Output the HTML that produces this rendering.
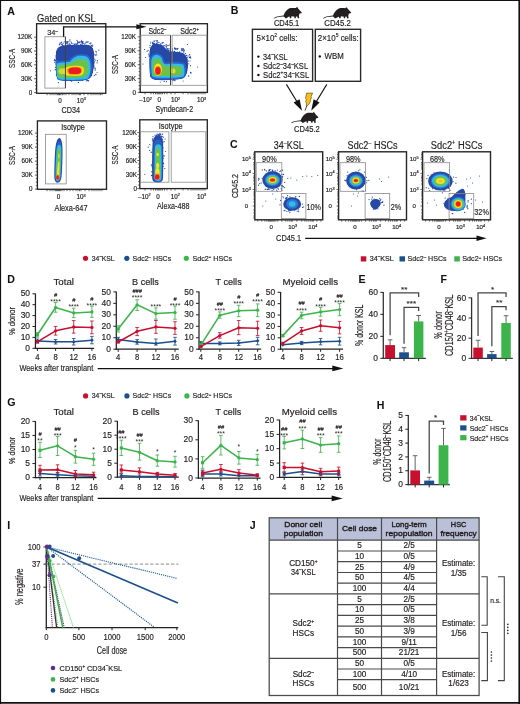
<!DOCTYPE html>
<html><head><meta charset="utf-8"><style>
html,body{margin:0;padding:0;background:#fff;}
svg{display:block;will-change:transform;}
text{font-family:"Liberation Sans",sans-serif;stroke:#231f20;stroke-width:0.18px;} text[font-weight="bold"]{stroke-width:0.05px;}
</style></head><body>
<svg width="520" height="704" viewBox="0 0 520 704">
<rect x="0" y="0" width="520" height="704" fill="#fff"/>
<line x1="0.5" y1="0" x2="0.5" y2="704" stroke="#111" stroke-width="1.2"/>
<line x1="0" y1="0.5" x2="520" y2="0.5" stroke="#111" stroke-width="1.2"/>
<line x1="519.2" y1="0" x2="519.2" y2="704" stroke="#111" stroke-width="1.6"/>
<line x1="0" y1="702.9" x2="520" y2="702.9" stroke="#111" stroke-width="1.6"/>
<text x="7.2" y="14.6" font-size="10.6" font-weight="bold" fill="#111">A</text>
<text x="230.7" y="14.2" font-size="10.6" font-weight="bold" fill="#111">B</text>
<text x="230" y="147.6" font-size="10.6" font-weight="bold" fill="#111">C</text>
<text x="7.3" y="282.6" font-size="10.6" font-weight="bold" fill="#111">D</text>
<text x="358.6" y="282.8" font-size="10.6" font-weight="bold" fill="#111">E</text>
<text x="440.4" y="282.8" font-size="10.6" font-weight="bold" fill="#111">F</text>
<text x="7.2" y="406.4" font-size="10.6" font-weight="bold" fill="#111">G</text>
<text x="376.8" y="408.8" font-size="10.6" font-weight="bold" fill="#111">H</text>
<text x="7.3" y="528.8" font-size="10.6" font-weight="bold" fill="#111">I</text>
<text x="249.8" y="528.8" font-size="10.6" font-weight="bold" fill="#111">J</text>
<text x="37" y="21.6" font-size="10.7" textLength="58.6" lengthAdjust="spacingAndGlyphs" fill="#231f20">Gated on KSL</text>
<defs><filter id="bl" x="-20%" y="-20%" width="140%" height="140%"><feGaussianBlur stdDeviation="0.55"/></filter><filter id="bl2" x="-20%" y="-20%" width="140%" height="140%"><feGaussianBlur stdDeviation="0.9"/></filter></defs>
<rect x="36.6" y="23.7" width="69.2" height="69.6" fill="none" stroke="#262626" stroke-width="1.35"/>
<text x="32.3" y="39.4" font-size="6.3" text-anchor="end" fill="#231f20">120K</text>
<line x1="34.1" y1="37.2" x2="36.6" y2="37.2" stroke="#333" stroke-width="0.8"/>
<text x="32.3" y="53.2" font-size="6.3" text-anchor="end" fill="#231f20">90K</text>
<line x1="34.1" y1="51" x2="36.6" y2="51" stroke="#333" stroke-width="0.8"/>
<text x="32.3" y="67" font-size="6.3" text-anchor="end" fill="#231f20">60K</text>
<line x1="34.1" y1="64.8" x2="36.6" y2="64.8" stroke="#333" stroke-width="0.8"/>
<text x="32.3" y="80.9" font-size="6.3" text-anchor="end" fill="#231f20">30K</text>
<line x1="34.1" y1="78.7" x2="36.6" y2="78.7" stroke="#333" stroke-width="0.8"/>
<text x="32.3" y="94.8" font-size="6.3" text-anchor="end" fill="#231f20">0</text>
<line x1="34.1" y1="92.6" x2="36.6" y2="92.6" stroke="#333" stroke-width="0.8"/>
<line x1="35" y1="40.66" x2="36.6" y2="40.66" stroke="#333" stroke-width="0.75"/>
<line x1="35" y1="44.12" x2="36.6" y2="44.12" stroke="#333" stroke-width="0.75"/>
<line x1="35" y1="47.59" x2="36.6" y2="47.59" stroke="#333" stroke-width="0.75"/>
<line x1="35" y1="54.46" x2="36.6" y2="54.46" stroke="#333" stroke-width="0.75"/>
<line x1="35" y1="57.92" x2="36.6" y2="57.92" stroke="#333" stroke-width="0.75"/>
<line x1="35" y1="61.39" x2="36.6" y2="61.39" stroke="#333" stroke-width="0.75"/>
<line x1="35" y1="68.26" x2="36.6" y2="68.26" stroke="#333" stroke-width="0.75"/>
<line x1="35" y1="71.72" x2="36.6" y2="71.72" stroke="#333" stroke-width="0.75"/>
<line x1="35" y1="75.19" x2="36.6" y2="75.19" stroke="#333" stroke-width="0.75"/>
<line x1="35" y1="82.16" x2="36.6" y2="82.16" stroke="#333" stroke-width="0.75"/>
<line x1="35" y1="85.62" x2="36.6" y2="85.62" stroke="#333" stroke-width="0.75"/>
<line x1="35" y1="89.09" x2="36.6" y2="89.09" stroke="#333" stroke-width="0.75"/>
<text x="14.8" y="58.4" font-size="9.86" text-anchor="middle" textLength="19" lengthAdjust="spacingAndGlyphs" transform="rotate(-90 14.8 58.4)" fill="#231f20">SSC-A</text>
<circle cx="88.41" cy="75.05" r="0.62" fill="#2446b0"/>
<circle cx="76.58" cy="44.03" r="0.62" fill="#2446b0"/>
<circle cx="56.09" cy="61.51" r="0.62" fill="#2446b0"/>
<circle cx="63.4" cy="45.83" r="0.62" fill="#2446b0"/>
<circle cx="89.61" cy="70.1" r="0.62" fill="#2446b0"/>
<circle cx="84.68" cy="45.93" r="0.62" fill="#2446b0"/>
<circle cx="76.35" cy="44.77" r="0.62" fill="#2446b0"/>
<circle cx="56.36" cy="67.2" r="0.62" fill="#2446b0"/>
<circle cx="77.73" cy="79.92" r="0.62" fill="#2446b0"/>
<circle cx="89.32" cy="51.5" r="0.62" fill="#2446b0"/>
<circle cx="93.97" cy="63.85" r="0.62" fill="#2446b0"/>
<circle cx="92.35" cy="54.5" r="0.62" fill="#2446b0"/>
<circle cx="78.92" cy="78.15" r="0.62" fill="#2446b0"/>
<circle cx="92.89" cy="64.07" r="0.62" fill="#2446b0"/>
<circle cx="57.37" cy="67.75" r="0.62" fill="#2446b0"/>
<circle cx="76.93" cy="77.87" r="0.62" fill="#2446b0"/>
<circle cx="78.69" cy="78.3" r="0.62" fill="#2446b0"/>
<circle cx="70.66" cy="76.83" r="0.62" fill="#2446b0"/>
<circle cx="85.07" cy="45.72" r="0.62" fill="#2446b0"/>
<circle cx="63.68" cy="47.88" r="0.62" fill="#2446b0"/>
<circle cx="95.21" cy="60.12" r="0.62" fill="#2446b0"/>
<circle cx="88.45" cy="72.89" r="0.62" fill="#2446b0"/>
<circle cx="71.48" cy="42.9" r="0.62" fill="#2446b0"/>
<circle cx="92.35" cy="54.18" r="0.62" fill="#2446b0"/>
<circle cx="84.46" cy="44.99" r="0.62" fill="#2446b0"/>
<circle cx="68.63" cy="78.02" r="0.62" fill="#2446b0"/>
<circle cx="89.93" cy="48.35" r="0.62" fill="#2446b0"/>
<circle cx="55.64" cy="60.4" r="0.62" fill="#2446b0"/>
<circle cx="92.83" cy="64.66" r="0.62" fill="#2446b0"/>
<circle cx="80.52" cy="44.26" r="0.62" fill="#2446b0"/>
<circle cx="83.95" cy="76.85" r="0.62" fill="#2446b0"/>
<circle cx="69.29" cy="43.51" r="0.62" fill="#2446b0"/>
<circle cx="61.67" cy="73.45" r="0.62" fill="#2446b0"/>
<circle cx="55.06" cy="60.02" r="0.62" fill="#2446b0"/>
<circle cx="56.42" cy="58.71" r="0.62" fill="#2446b0"/>
<circle cx="57.46" cy="62.06" r="0.62" fill="#2446b0"/>
<circle cx="94" cy="65.96" r="0.62" fill="#2446b0"/>
<circle cx="94.27" cy="59.1" r="0.62" fill="#2446b0"/>
<circle cx="60.85" cy="71.4" r="0.62" fill="#2446b0"/>
<circle cx="54.38" cy="60.73" r="0.62" fill="#2446b0"/>
<circle cx="77.47" cy="43.27" r="0.62" fill="#2446b0"/>
<circle cx="86.64" cy="47.95" r="0.62" fill="#2446b0"/>
<circle cx="54.55" cy="59.35" r="0.62" fill="#2446b0"/>
<circle cx="58.27" cy="52.72" r="0.62" fill="#2446b0"/>
<circle cx="72.68" cy="78.77" r="0.62" fill="#2446b0"/>
<circle cx="91.87" cy="56.66" r="0.62" fill="#2446b0"/>
<circle cx="79.22" cy="42.7" r="0.62" fill="#2446b0"/>
<circle cx="89.99" cy="48.88" r="0.62" fill="#2446b0"/>
<circle cx="81.95" cy="44.4" r="0.62" fill="#2446b0"/>
<circle cx="57.54" cy="54.4" r="0.62" fill="#2446b0"/>
<circle cx="94.02" cy="67.51" r="0.62" fill="#2446b0"/>
<circle cx="58.6" cy="53.82" r="0.62" fill="#2446b0"/>
<circle cx="55.97" cy="60.47" r="0.62" fill="#2446b0"/>
<circle cx="63.44" cy="74.55" r="0.62" fill="#2446b0"/>
<circle cx="56.09" cy="56.66" r="0.62" fill="#2446b0"/>
<g filter="url(#bl)">
<clipPath id="cA1"><path d="M55.8,54 C55.8,48 59,45.6 64,45.2 C70,44.8 80,44.4 88,44.8 C92.5,45.5 94.2,49 94.3,55 C94.6,63 94,71 92,76 C90,79.8 84,80.9 76,81 C68,81.2 60,81 57.5,79.2 C55.8,76 55.6,66 55.8,54 Z"/></clipPath><g clip-path="url(#cA1)">
<path d="M55.8,54 C55.8,48 59,45.6 64,45.2 C70,44.8 80,44.4 88,44.8 C92.5,45.5 94.2,49 94.3,55 C94.6,63 94,71 92,76 C90,79.8 84,80.9 76,81 C68,81.2 60,81 57.5,79.2 C55.8,76 55.6,66 55.8,54 Z" fill="#2548a8" stroke="none" stroke-width="1"/>
<path d="M56.8,63.5 C59,62.8 64,62.5 70,61.8 C72,59.5 74,57 77,56.2 C80,55.6 84,55.8 86.8,56.8 C89.5,58.8 90.3,62 90.5,66 C90.7,70 90.2,75 88,78.5 C83,80 72,80.1 63,79.8 C59,79.5 57.4,78.5 57,76.5 C56.5,72 56.5,65 56.8,61.5 Z" fill="#2d63c6" stroke="#2d63c6" stroke-width="3.6" stroke-linejoin="round"/>
<path d="M56.8,63.5 C59,62.8 64,62.5 70,61.8 C72,59.5 74,57 77,56.2 C80,55.6 84,55.8 86.8,56.8 C89.5,58.8 90.3,62 90.5,66 C90.7,70 90.2,75 88,78.5 C83,80 72,80.1 63,79.8 C59,79.5 57.4,78.5 57,76.5 C56.5,72 56.5,65 56.8,61.5 Z" fill="#2fbcee" stroke="none" stroke-width="1"/>
<path d="M57.4,65.5 C60,64.8 65,64.5 70,63.5 C72.5,62 75,60 78,59.2 C82,58.7 86,59.5 87.6,61.8 C88.8,65 88.8,70 88,74 C86,77.4 79,78 70,78.1 C64,78.1 60,77.9 58.3,76.8 C57.3,73.5 57.2,67 57.4,63.5 Z" fill="#6cc24a" stroke="none" stroke-width="1"/>
<ellipse cx="62" cy="71.2" rx="3.6" ry="3" fill="#c8dc3c"/>
<path d="M63.5,69.5 C65,67 69,66.3 74,65.8 C78,65.5 82,65.6 83.4,67.8 C84.4,70 84,73.5 82,75 C78,76 72,75.9 67,75.6 C64.5,75.2 63.4,73.5 63.4,71.5 Z" fill="#f3e51f" stroke="none" stroke-width="1"/>
<path d="M67.2,69.3 C68,67.4 71,66.9 75,66.7 C79,66.6 81.8,67 82.2,69.5 C82.4,72 81.6,74.3 78,74.7 C74,75 70,74.9 68.3,74 C67.1,72.9 67,70.8 67.2,69.3 Z" fill="#f7941d" stroke="none" stroke-width="1"/>
<path d="M68.6,69.6 C69.4,68 72,67.5 75,67.6 C78.5,67.6 80.8,68 81.1,70 C81.3,72 80.6,73.7 77.6,74 C74,74.2 71,74.1 69.5,73.5 C68.5,72.6 68.4,70.6 68.6,69.6 Z" fill="#ec1c24" stroke="none" stroke-width="1"/>
</g>
</g>
<circle cx="78.76" cy="42.47" r="0.74" fill="#2446b0"/>
<circle cx="90.42" cy="43.84" r="0.66" fill="#2446b0"/>
<circle cx="66.29" cy="42.61" r="0.57" fill="#2446b0"/>
<circle cx="82.54" cy="42.56" r="0.74" fill="#2446b0"/>
<circle cx="61.39" cy="42.47" r="0.52" fill="#2446b0"/>
<circle cx="85.18" cy="43.33" r="0.61" fill="#2446b0"/>
<circle cx="70.08" cy="44.69" r="0.6" fill="#2446b0"/>
<circle cx="66.08" cy="43.65" r="0.57" fill="#2446b0"/>
<circle cx="62.77" cy="45.62" r="0.66" fill="#2446b0"/>
<circle cx="81.6" cy="45.91" r="0.59" fill="#2446b0"/>
<circle cx="71.9" cy="43.61" r="0.6" fill="#2446b0"/>
<circle cx="81.74" cy="41.53" r="0.61" fill="#2446b0"/>
<circle cx="77.19" cy="43.23" r="0.5" fill="#2446b0"/>
<circle cx="82.96" cy="41.55" r="0.64" fill="#2446b0"/>
<circle cx="64.21" cy="41.67" r="0.54" fill="#2446b0"/>
<circle cx="61.24" cy="42.25" r="0.67" fill="#2446b0"/>
<circle cx="83.76" cy="43.31" r="0.66" fill="#2446b0"/>
<circle cx="75.15" cy="43.99" r="0.71" fill="#2446b0"/>
<circle cx="69.58" cy="45.85" r="0.67" fill="#2446b0"/>
<circle cx="82.24" cy="41.53" r="0.52" fill="#2446b0"/>
<circle cx="60.09" cy="43.23" r="0.73" fill="#2446b0"/>
<circle cx="88.77" cy="45.69" r="0.53" fill="#2446b0"/>
<circle cx="82.99" cy="45.37" r="0.7" fill="#2446b0"/>
<circle cx="85.94" cy="42.2" r="0.54" fill="#2446b0"/>
<circle cx="85.95" cy="45.19" r="0.72" fill="#2446b0"/>
<circle cx="74.18" cy="45.95" r="0.53" fill="#2446b0"/>
<circle cx="91.54" cy="45.92" r="0.58" fill="#2446b0"/>
<circle cx="61.3" cy="44.24" r="0.67" fill="#2446b0"/>
<circle cx="70.91" cy="41.79" r="0.57" fill="#2446b0"/>
<circle cx="87.03" cy="41.95" r="0.73" fill="#2446b0"/>
<circle cx="67.5" cy="42.52" r="0.52" fill="#2446b0"/>
<circle cx="92.36" cy="46.01" r="0.58" fill="#2446b0"/>
<circle cx="62.25" cy="44.77" r="0.72" fill="#2446b0"/>
<circle cx="59.41" cy="44.67" r="0.71" fill="#2446b0"/>
<circle cx="74.6" cy="44.35" r="0.7" fill="#2446b0"/>
<circle cx="67.11" cy="42.87" r="0.66" fill="#2446b0"/>
<circle cx="77.78" cy="44.18" r="0.58" fill="#2446b0"/>
<circle cx="90.86" cy="42.94" r="0.66" fill="#2446b0"/>
<circle cx="89.4" cy="43.5" r="0.51" fill="#2446b0"/>
<circle cx="66.49" cy="41.83" r="0.53" fill="#2446b0"/>
<circle cx="63.1" cy="43.21" r="0.59" fill="#2446b0"/>
<circle cx="74.21" cy="44.83" r="0.66" fill="#2446b0"/>
<circle cx="82.37" cy="43.32" r="0.66" fill="#2446b0"/>
<circle cx="77.69" cy="42.14" r="0.63" fill="#2446b0"/>
<circle cx="69.82" cy="44.88" r="0.68" fill="#2446b0"/>
<circle cx="67.18" cy="43.68" r="0.61" fill="#2446b0"/>
<circle cx="69.09" cy="41.7" r="0.51" fill="#2446b0"/>
<circle cx="92.76" cy="45.2" r="0.6" fill="#2446b0"/>
<circle cx="81.67" cy="42.84" r="0.67" fill="#2446b0"/>
<circle cx="91.33" cy="45.37" r="0.61" fill="#2446b0"/>
<circle cx="92.44" cy="46.11" r="0.51" fill="#2446b0"/>
<circle cx="73" cy="43.76" r="0.56" fill="#2446b0"/>
<circle cx="79.96" cy="42.22" r="0.68" fill="#2446b0"/>
<circle cx="88.16" cy="41.81" r="0.67" fill="#2446b0"/>
<circle cx="68.04" cy="44.69" r="0.67" fill="#2446b0"/>
<circle cx="67.85" cy="41.66" r="0.54" fill="#2446b0"/>
<circle cx="82.53" cy="41.63" r="0.59" fill="#2446b0"/>
<circle cx="80.05" cy="41.48" r="0.51" fill="#2446b0"/>
<circle cx="77.78" cy="41.67" r="0.62" fill="#2446b0"/>
<circle cx="86.87" cy="42.07" r="0.59" fill="#2446b0"/>
<circle cx="69.9" cy="39.95" r="0.7" fill="#2446b0"/>
<circle cx="81.93" cy="41.63" r="0.61" fill="#2446b0"/>
<circle cx="77.03" cy="40.28" r="0.63" fill="#2446b0"/>
<circle cx="67.78" cy="41.67" r="0.65" fill="#2446b0"/>
<circle cx="81.43" cy="40.36" r="0.52" fill="#2446b0"/>
<circle cx="97.42" cy="60.78" r="0.67" fill="#2446b0"/>
<circle cx="96.44" cy="54.02" r="0.52" fill="#2446b0"/>
<circle cx="95.91" cy="51.41" r="0.59" fill="#2446b0"/>
<circle cx="97.06" cy="72.42" r="0.53" fill="#2446b0"/>
<circle cx="93.83" cy="54.23" r="0.7" fill="#2446b0"/>
<circle cx="93.6" cy="54.31" r="0.52" fill="#2446b0"/>
<circle cx="94.01" cy="62.66" r="0.54" fill="#2446b0"/>
<circle cx="95.14" cy="68.53" r="0.68" fill="#2446b0"/>
<circle cx="95.16" cy="70.01" r="0.64" fill="#2446b0"/>
<circle cx="96.81" cy="54.97" r="0.59" fill="#2446b0"/>
<circle cx="95.82" cy="74.49" r="0.65" fill="#2446b0"/>
<circle cx="95.4" cy="55.03" r="0.57" fill="#2446b0"/>
<circle cx="94.36" cy="75.62" r="0.72" fill="#2446b0"/>
<circle cx="97.08" cy="62.8" r="0.67" fill="#2446b0"/>
<circle cx="94.69" cy="61.48" r="0.53" fill="#2446b0"/>
<circle cx="95.18" cy="55.08" r="0.52" fill="#2446b0"/>
<circle cx="56.42" cy="75.05" r="0.68" fill="#2446b0"/>
<circle cx="54.96" cy="62.6" r="0.67" fill="#2446b0"/>
<circle cx="56.11" cy="55.38" r="0.54" fill="#2446b0"/>
<circle cx="56.29" cy="57.72" r="0.66" fill="#2446b0"/>
<circle cx="55.16" cy="69.85" r="0.71" fill="#2446b0"/>
<circle cx="55.66" cy="64" r="0.58" fill="#2446b0"/>
<circle cx="55.74" cy="69.45" r="0.6" fill="#2446b0"/>
<circle cx="55.43" cy="67.34" r="0.56" fill="#2446b0"/>
<circle cx="86.34" cy="80.87" r="0.69" fill="#2446b0"/>
<circle cx="88.55" cy="80.78" r="0.69" fill="#2446b0"/>
<circle cx="70.04" cy="80.41" r="0.58" fill="#2446b0"/>
<circle cx="82.54" cy="80.37" r="0.66" fill="#2446b0"/>
<circle cx="70.54" cy="80.42" r="0.6" fill="#2446b0"/>
<circle cx="71.59" cy="81.15" r="0.71" fill="#2446b0"/>
<circle cx="87.61" cy="80.57" r="0.74" fill="#2446b0"/>
<circle cx="78.36" cy="82.4" r="0.7" fill="#2446b0"/>
<circle cx="50.5" cy="70.8" r="0.6" fill="#2446b0"/>
<circle cx="58.5" cy="82.7" r="0.6" fill="#2446b0"/>
<circle cx="96.5" cy="52" r="0.6" fill="#2446b0"/>
<circle cx="98.8" cy="50.2" r="0.6" fill="#2446b0"/>
<rect x="44.9" y="36.75" width="20.5" height="51.35" fill="none" stroke="#8a8a8a" stroke-width="0.8"/>
<line x1="65.4" y1="36.75" x2="65.4" y2="88.1" stroke="#333" stroke-width="0.9"/>
<text x="52.5" y="35.2" font-size="7.4" text-anchor="middle" fill="#231f20">34<tspan font-size="4.5" dy="-2.6">&#8211;</tspan><tspan dy="2.6"></tspan></text>
<path d="M63.6,36.8 V26.8 H138" fill="none" stroke="#111" stroke-width="1.3"/>
<path d="M136.4,24.3 L146.6,26.8 L136.4,29.3 Z" fill="#111" stroke="none" stroke-width="1"/>
<text x="60" y="102.6" font-size="6.3" text-anchor="middle" fill="#231f20">0</text>
<text x="81.2" y="102.6" font-size="6.3" text-anchor="middle" fill="#231f20">10<tspan font-size="3.8" dy="-2.2">3</tspan><tspan dy="2.2"></tspan></text>
<text x="70.8" y="112.6" font-size="9.54" text-anchor="middle" textLength="18.5" lengthAdjust="spacingAndGlyphs" fill="#231f20">CD34</text>
<line x1="47" y1="93.3" x2="47" y2="95.2" stroke="#333" stroke-width="0.75"/>
<line x1="50" y1="93.3" x2="50" y2="95.2" stroke="#333" stroke-width="0.75"/>
<line x1="52" y1="93.3" x2="52" y2="95.2" stroke="#333" stroke-width="0.75"/>
<line x1="54" y1="93.3" x2="54" y2="95.2" stroke="#333" stroke-width="0.75"/>
<line x1="56" y1="93.3" x2="56" y2="95.2" stroke="#333" stroke-width="0.75"/>
<line x1="57.5" y1="93.3" x2="57.5" y2="95.2" stroke="#333" stroke-width="0.75"/>
<line x1="58.5" y1="93.3" x2="58.5" y2="95.2" stroke="#333" stroke-width="0.75"/>
<line x1="59.5" y1="93.3" x2="59.5" y2="95.2" stroke="#333" stroke-width="0.75"/>
<line x1="60" y1="93.3" x2="60" y2="95.2" stroke="#333" stroke-width="0.75"/>
<line x1="61" y1="93.3" x2="61" y2="95.2" stroke="#333" stroke-width="0.75"/>
<line x1="62.5" y1="93.3" x2="62.5" y2="95.2" stroke="#333" stroke-width="0.75"/>
<line x1="64" y1="93.3" x2="64" y2="95.2" stroke="#333" stroke-width="0.75"/>
<line x1="66" y1="93.3" x2="66" y2="95.2" stroke="#333" stroke-width="0.75"/>
<line x1="69" y1="93.3" x2="69" y2="95.2" stroke="#333" stroke-width="0.75"/>
<line x1="72" y1="93.3" x2="72" y2="95.2" stroke="#333" stroke-width="0.75"/>
<line x1="74" y1="93.3" x2="74" y2="95.2" stroke="#333" stroke-width="0.75"/>
<line x1="76" y1="93.3" x2="76" y2="95.2" stroke="#333" stroke-width="0.75"/>
<line x1="78" y1="93.3" x2="78" y2="95.2" stroke="#333" stroke-width="0.75"/>
<line x1="79.5" y1="93.3" x2="79.5" y2="95.2" stroke="#333" stroke-width="0.75"/>
<line x1="80.5" y1="93.3" x2="80.5" y2="95.2" stroke="#333" stroke-width="0.75"/>
<line x1="84" y1="93.3" x2="84" y2="95.2" stroke="#333" stroke-width="0.75"/>
<line x1="88" y1="93.3" x2="88" y2="95.2" stroke="#333" stroke-width="0.75"/>
<line x1="91" y1="93.3" x2="91" y2="95.2" stroke="#333" stroke-width="0.75"/>
<line x1="93" y1="93.3" x2="93" y2="95.2" stroke="#333" stroke-width="0.75"/>
<line x1="95" y1="93.3" x2="95" y2="95.2" stroke="#333" stroke-width="0.75"/>
<line x1="97" y1="93.3" x2="97" y2="95.2" stroke="#333" stroke-width="0.75"/>
<line x1="99" y1="93.3" x2="99" y2="95.2" stroke="#333" stroke-width="0.75"/>
<line x1="100.5" y1="93.3" x2="100.5" y2="95.2" stroke="#333" stroke-width="0.75"/>
<line x1="102" y1="93.3" x2="102" y2="95.2" stroke="#333" stroke-width="0.75"/>
<rect x="140.2" y="23.7" width="67.2" height="68.7" fill="none" stroke="#262626" stroke-width="1.35"/>
<text x="136" y="39.1" font-size="6.3" text-anchor="end" fill="#231f20">120K</text>
<line x1="137.7" y1="36.9" x2="140.2" y2="36.9" stroke="#333" stroke-width="0.8"/>
<text x="136" y="53" font-size="6.3" text-anchor="end" fill="#231f20">90K</text>
<line x1="137.7" y1="50.8" x2="140.2" y2="50.8" stroke="#333" stroke-width="0.8"/>
<text x="136" y="66.9" font-size="6.3" text-anchor="end" fill="#231f20">60K</text>
<line x1="137.7" y1="64.7" x2="140.2" y2="64.7" stroke="#333" stroke-width="0.8"/>
<text x="136" y="80.8" font-size="6.3" text-anchor="end" fill="#231f20">30K</text>
<line x1="137.7" y1="78.6" x2="140.2" y2="78.6" stroke="#333" stroke-width="0.8"/>
<text x="136" y="94.6" font-size="6.3" text-anchor="end" fill="#231f20">0</text>
<line x1="137.7" y1="92.4" x2="140.2" y2="92.4" stroke="#333" stroke-width="0.8"/>
<line x1="138.6" y1="40.37" x2="140.2" y2="40.37" stroke="#333" stroke-width="0.75"/>
<line x1="138.6" y1="43.84" x2="140.2" y2="43.84" stroke="#333" stroke-width="0.75"/>
<line x1="138.6" y1="47.31" x2="140.2" y2="47.31" stroke="#333" stroke-width="0.75"/>
<line x1="138.6" y1="54.27" x2="140.2" y2="54.27" stroke="#333" stroke-width="0.75"/>
<line x1="138.6" y1="57.74" x2="140.2" y2="57.74" stroke="#333" stroke-width="0.75"/>
<line x1="138.6" y1="61.21" x2="140.2" y2="61.21" stroke="#333" stroke-width="0.75"/>
<line x1="138.6" y1="68.17" x2="140.2" y2="68.17" stroke="#333" stroke-width="0.75"/>
<line x1="138.6" y1="71.64" x2="140.2" y2="71.64" stroke="#333" stroke-width="0.75"/>
<line x1="138.6" y1="75.11" x2="140.2" y2="75.11" stroke="#333" stroke-width="0.75"/>
<line x1="138.6" y1="82.07" x2="140.2" y2="82.07" stroke="#333" stroke-width="0.75"/>
<line x1="138.6" y1="85.54" x2="140.2" y2="85.54" stroke="#333" stroke-width="0.75"/>
<line x1="138.6" y1="89.01" x2="140.2" y2="89.01" stroke="#333" stroke-width="0.75"/>
<text x="117.9" y="64.6" font-size="9.86" text-anchor="middle" textLength="19" lengthAdjust="spacingAndGlyphs" transform="rotate(-90 117.9 64.6)" fill="#231f20">SSC-A</text>
<circle cx="168.41" cy="48.89" r="0.62" fill="#2446b0"/>
<circle cx="166.45" cy="55.3" r="0.62" fill="#2446b0"/>
<circle cx="163.31" cy="42.62" r="0.62" fill="#2446b0"/>
<circle cx="153.42" cy="43.26" r="0.62" fill="#2446b0"/>
<circle cx="150.05" cy="45.43" r="0.62" fill="#2446b0"/>
<circle cx="150" cy="47.29" r="0.62" fill="#2446b0"/>
<circle cx="149.24" cy="56.29" r="0.62" fill="#2446b0"/>
<circle cx="156.16" cy="40.68" r="0.62" fill="#2446b0"/>
<circle cx="167.47" cy="48.72" r="0.62" fill="#2446b0"/>
<circle cx="149.16" cy="55.36" r="0.62" fill="#2446b0"/>
<circle cx="166.67" cy="54.09" r="0.62" fill="#2446b0"/>
<circle cx="148.73" cy="54.19" r="0.62" fill="#2446b0"/>
<circle cx="150.2" cy="59.71" r="0.62" fill="#2446b0"/>
<circle cx="148.12" cy="50.3" r="0.62" fill="#2446b0"/>
<circle cx="158.77" cy="61.32" r="0.62" fill="#2446b0"/>
<circle cx="153.85" cy="60.55" r="0.62" fill="#2446b0"/>
<circle cx="147.1" cy="51.26" r="0.62" fill="#2446b0"/>
<circle cx="153.79" cy="43.37" r="0.62" fill="#2446b0"/>
<circle cx="177.78" cy="71.33" r="0.62" fill="#2446b0"/>
<circle cx="169.85" cy="68.38" r="0.62" fill="#2446b0"/>
<circle cx="170.37" cy="52.64" r="0.62" fill="#2446b0"/>
<circle cx="187.85" cy="60.99" r="0.62" fill="#2446b0"/>
<circle cx="176.43" cy="70.7" r="0.62" fill="#2446b0"/>
<circle cx="187.19" cy="59.69" r="0.62" fill="#2446b0"/>
<circle cx="182.28" cy="50.39" r="0.62" fill="#2446b0"/>
<circle cx="170.85" cy="51.91" r="0.62" fill="#2446b0"/>
<circle cx="169.75" cy="50.97" r="0.62" fill="#2446b0"/>
<circle cx="166.41" cy="58.29" r="0.62" fill="#2446b0"/>
<circle cx="172.53" cy="50.87" r="0.62" fill="#2446b0"/>
<circle cx="177.54" cy="48.55" r="0.62" fill="#2446b0"/>
<circle cx="174.04" cy="69.77" r="0.62" fill="#2446b0"/>
<circle cx="183.77" cy="51.61" r="0.62" fill="#2446b0"/>
<circle cx="174.86" cy="48.16" r="0.62" fill="#2446b0"/>
<circle cx="174.53" cy="48.15" r="0.62" fill="#2446b0"/>
<circle cx="168.45" cy="67.3" r="0.62" fill="#2446b0"/>
<circle cx="166.59" cy="64.15" r="0.62" fill="#2446b0"/>
<circle cx="183.87" cy="52.8" r="0.62" fill="#2446b0"/>
<circle cx="183.38" cy="68.06" r="0.62" fill="#2446b0"/>
<circle cx="186.89" cy="57.6" r="0.62" fill="#2446b0"/>
<circle cx="170.09" cy="52.24" r="0.62" fill="#2446b0"/>
<circle cx="166.98" cy="59.5" r="0.62" fill="#2446b0"/>
<circle cx="170.83" cy="69.23" r="0.62" fill="#2446b0"/>
<circle cx="167.49" cy="53.88" r="0.62" fill="#2446b0"/>
<circle cx="172.41" cy="48.92" r="0.62" fill="#2446b0"/>
<circle cx="183.93" cy="50.35" r="0.62" fill="#2446b0"/>
<circle cx="172.44" cy="50.7" r="0.62" fill="#2446b0"/>
<circle cx="184.13" cy="50.6" r="0.62" fill="#2446b0"/>
<circle cx="185.58" cy="53.56" r="0.62" fill="#2446b0"/>
<g filter="url(#bl)">
<clipPath id="cA2"><path d="M149.3,54 C149.2,48 151.5,44 155,43.7 C159,43.5 162,44 164,46.5 C166,49 168.5,51.5 171,51.8 C174,51.2 178,51.3 182,52.5 C186,54 187.9,58 188,64 C188.2,71 187,76 183,78.5 C177,80 170,80.3 162,80.4 C155,80.4 151.5,79.5 150.2,77 C149.2,72 149.1,62 149.3,54 Z"/></clipPath><g clip-path="url(#cA2)">
<path d="M149.3,54 C149.2,48 151.5,44 155,43.7 C159,43.5 162,44 164,46.5 C166,49 168.5,51.5 171,51.8 C174,51.2 178,51.3 182,52.5 C186,54 187.9,58 188,64 C188.2,71 187,76 183,78.5 C177,80 170,80.3 162,80.4 C155,80.4 151.5,79.5 150.2,77 C149.2,72 149.1,62 149.3,54 Z" fill="#2548a8" stroke="none" stroke-width="1"/>
<path d="M151.3,62 C151.5,57 153.5,55 156.5,55 C160,55 161.8,57.5 162.6,61 C163.5,64.5 165,64.4 168,64 C173,63.5 180,63.5 183.2,64.5 C184.8,67 184.8,74 183.7,76.5 C179,77.8 172,77.8 166,77.7 C159,77.8 154,77.8 152.3,76.5 C151.4,73 151.2,66 151.3,62 Z" fill="#2d63c6" stroke="#2d63c6" stroke-width="3.6" stroke-linejoin="round"/>
<path d="M151.3,62 C151.5,57 153.5,55 156.5,55 C160,55 161.8,57.5 162.6,61 C163.5,64.5 165,64.4 168,64 C173,63.5 180,63.5 183.2,64.5 C184.8,67 184.8,74 183.7,76.5 C179,77.8 172,77.8 166,77.7 C159,77.8 154,77.8 152.3,76.5 C151.4,73 151.2,66 151.3,62 Z" fill="#2fbcee" stroke="none" stroke-width="1"/>
<path d="M152.5,63 C152.7,60 154.5,58.3 156.8,58.3 C159.5,58.3 161.2,60 162,63 C162.8,66 164.5,65.9 168,65.9 C173,65.7 179,65.7 181.6,66.5 C182.4,68.5 182.4,73 181.6,75 C177,75.8 170,75.9 165,76 C159,76.2 154.5,76.2 153,75 C152.4,72 152.3,66 152.5,63 Z" fill="#6cc24a" stroke="none" stroke-width="1"/>
<ellipse cx="172.9" cy="71.1" rx="2.6" ry="2.5" fill="#e4e02a"/>
<ellipse cx="158" cy="69.7" rx="3.9" ry="6.2" fill="#f3e51f"/>
<ellipse cx="157.9" cy="70.5" rx="3.1" ry="4.6" fill="#f7941d"/>
<ellipse cx="157.95" cy="70.8" rx="2.7" ry="3.9" fill="#ec1c24"/>
</g>
</g>
<circle cx="150.94" cy="41.97" r="0.5" fill="#2446b0"/>
<circle cx="153.96" cy="43.89" r="0.67" fill="#2446b0"/>
<circle cx="156.58" cy="43.89" r="0.61" fill="#2446b0"/>
<circle cx="162.11" cy="43.25" r="0.53" fill="#2446b0"/>
<circle cx="157.93" cy="42.65" r="0.63" fill="#2446b0"/>
<circle cx="153.01" cy="43.63" r="0.54" fill="#2446b0"/>
<circle cx="154.19" cy="41.58" r="0.56" fill="#2446b0"/>
<circle cx="152.53" cy="43.89" r="0.66" fill="#2446b0"/>
<circle cx="150.43" cy="43.09" r="0.52" fill="#2446b0"/>
<circle cx="159.01" cy="42.33" r="0.63" fill="#2446b0"/>
<circle cx="160.66" cy="44" r="0.67" fill="#2446b0"/>
<circle cx="154.11" cy="40.93" r="0.64" fill="#2446b0"/>
<circle cx="157.48" cy="44.52" r="0.71" fill="#2446b0"/>
<circle cx="152.63" cy="42.35" r="0.67" fill="#2446b0"/>
<circle cx="155.86" cy="44.85" r="0.5" fill="#2446b0"/>
<circle cx="155.79" cy="44.29" r="0.73" fill="#2446b0"/>
<circle cx="157.08" cy="41.63" r="0.64" fill="#2446b0"/>
<circle cx="154.46" cy="43.63" r="0.58" fill="#2446b0"/>
<circle cx="152.69" cy="43.14" r="0.69" fill="#2446b0"/>
<circle cx="156.86" cy="43.17" r="0.64" fill="#2446b0"/>
<circle cx="157.34" cy="40.53" r="0.59" fill="#2446b0"/>
<circle cx="162.23" cy="42.8" r="0.69" fill="#2446b0"/>
<circle cx="169.87" cy="48.84" r="0.6" fill="#2446b0"/>
<circle cx="164.78" cy="49.08" r="0.74" fill="#2446b0"/>
<circle cx="166.85" cy="50.38" r="0.5" fill="#2446b0"/>
<circle cx="167.75" cy="45.51" r="0.62" fill="#2446b0"/>
<circle cx="168.5" cy="50.42" r="0.63" fill="#2446b0"/>
<circle cx="170.82" cy="46.45" r="0.53" fill="#2446b0"/>
<circle cx="167.18" cy="49.36" r="0.67" fill="#2446b0"/>
<circle cx="163.33" cy="45.86" r="0.56" fill="#2446b0"/>
<circle cx="167.24" cy="50.46" r="0.56" fill="#2446b0"/>
<circle cx="163.41" cy="50.74" r="0.71" fill="#2446b0"/>
<circle cx="169.94" cy="44.29" r="0.56" fill="#2446b0"/>
<circle cx="164.59" cy="50.86" r="0.53" fill="#2446b0"/>
<circle cx="164.15" cy="45.65" r="0.69" fill="#2446b0"/>
<circle cx="164.78" cy="51.38" r="0.57" fill="#2446b0"/>
<circle cx="168.85" cy="45.44" r="0.57" fill="#2446b0"/>
<circle cx="170.79" cy="51.48" r="0.56" fill="#2446b0"/>
<circle cx="166.15" cy="44.43" r="0.54" fill="#2446b0"/>
<circle cx="166.46" cy="47.91" r="0.64" fill="#2446b0"/>
<circle cx="166.15" cy="45.19" r="0.63" fill="#2446b0"/>
<circle cx="166.14" cy="46.59" r="0.74" fill="#2446b0"/>
<circle cx="173.09" cy="51.79" r="0.64" fill="#2446b0"/>
<circle cx="174.55" cy="51.51" r="0.64" fill="#2446b0"/>
<circle cx="181.94" cy="50.75" r="0.68" fill="#2446b0"/>
<circle cx="181.3" cy="49.55" r="0.52" fill="#2446b0"/>
<circle cx="182.77" cy="48.53" r="0.63" fill="#2446b0"/>
<circle cx="183.9" cy="49.58" r="0.56" fill="#2446b0"/>
<circle cx="176.59" cy="48.91" r="0.68" fill="#2446b0"/>
<circle cx="175.58" cy="48.33" r="0.64" fill="#2446b0"/>
<circle cx="175.11" cy="48.81" r="0.5" fill="#2446b0"/>
<circle cx="182.07" cy="49.7" r="0.64" fill="#2446b0"/>
<circle cx="177.77" cy="51.91" r="0.51" fill="#2446b0"/>
<circle cx="179.61" cy="51.73" r="0.57" fill="#2446b0"/>
<circle cx="177.2" cy="49.51" r="0.58" fill="#2446b0"/>
<circle cx="183.34" cy="49.03" r="0.68" fill="#2446b0"/>
<circle cx="172.53" cy="51.52" r="0.52" fill="#2446b0"/>
<circle cx="181.47" cy="48.3" r="0.55" fill="#2446b0"/>
<circle cx="175.17" cy="49.27" r="0.69" fill="#2446b0"/>
<circle cx="178.05" cy="48.21" r="0.54" fill="#2446b0"/>
<circle cx="187.98" cy="55.88" r="0.64" fill="#2446b0"/>
<circle cx="186.66" cy="64.61" r="0.58" fill="#2446b0"/>
<circle cx="189.48" cy="57.47" r="0.74" fill="#2446b0"/>
<circle cx="186.36" cy="55.49" r="0.66" fill="#2446b0"/>
<circle cx="190.92" cy="72.96" r="0.7" fill="#2446b0"/>
<circle cx="186.76" cy="58.36" r="0.57" fill="#2446b0"/>
<circle cx="187.19" cy="57.75" r="0.57" fill="#2446b0"/>
<circle cx="187.89" cy="61.12" r="0.7" fill="#2446b0"/>
<circle cx="190.17" cy="56.95" r="0.63" fill="#2446b0"/>
<circle cx="189.65" cy="54.77" r="0.73" fill="#2446b0"/>
<circle cx="188.83" cy="63.86" r="0.6" fill="#2446b0"/>
<circle cx="190.51" cy="65.64" r="0.6" fill="#2446b0"/>
<circle cx="190.77" cy="58.03" r="0.61" fill="#2446b0"/>
<circle cx="190.63" cy="72.45" r="0.69" fill="#2446b0"/>
<circle cx="190.26" cy="57.25" r="0.66" fill="#2446b0"/>
<circle cx="188.53" cy="75.96" r="0.74" fill="#2446b0"/>
<circle cx="164.2" cy="81.45" r="0.63" fill="#2446b0"/>
<circle cx="166.39" cy="81.66" r="0.55" fill="#2446b0"/>
<circle cx="183.15" cy="81.04" r="0.52" fill="#2446b0"/>
<circle cx="174.83" cy="80.46" r="0.74" fill="#2446b0"/>
<circle cx="172.93" cy="80.41" r="0.73" fill="#2446b0"/>
<circle cx="160.27" cy="81.91" r="0.5" fill="#2446b0"/>
<circle cx="144.5" cy="49.5" r="0.6" fill="#2446b0"/>
<circle cx="145.5" cy="57.5" r="0.6" fill="#2446b0"/>
<circle cx="143" cy="64" r="0.6" fill="#2446b0"/>
<circle cx="190" cy="61" r="0.6" fill="#2446b0"/>
<circle cx="197.5" cy="67" r="0.6" fill="#2446b0"/>
<circle cx="187.5" cy="44.5" r="0.6" fill="#2446b0"/>
<rect x="140.9" y="35.2" width="29.6" height="50.1" fill="none" stroke="#8a8a8a" stroke-width="0.8"/>
<rect x="172.1" y="35.2" width="34.7" height="50.1" fill="none" stroke="#8a8a8a" stroke-width="0.8"/>
<line x1="170.5" y1="35.2" x2="170.5" y2="85.3" stroke="#3a3a3a" stroke-width="0.9"/>
<text x="157.4" y="33.6" font-size="8.25" text-anchor="middle" textLength="18" lengthAdjust="spacingAndGlyphs" fill="#231f20">Sdc2<tspan font-size="4.95" dy="-2.97">&#8211;</tspan><tspan dy="2.97"></tspan></text>
<text x="189.6" y="33.6" font-size="8.25" text-anchor="middle" textLength="18.7" lengthAdjust="spacingAndGlyphs" fill="#231f20">Sdc2<tspan font-size="4.95" dy="-2.97">+</tspan><tspan dy="2.97"></tspan></text>
<text x="145.5" y="102.3" font-size="6.3" text-anchor="middle" fill="#231f20">&#8211;10<tspan font-size="3.8" dy="-2.2">2</tspan><tspan dy="2.2"></tspan></text>
<text x="159.2" y="102.3" font-size="6.3" text-anchor="middle" fill="#231f20">0</text>
<text x="175.5" y="102.3" font-size="6.3" text-anchor="middle" fill="#231f20">10<tspan font-size="3.8" dy="-2.2">2</tspan><tspan dy="2.2"></tspan></text>
<text x="201.5" y="102.3" font-size="6.3" text-anchor="middle" fill="#231f20">10<tspan font-size="3.8" dy="-2.2">3</tspan><tspan dy="2.2"></tspan></text>
<text x="174.3" y="111.8" font-size="9.54" text-anchor="middle" textLength="37.5" lengthAdjust="spacingAndGlyphs" fill="#231f20">Syndecan-2</text>
<line x1="145" y1="92.4" x2="145" y2="94.3" stroke="#333" stroke-width="0.75"/>
<line x1="151" y1="92.4" x2="151" y2="94.3" stroke="#333" stroke-width="0.75"/>
<line x1="153.5" y1="92.4" x2="153.5" y2="94.3" stroke="#333" stroke-width="0.75"/>
<line x1="155.5" y1="92.4" x2="155.5" y2="94.3" stroke="#333" stroke-width="0.75"/>
<line x1="157" y1="92.4" x2="157" y2="94.3" stroke="#333" stroke-width="0.75"/>
<line x1="158" y1="92.4" x2="158" y2="94.3" stroke="#333" stroke-width="0.75"/>
<line x1="159" y1="92.4" x2="159" y2="94.3" stroke="#333" stroke-width="0.75"/>
<line x1="160" y1="92.4" x2="160" y2="94.3" stroke="#333" stroke-width="0.75"/>
<line x1="161" y1="92.4" x2="161" y2="94.3" stroke="#333" stroke-width="0.75"/>
<line x1="162.5" y1="92.4" x2="162.5" y2="94.3" stroke="#333" stroke-width="0.75"/>
<line x1="164.5" y1="92.4" x2="164.5" y2="94.3" stroke="#333" stroke-width="0.75"/>
<line x1="167" y1="92.4" x2="167" y2="94.3" stroke="#333" stroke-width="0.75"/>
<line x1="171" y1="92.4" x2="171" y2="94.3" stroke="#333" stroke-width="0.75"/>
<line x1="175" y1="92.4" x2="175" y2="94.3" stroke="#333" stroke-width="0.75"/>
<line x1="183" y1="92.4" x2="183" y2="94.3" stroke="#333" stroke-width="0.75"/>
<line x1="188" y1="92.4" x2="188" y2="94.3" stroke="#333" stroke-width="0.75"/>
<line x1="191" y1="92.4" x2="191" y2="94.3" stroke="#333" stroke-width="0.75"/>
<line x1="193" y1="92.4" x2="193" y2="94.3" stroke="#333" stroke-width="0.75"/>
<line x1="195" y1="92.4" x2="195" y2="94.3" stroke="#333" stroke-width="0.75"/>
<line x1="197" y1="92.4" x2="197" y2="94.3" stroke="#333" stroke-width="0.75"/>
<line x1="199" y1="92.4" x2="199" y2="94.3" stroke="#333" stroke-width="0.75"/>
<line x1="201" y1="92.4" x2="201" y2="94.3" stroke="#333" stroke-width="0.75"/>
<line x1="203" y1="92.4" x2="203" y2="94.3" stroke="#333" stroke-width="0.75"/>
<line x1="205" y1="92.4" x2="205" y2="94.3" stroke="#333" stroke-width="0.75"/>
<rect x="37.4" y="120.9" width="69.1" height="68.4" fill="none" stroke="#262626" stroke-width="1.35"/>
<text x="32.6" y="135.3" font-size="6.3" text-anchor="end" fill="#231f20">120K</text>
<line x1="34.9" y1="133.1" x2="37.4" y2="133.1" stroke="#333" stroke-width="0.8"/>
<text x="32.6" y="149.3" font-size="6.3" text-anchor="end" fill="#231f20">90K</text>
<line x1="34.9" y1="147.1" x2="37.4" y2="147.1" stroke="#333" stroke-width="0.8"/>
<text x="32.6" y="163.3" font-size="6.3" text-anchor="end" fill="#231f20">60K</text>
<line x1="34.9" y1="161.1" x2="37.4" y2="161.1" stroke="#333" stroke-width="0.8"/>
<text x="32.6" y="177.3" font-size="6.3" text-anchor="end" fill="#231f20">30K</text>
<line x1="34.9" y1="175.1" x2="37.4" y2="175.1" stroke="#333" stroke-width="0.8"/>
<text x="32.6" y="191.3" font-size="6.3" text-anchor="end" fill="#231f20">0</text>
<line x1="34.9" y1="189.1" x2="37.4" y2="189.1" stroke="#333" stroke-width="0.8"/>
<line x1="35.8" y1="136.6" x2="37.4" y2="136.6" stroke="#333" stroke-width="0.75"/>
<line x1="35.8" y1="140.1" x2="37.4" y2="140.1" stroke="#333" stroke-width="0.75"/>
<line x1="35.8" y1="143.6" x2="37.4" y2="143.6" stroke="#333" stroke-width="0.75"/>
<line x1="35.8" y1="150.6" x2="37.4" y2="150.6" stroke="#333" stroke-width="0.75"/>
<line x1="35.8" y1="154.1" x2="37.4" y2="154.1" stroke="#333" stroke-width="0.75"/>
<line x1="35.8" y1="157.6" x2="37.4" y2="157.6" stroke="#333" stroke-width="0.75"/>
<line x1="35.8" y1="164.6" x2="37.4" y2="164.6" stroke="#333" stroke-width="0.75"/>
<line x1="35.8" y1="168.1" x2="37.4" y2="168.1" stroke="#333" stroke-width="0.75"/>
<line x1="35.8" y1="171.6" x2="37.4" y2="171.6" stroke="#333" stroke-width="0.75"/>
<line x1="35.8" y1="178.6" x2="37.4" y2="178.6" stroke="#333" stroke-width="0.75"/>
<line x1="35.8" y1="182.1" x2="37.4" y2="182.1" stroke="#333" stroke-width="0.75"/>
<line x1="35.8" y1="185.6" x2="37.4" y2="185.6" stroke="#333" stroke-width="0.75"/>
<text x="15.4" y="155.5" font-size="9.86" text-anchor="middle" textLength="19" lengthAdjust="spacingAndGlyphs" transform="rotate(-90 15.4 155.5)" fill="#231f20">SSC-A</text>
<g filter="url(#bl)">
<path d="M57.5,182.7 C55.5,182.7 54.3,180.5 54.3,176 C54.3,168 54.6,158 55.2,150 C55.8,143 57.2,137.9 59.4,137.9 C61.4,137.9 62.4,143 62.5,150 C62.6,158 62.2,168 61.6,176 C61.2,180.5 59.6,182.7 57.5,182.7 Z" fill="#2548a8" stroke="none" stroke-width="1"/>
<path d="M57.6,181.8 C56,181.8 55.1,180 55.1,176 C55.1,168 55.4,158 56,150 C56.5,144.5 57.7,141.5 59.4,141.5 C61,141.5 61.7,144.5 61.8,150 C61.9,158 61.5,168 61,176 C60.6,180 59.3,181.8 57.6,181.8 Z" fill="#2c5fbf" stroke="none" stroke-width="1"/>
<path d="M57.6,181 C56.2,181 55.6,179 55.6,176 C55.6,168 56,158 56.6,150 C57,146.5 58,144.8 59.4,144.8 C60.7,144.8 61.3,147 61.3,150 C61.4,158 61,168 60.4,176 C60.1,179 59,181 57.6,181 Z" fill="#2fbcee" stroke="none" stroke-width="1"/>
<path d="M57.6,179.5 C56.6,179.5 56.4,178 56.4,176 C56.5,168 56.9,158 57.4,151 C57.7,149.3 58.4,148.6 59.3,148.6 C60.1,148.6 60.6,149.5 60.6,151 C60.6,158 60.2,168 59.6,176 C59.4,178.5 58.6,179.5 57.6,179.5 Z" fill="#6cc24a" stroke="none" stroke-width="1"/>
<path d="M57.5,178.8 C56.8,178.8 56.8,177 56.9,175 C57.1,170 57.6,166 58.1,162 C58.5,161 59.2,161 59.4,162 C59.6,166 59.4,170 59.2,175 C59.1,177.5 58.4,178.8 57.5,178.8 Z" fill="#f3e51f" stroke="none" stroke-width="1"/>
<ellipse cx="58.9" cy="156" rx="0.8" ry="2.5" fill="#c8dc3a"/>
<ellipse cx="57.6" cy="177.3" rx="1.7" ry="2.9" fill="#f7941d"/>
<ellipse cx="57.6" cy="177.5" rx="1.4" ry="2.3" fill="#ec1c24"/>
</g>
<rect x="45.4" y="134.3" width="20.8" height="49.6" fill="none" stroke="#8a8a8a" stroke-width="0.8"/>
<text x="73" y="130" font-size="8.14" text-anchor="middle" textLength="23.5" lengthAdjust="spacingAndGlyphs" fill="#231f20">Isotype</text>
<text x="58.5" y="199.3" font-size="6.3" text-anchor="middle" fill="#231f20">0</text>
<text x="81" y="199.3" font-size="6.3" text-anchor="middle" fill="#231f20">10<tspan font-size="3.8" dy="-2.2">3</tspan><tspan dy="2.2"></tspan></text>
<text x="71" y="210.8" font-size="9.54" text-anchor="middle" textLength="33" lengthAdjust="spacingAndGlyphs" fill="#231f20">Alexa-647</text>
<line x1="47" y1="189.3" x2="47" y2="191.2" stroke="#333" stroke-width="0.75"/>
<line x1="50" y1="189.3" x2="50" y2="191.2" stroke="#333" stroke-width="0.75"/>
<line x1="52" y1="189.3" x2="52" y2="191.2" stroke="#333" stroke-width="0.75"/>
<line x1="54" y1="189.3" x2="54" y2="191.2" stroke="#333" stroke-width="0.75"/>
<line x1="55.5" y1="189.3" x2="55.5" y2="191.2" stroke="#333" stroke-width="0.75"/>
<line x1="56.5" y1="189.3" x2="56.5" y2="191.2" stroke="#333" stroke-width="0.75"/>
<line x1="57.5" y1="189.3" x2="57.5" y2="191.2" stroke="#333" stroke-width="0.75"/>
<line x1="58.5" y1="189.3" x2="58.5" y2="191.2" stroke="#333" stroke-width="0.75"/>
<line x1="59.5" y1="189.3" x2="59.5" y2="191.2" stroke="#333" stroke-width="0.75"/>
<line x1="60.5" y1="189.3" x2="60.5" y2="191.2" stroke="#333" stroke-width="0.75"/>
<line x1="62" y1="189.3" x2="62" y2="191.2" stroke="#333" stroke-width="0.75"/>
<line x1="64" y1="189.3" x2="64" y2="191.2" stroke="#333" stroke-width="0.75"/>
<line x1="67" y1="189.3" x2="67" y2="191.2" stroke="#333" stroke-width="0.75"/>
<line x1="70" y1="189.3" x2="70" y2="191.2" stroke="#333" stroke-width="0.75"/>
<line x1="73" y1="189.3" x2="73" y2="191.2" stroke="#333" stroke-width="0.75"/>
<line x1="76" y1="189.3" x2="76" y2="191.2" stroke="#333" stroke-width="0.75"/>
<line x1="78" y1="189.3" x2="78" y2="191.2" stroke="#333" stroke-width="0.75"/>
<line x1="79.5" y1="189.3" x2="79.5" y2="191.2" stroke="#333" stroke-width="0.75"/>
<line x1="81" y1="189.3" x2="81" y2="191.2" stroke="#333" stroke-width="0.75"/>
<line x1="85" y1="189.3" x2="85" y2="191.2" stroke="#333" stroke-width="0.75"/>
<line x1="89" y1="189.3" x2="89" y2="191.2" stroke="#333" stroke-width="0.75"/>
<line x1="92" y1="189.3" x2="92" y2="191.2" stroke="#333" stroke-width="0.75"/>
<line x1="94" y1="189.3" x2="94" y2="191.2" stroke="#333" stroke-width="0.75"/>
<line x1="96" y1="189.3" x2="96" y2="191.2" stroke="#333" stroke-width="0.75"/>
<line x1="98" y1="189.3" x2="98" y2="191.2" stroke="#333" stroke-width="0.75"/>
<line x1="100" y1="189.3" x2="100" y2="191.2" stroke="#333" stroke-width="0.75"/>
<line x1="102" y1="189.3" x2="102" y2="191.2" stroke="#333" stroke-width="0.75"/>
<rect x="139.8" y="119.8" width="67.5" height="68.8" fill="none" stroke="#262626" stroke-width="1.35"/>
<text x="136.9" y="134.8" font-size="6.3" text-anchor="end" fill="#231f20">120K</text>
<line x1="137.3" y1="132.6" x2="139.8" y2="132.6" stroke="#333" stroke-width="0.8"/>
<text x="136.9" y="148.8" font-size="6.3" text-anchor="end" fill="#231f20">90K</text>
<line x1="137.3" y1="146.6" x2="139.8" y2="146.6" stroke="#333" stroke-width="0.8"/>
<text x="136.9" y="162.8" font-size="6.3" text-anchor="end" fill="#231f20">60K</text>
<line x1="137.3" y1="160.6" x2="139.8" y2="160.6" stroke="#333" stroke-width="0.8"/>
<text x="136.9" y="176.8" font-size="6.3" text-anchor="end" fill="#231f20">30K</text>
<line x1="137.3" y1="174.6" x2="139.8" y2="174.6" stroke="#333" stroke-width="0.8"/>
<text x="136.9" y="190.8" font-size="6.3" text-anchor="end" fill="#231f20">0</text>
<line x1="137.3" y1="188.6" x2="139.8" y2="188.6" stroke="#333" stroke-width="0.8"/>
<line x1="138.2" y1="136.1" x2="139.8" y2="136.1" stroke="#333" stroke-width="0.75"/>
<line x1="138.2" y1="139.6" x2="139.8" y2="139.6" stroke="#333" stroke-width="0.75"/>
<line x1="138.2" y1="143.1" x2="139.8" y2="143.1" stroke="#333" stroke-width="0.75"/>
<line x1="138.2" y1="150.1" x2="139.8" y2="150.1" stroke="#333" stroke-width="0.75"/>
<line x1="138.2" y1="153.6" x2="139.8" y2="153.6" stroke="#333" stroke-width="0.75"/>
<line x1="138.2" y1="157.1" x2="139.8" y2="157.1" stroke="#333" stroke-width="0.75"/>
<line x1="138.2" y1="164.1" x2="139.8" y2="164.1" stroke="#333" stroke-width="0.75"/>
<line x1="138.2" y1="167.6" x2="139.8" y2="167.6" stroke="#333" stroke-width="0.75"/>
<line x1="138.2" y1="171.1" x2="139.8" y2="171.1" stroke="#333" stroke-width="0.75"/>
<line x1="138.2" y1="178.1" x2="139.8" y2="178.1" stroke="#333" stroke-width="0.75"/>
<line x1="138.2" y1="181.6" x2="139.8" y2="181.6" stroke="#333" stroke-width="0.75"/>
<line x1="138.2" y1="185.1" x2="139.8" y2="185.1" stroke="#333" stroke-width="0.75"/>
<text x="118.4" y="155" font-size="9.86" text-anchor="middle" textLength="19" lengthAdjust="spacingAndGlyphs" transform="rotate(-90 118.4 155)" fill="#231f20">SSC-A</text>
<circle cx="158.26" cy="144.77" r="0.62" fill="#2446b0"/>
<circle cx="153.55" cy="142.95" r="0.62" fill="#2446b0"/>
<circle cx="163.02" cy="142.11" r="0.62" fill="#2446b0"/>
<circle cx="163.28" cy="137.17" r="0.62" fill="#2446b0"/>
<circle cx="158.32" cy="135.07" r="0.62" fill="#2446b0"/>
<circle cx="152.42" cy="138.85" r="0.62" fill="#2446b0"/>
<circle cx="160.26" cy="144.24" r="0.62" fill="#2446b0"/>
<circle cx="159.24" cy="145.76" r="0.62" fill="#2446b0"/>
<circle cx="160.8" cy="134.95" r="0.62" fill="#2446b0"/>
<circle cx="159.48" cy="135.33" r="0.62" fill="#2446b0"/>
<circle cx="155.58" cy="145.11" r="0.62" fill="#2446b0"/>
<circle cx="157.08" cy="134.23" r="0.62" fill="#2446b0"/>
<circle cx="161.62" cy="136.74" r="0.62" fill="#2446b0"/>
<circle cx="152.99" cy="136.57" r="0.62" fill="#2446b0"/>
<circle cx="152.42" cy="139.82" r="0.62" fill="#2446b0"/>
<circle cx="152.62" cy="140.79" r="0.62" fill="#2446b0"/>
<circle cx="148.2" cy="147.2" r="0.6" fill="#2446b0"/>
<circle cx="149.6" cy="150.3" r="0.6" fill="#2446b0"/>
<circle cx="165.5" cy="151.5" r="0.6" fill="#2446b0"/>
<circle cx="144.8" cy="174.5" r="0.6" fill="#2446b0"/>
<circle cx="164.8" cy="168.5" r="0.6" fill="#2446b0"/>
<circle cx="149.8" cy="144.5" r="0.6" fill="#2446b0"/>
<circle cx="162.5" cy="139.5" r="0.6" fill="#2446b0"/>
<circle cx="165.1" cy="139" r="0.6" fill="#2446b0"/>
<g filter="url(#bl)">
<path d="M152.2,178 C152,168 152,152 152.6,143 C153,138 155,135.6 158,135.6 C161,135.6 162.8,138 163.1,143 C163.4,152 163.3,168 163,178 C162.8,181.5 160.8,182.6 157.6,182.6 C154.4,182.6 152.4,181.5 152.2,178 Z" fill="#2548a8" stroke="none" stroke-width="1"/>
<path d="M153.4,178 C153.2,168 153.3,153 153.8,145 C154.2,141 155.8,139.6 158,139.6 C160.2,139.6 161.8,141 162.1,145 C162.5,153 162.5,168 162.2,178 C162,180.8 160.4,181.8 157.8,181.8 C155.2,181.8 153.6,180.8 153.4,178 Z" fill="#2c5fbf" stroke="none" stroke-width="1"/>
<path d="M154.6,178 C154.4,168 154.5,154 155,147 C155.3,145 156.5,144.2 158.1,144.2 C159.8,144.2 161.1,145 161.3,147 C161.7,154 161.7,168 161.4,178 C161.2,180.4 159.8,181 158,181 C156.2,181 154.8,180.4 154.6,178 Z" fill="#2fbcee" stroke="none" stroke-width="1"/>
<path d="M155.5,176 C155.4,168 155.5,156 155.8,150 C156,148 156.8,147 157.8,147 C158.9,147 159.7,148 159.9,150 C160.2,156 160.3,168 160.1,176 C160,178.5 159,179 157.8,179 C156.5,179 155.6,178.5 155.5,176 Z" fill="#6cc24a" stroke="none" stroke-width="1"/>
<ellipse cx="157.6" cy="154.5" rx="1.2" ry="1.8" fill="#f3e51f"/>
<ellipse cx="157.6" cy="165.5" rx="1.5" ry="2.8" fill="#f3e51f"/>
<ellipse cx="157.4" cy="172.5" rx="2.2" ry="4.5" fill="#f3e51f"/>
<ellipse cx="157.2" cy="176.8" rx="2.8" ry="3.2" fill="#f7941d"/>
<ellipse cx="157.2" cy="177" rx="2.3" ry="2.6" fill="#ec1c24"/>
</g>
<circle cx="158.23" cy="135" r="0.7" fill="#2446b0"/>
<circle cx="161.05" cy="136.28" r="0.59" fill="#2446b0"/>
<circle cx="162.56" cy="134.16" r="0.69" fill="#2446b0"/>
<circle cx="159.86" cy="134.16" r="0.73" fill="#2446b0"/>
<circle cx="159.92" cy="133.76" r="0.68" fill="#2446b0"/>
<circle cx="159.93" cy="135.34" r="0.5" fill="#2446b0"/>
<circle cx="159.76" cy="136.9" r="0.72" fill="#2446b0"/>
<circle cx="156.32" cy="135.83" r="0.54" fill="#2446b0"/>
<circle cx="158.47" cy="134.31" r="0.63" fill="#2446b0"/>
<circle cx="155.07" cy="135.14" r="0.59" fill="#2446b0"/>
<circle cx="156.04" cy="136.57" r="0.73" fill="#2446b0"/>
<circle cx="159.15" cy="136.26" r="0.65" fill="#2446b0"/>
<circle cx="160.69" cy="134.37" r="0.56" fill="#2446b0"/>
<circle cx="156.44" cy="135.28" r="0.62" fill="#2446b0"/>
<circle cx="162.18" cy="136.32" r="0.58" fill="#2446b0"/>
<circle cx="157.06" cy="135.96" r="0.68" fill="#2446b0"/>
<circle cx="164.14" cy="141.6" r="0.66" fill="#2446b0"/>
<circle cx="163.31" cy="158.33" r="0.6" fill="#2446b0"/>
<circle cx="163.31" cy="163.24" r="0.7" fill="#2446b0"/>
<circle cx="162.84" cy="166.42" r="0.65" fill="#2446b0"/>
<circle cx="163.46" cy="163.65" r="0.68" fill="#2446b0"/>
<circle cx="163.88" cy="155.97" r="0.7" fill="#2446b0"/>
<circle cx="164.05" cy="155.67" r="0.53" fill="#2446b0"/>
<circle cx="163.09" cy="147.79" r="0.59" fill="#2446b0"/>
<circle cx="151.22" cy="152.31" r="0.69" fill="#2446b0"/>
<circle cx="152.33" cy="175.66" r="0.68" fill="#2446b0"/>
<circle cx="151.61" cy="175.58" r="0.71" fill="#2446b0"/>
<circle cx="152.23" cy="166.8" r="0.72" fill="#2446b0"/>
<circle cx="151.48" cy="165" r="0.74" fill="#2446b0"/>
<circle cx="151.91" cy="171.68" r="0.72" fill="#2446b0"/>
<rect x="140.5" y="131.8" width="28.4" height="50.4" fill="none" stroke="#8a8a8a" stroke-width="0.8"/>
<rect x="171.2" y="131.8" width="34.6" height="50.4" fill="none" stroke="#8a8a8a" stroke-width="0.8"/>
<text x="170.7" y="129" font-size="8.14" text-anchor="middle" textLength="23.8" lengthAdjust="spacingAndGlyphs" fill="#231f20">Isotype</text>
<text x="144.3" y="198.6" font-size="6.3" text-anchor="middle" fill="#231f20">&#8211;10<tspan font-size="3.8" dy="-2.2">2</tspan><tspan dy="2.2"></tspan></text>
<text x="158" y="198.6" font-size="6.3" text-anchor="middle" fill="#231f20">0</text>
<text x="175.4" y="198.6" font-size="6.3" text-anchor="middle" fill="#231f20">10<tspan font-size="3.8" dy="-2.2">2</tspan><tspan dy="2.2"></tspan></text>
<text x="201.5" y="198.6" font-size="6.3" text-anchor="middle" fill="#231f20">10<tspan font-size="3.8" dy="-2.2">3</tspan><tspan dy="2.2"></tspan></text>
<text x="173.3" y="209.2" font-size="9.54" text-anchor="middle" textLength="32.5" lengthAdjust="spacingAndGlyphs" fill="#231f20">Alexa-488</text>
<line x1="145" y1="188.6" x2="145" y2="190.5" stroke="#333" stroke-width="0.75"/>
<line x1="151" y1="188.6" x2="151" y2="190.5" stroke="#333" stroke-width="0.75"/>
<line x1="153.5" y1="188.6" x2="153.5" y2="190.5" stroke="#333" stroke-width="0.75"/>
<line x1="155.5" y1="188.6" x2="155.5" y2="190.5" stroke="#333" stroke-width="0.75"/>
<line x1="157" y1="188.6" x2="157" y2="190.5" stroke="#333" stroke-width="0.75"/>
<line x1="158" y1="188.6" x2="158" y2="190.5" stroke="#333" stroke-width="0.75"/>
<line x1="159" y1="188.6" x2="159" y2="190.5" stroke="#333" stroke-width="0.75"/>
<line x1="160" y1="188.6" x2="160" y2="190.5" stroke="#333" stroke-width="0.75"/>
<line x1="161" y1="188.6" x2="161" y2="190.5" stroke="#333" stroke-width="0.75"/>
<line x1="162.5" y1="188.6" x2="162.5" y2="190.5" stroke="#333" stroke-width="0.75"/>
<line x1="164.5" y1="188.6" x2="164.5" y2="190.5" stroke="#333" stroke-width="0.75"/>
<line x1="167" y1="188.6" x2="167" y2="190.5" stroke="#333" stroke-width="0.75"/>
<line x1="171" y1="188.6" x2="171" y2="190.5" stroke="#333" stroke-width="0.75"/>
<line x1="175" y1="188.6" x2="175" y2="190.5" stroke="#333" stroke-width="0.75"/>
<line x1="183" y1="188.6" x2="183" y2="190.5" stroke="#333" stroke-width="0.75"/>
<line x1="188" y1="188.6" x2="188" y2="190.5" stroke="#333" stroke-width="0.75"/>
<line x1="191" y1="188.6" x2="191" y2="190.5" stroke="#333" stroke-width="0.75"/>
<line x1="193" y1="188.6" x2="193" y2="190.5" stroke="#333" stroke-width="0.75"/>
<line x1="195" y1="188.6" x2="195" y2="190.5" stroke="#333" stroke-width="0.75"/>
<line x1="197" y1="188.6" x2="197" y2="190.5" stroke="#333" stroke-width="0.75"/>
<line x1="199" y1="188.6" x2="199" y2="190.5" stroke="#333" stroke-width="0.75"/>
<line x1="201" y1="188.6" x2="201" y2="190.5" stroke="#333" stroke-width="0.75"/>
<line x1="203" y1="188.6" x2="203" y2="190.5" stroke="#333" stroke-width="0.75"/>
<line x1="205" y1="188.6" x2="205" y2="190.5" stroke="#333" stroke-width="0.75"/>
<path d="M0.4,10.7 C1.8,8.9 5,8.4 10.4,7.9 C11.5,5 12.8,2.6 16.2,0.7 C18.5,0.2 21,0.3 22.6,0.5 L23.3,-0.3 L24.4,-0.3 L24.9,0.9 C25.8,2 27,3.4 28.6,4.9 L28.2,5.6 L26.4,5.8 C25.9,6.8 25.7,7.8 25.7,8.4 L26.0,10.6 L24.6,10.7 L24.1,9.0 L22.7,8.9 L22.6,10.6 L21.3,10.6 L21.0,8.9 C20,8.9 19,8.8 18.2,8.6 L18.0,10.6 L16.6,10.6 L16.4,9.0 C15.3,9.3 14.3,9.8 13.4,10.6 L12.2,10.6 C11.8,9.8 11.2,9.2 10.2,8.9 C6,9.1 2.8,9.6 0.9,11.0 Z" fill="#231f20" transform="translate(273.2 7.6) scale(1)"/>
<text x="286.6" y="25.9" font-size="8.53" text-anchor="middle" textLength="25.4" lengthAdjust="spacingAndGlyphs" fill="#231f20">CD45.1</text>
<path d="M0.4,10.7 C1.8,8.9 5,8.4 10.4,7.9 C11.5,5 12.8,2.6 16.2,0.7 C18.5,0.2 21,0.3 22.6,0.5 L23.3,-0.3 L24.4,-0.3 L24.9,0.9 C25.8,2 27,3.4 28.6,4.9 L28.2,5.6 L26.4,5.8 C25.9,6.8 25.7,7.8 25.7,8.4 L26.0,10.6 L24.6,10.7 L24.1,9.0 L22.7,8.9 L22.6,10.6 L21.3,10.6 L21.0,8.9 C20,8.9 19,8.8 18.2,8.6 L18.0,10.6 L16.6,10.6 L16.4,9.0 C15.3,9.3 14.3,9.8 13.4,10.6 L12.2,10.6 C11.8,9.8 11.2,9.2 10.2,8.9 C6,9.1 2.8,9.6 0.9,11.0 Z" fill="#231f20" transform="translate(322.6 7.7) scale(1)"/>
<text x="337.5" y="25.9" font-size="8.53" text-anchor="middle" textLength="26.5" lengthAdjust="spacingAndGlyphs" fill="#231f20">CD45.2</text>
<rect x="252.4" y="29.3" width="60.2" height="52" fill="none" stroke="#2a2a2a" stroke-width="1.4"/>
<rect x="315.3" y="29.3" width="45.3" height="52" fill="none" stroke="#2a2a2a" stroke-width="1.4"/>
<text x="256.5" y="40.7" font-size="9.24" textLength="40.9" lengthAdjust="spacingAndGlyphs" fill="#231f20">5&#215;10<tspan font-size="5.85" dy="-3.74">2</tspan><tspan dy="3.74"> cells:</tspan></text>
<text x="317.8" y="40.7" font-size="9.24" textLength="40.9" lengthAdjust="spacingAndGlyphs" fill="#231f20">2&#215;10<tspan font-size="5.85" dy="-3.74">5</tspan><tspan dy="3.74"> cells:</tspan></text>
<circle cx="258.4" cy="56.6" r="1.2" fill="#111"/>
<circle cx="258.4" cy="66" r="1.2" fill="#111"/>
<circle cx="258.4" cy="75" r="1.2" fill="#111"/>
<text x="263" y="59.5" font-size="9.48" textLength="24.7" lengthAdjust="spacingAndGlyphs" fill="#231f20">34<tspan font-size="5.88" dy="-3.41">&#8211;</tspan><tspan dy="3.41">KSL</tspan></text>
<text x="263" y="68.9" font-size="9.48" textLength="45.1" lengthAdjust="spacingAndGlyphs" fill="#231f20">Sdc2<tspan font-size="5.88" dy="-3.36">&#8211;</tspan><tspan dy="3.36">34</tspan><tspan font-size="5.88" dy="-3.36">&#8211;</tspan><tspan dy="3.36">KSL</tspan></text>
<text x="263" y="77.9" font-size="9.48" textLength="46.2" lengthAdjust="spacingAndGlyphs" fill="#231f20">Sdc2<tspan font-size="5.88" dy="-3.6">+</tspan><tspan dy="3.6">34</tspan><tspan font-size="5.88" dy="-3.36">&#8211;</tspan><tspan dy="3.36">KSL</tspan></text>
<circle cx="319.8" cy="56.4" r="1.2" fill="#111"/>
<text x="324.6" y="59.2" font-size="8.69" textLength="19.2" lengthAdjust="spacingAndGlyphs" fill="#231f20">WBM</text>
<line x1="286.4" y1="84.4" x2="299.6" y2="106" stroke="#111" stroke-width="1.1"/>
<path d="M302,110.8 L293.6,102.4 L299.6,99.2 Z" fill="#111" stroke="none" stroke-width="1"/>
<line x1="326.8" y1="84.4" x2="313.6" y2="106" stroke="#111" stroke-width="1.1"/>
<path d="M311.2,110.8 L313.6,99.2 L319.6,102.4 Z" fill="#111" stroke="none" stroke-width="1"/>
<path d="M306.7,93.1 L312.6,93.1 L311.1,96.4 L311.5,97.6 L310.3,100.2 L310.6,101.3 L308.9,104.2 L307.0,106.2 L306.4,105.5 L306.6,103.0 L305.6,101.9 L306.3,99.6 L305.5,98.3 L306.0,96.0 Z" fill="#fcbf14" stroke="#2a2a2a" stroke-width="0.55"/>
<line x1="306.8" y1="105.6" x2="305" y2="110.6" stroke="#222" stroke-width="0.85"/>
<path d="M0.4,10.7 C1.8,8.9 5,8.4 10.4,7.9 C11.5,5 12.8,2.6 16.2,0.7 C18.5,0.2 21,0.3 22.6,0.5 L23.3,-0.3 L24.4,-0.3 L24.9,0.9 C25.8,2 27,3.4 28.6,4.9 L28.2,5.6 L26.4,5.8 C25.9,6.8 25.7,7.8 25.7,8.4 L26.0,10.6 L24.6,10.7 L24.1,9.0 L22.7,8.9 L22.6,10.6 L21.3,10.6 L21.0,8.9 C20,8.9 19,8.8 18.2,8.6 L18.0,10.6 L16.6,10.6 L16.4,9.0 C15.3,9.3 14.3,9.8 13.4,10.6 L12.2,10.6 C11.8,9.8 11.2,9.2 10.2,8.9 C6,9.1 2.8,9.6 0.9,11.0 Z" fill="#231f20" transform="translate(290.6 112.5) scale(0.97)"/>
<text x="306.9" y="131.5" font-size="8.53" text-anchor="middle" textLength="25.7" lengthAdjust="spacingAndGlyphs" fill="#231f20">CD45.2</text>
<text x="288.8" y="148.8" font-size="11.23" text-anchor="middle" textLength="30" lengthAdjust="spacingAndGlyphs" fill="#231f20">34<tspan font-size="6.96" dy="-3.81">&#8211;</tspan><tspan dy="3.81">KSL</tspan></text>
<circle cx="259.68" cy="183.71" r="0.62" fill="#2446b0"/>
<circle cx="283.56" cy="174.47" r="0.62" fill="#2446b0"/>
<circle cx="258.95" cy="179.37" r="0.62" fill="#2446b0"/>
<circle cx="277.46" cy="191.29" r="0.62" fill="#2446b0"/>
<circle cx="262.33" cy="169.9" r="0.62" fill="#2446b0"/>
<circle cx="282.04" cy="186.23" r="0.62" fill="#2446b0"/>
<circle cx="284.64" cy="187.53" r="0.62" fill="#2446b0"/>
<circle cx="268.75" cy="170.88" r="0.62" fill="#2446b0"/>
<circle cx="287.75" cy="178.35" r="0.62" fill="#2446b0"/>
<circle cx="264.62" cy="169.39" r="0.62" fill="#2446b0"/>
<circle cx="277.82" cy="188.01" r="0.62" fill="#2446b0"/>
<circle cx="262.14" cy="178.26" r="0.62" fill="#2446b0"/>
<circle cx="276.47" cy="190.08" r="0.62" fill="#2446b0"/>
<circle cx="284.73" cy="182.26" r="0.62" fill="#2446b0"/>
<circle cx="258.48" cy="185.16" r="0.62" fill="#2446b0"/>
<circle cx="258.73" cy="178.44" r="0.62" fill="#2446b0"/>
<circle cx="258.5" cy="180.02" r="0.62" fill="#2446b0"/>
<circle cx="261.13" cy="182.92" r="0.62" fill="#2446b0"/>
<circle cx="279.99" cy="204.87" r="0.62" fill="#2446b0"/>
<circle cx="286.97" cy="197.48" r="0.62" fill="#2446b0"/>
<circle cx="302.46" cy="204.03" r="0.62" fill="#2446b0"/>
<circle cx="289.9" cy="212.53" r="0.62" fill="#2446b0"/>
<circle cx="287.53" cy="195.63" r="0.62" fill="#2446b0"/>
<circle cx="280.62" cy="200.41" r="0.62" fill="#2446b0"/>
<circle cx="298.51" cy="209.78" r="0.62" fill="#2446b0"/>
<circle cx="298.65" cy="211.55" r="0.62" fill="#2446b0"/>
<circle cx="303.63" cy="206.81" r="0.62" fill="#2446b0"/>
<circle cx="302.59" cy="207.45" r="0.62" fill="#2446b0"/>
<circle cx="302.8" cy="176.5" r="0.55" fill="#2446b0"/>
<circle cx="306.8" cy="176" r="0.55" fill="#2446b0"/>
<circle cx="311.8" cy="176.5" r="0.55" fill="#2446b0"/>
<circle cx="317.8" cy="175.5" r="0.55" fill="#2446b0"/>
<circle cx="290.8" cy="178" r="0.55" fill="#2446b0"/>
<circle cx="296.8" cy="180" r="0.55" fill="#2446b0"/>
<circle cx="272.8" cy="194" r="0.55" fill="#2446b0"/>
<circle cx="275.8" cy="199" r="0.55" fill="#2446b0"/>
<circle cx="265.8" cy="201" r="0.55" fill="#2446b0"/>
<circle cx="262.8" cy="206" r="0.55" fill="#2446b0"/>
<circle cx="281.8" cy="188" r="0.55" fill="#2446b0"/>
<g filter="url(#bl)">
<ellipse cx="272.5" cy="180" rx="10.2" ry="9" fill="#2548a8"/>
<ellipse cx="272.5" cy="180" rx="7.6" ry="6.2" fill="#2f78cc"/>
<ellipse cx="272.5" cy="180" rx="6.4" ry="5" fill="#2fbcee"/>
<ellipse cx="272.5" cy="180" rx="5.2" ry="4" fill="#6cc24a"/>
<ellipse cx="272.5" cy="180" rx="4" ry="3" fill="#f3e51f"/>
<ellipse cx="272.5" cy="180" rx="3.1" ry="2.1" fill="#f7941d"/>
<ellipse cx="272.5" cy="180" rx="2.5" ry="1.6" fill="#ec1c24"/>
</g>
<circle cx="272.69" cy="170.61" r="0.7" fill="#2446b0"/>
<circle cx="269.21" cy="170.14" r="0.67" fill="#2446b0"/>
<circle cx="272.52" cy="170.22" r="0.6" fill="#2446b0"/>
<circle cx="269.4" cy="169.84" r="0.65" fill="#2446b0"/>
<circle cx="280.68" cy="170.88" r="0.65" fill="#2446b0"/>
<circle cx="269.55" cy="170.37" r="0.53" fill="#2446b0"/>
<circle cx="277.37" cy="170.09" r="0.57" fill="#2446b0"/>
<circle cx="282.42" cy="170.18" r="0.74" fill="#2446b0"/>
<circle cx="275.16" cy="171.02" r="0.65" fill="#2446b0"/>
<circle cx="266.37" cy="170.93" r="0.56" fill="#2446b0"/>
<circle cx="270.95" cy="169.76" r="0.51" fill="#2446b0"/>
<circle cx="270.15" cy="169.53" r="0.59" fill="#2446b0"/>
<circle cx="279.8" cy="171.5" r="0.6" fill="#2446b0"/>
<circle cx="264.96" cy="170.19" r="0.51" fill="#2446b0"/>
<circle cx="281.36" cy="188.85" r="0.74" fill="#2446b0"/>
<circle cx="267.56" cy="189.43" r="0.72" fill="#2446b0"/>
<circle cx="269.92" cy="189.52" r="0.54" fill="#2446b0"/>
<circle cx="282.02" cy="190.47" r="0.54" fill="#2446b0"/>
<circle cx="265.26" cy="189.45" r="0.62" fill="#2446b0"/>
<circle cx="278.31" cy="189.19" r="0.64" fill="#2446b0"/>
<circle cx="266.01" cy="188.93" r="0.52" fill="#2446b0"/>
<circle cx="273.72" cy="189.63" r="0.65" fill="#2446b0"/>
<circle cx="281.51" cy="189.11" r="0.58" fill="#2446b0"/>
<circle cx="272.06" cy="190.39" r="0.57" fill="#2446b0"/>
<circle cx="268.61" cy="189.35" r="0.67" fill="#2446b0"/>
<circle cx="268.39" cy="188.85" r="0.68" fill="#2446b0"/>
<circle cx="281.91" cy="177.41" r="0.72" fill="#2446b0"/>
<circle cx="282.01" cy="174.31" r="0.68" fill="#2446b0"/>
<circle cx="280.99" cy="176.04" r="0.51" fill="#2446b0"/>
<circle cx="282.37" cy="185.64" r="0.65" fill="#2446b0"/>
<circle cx="281.36" cy="185.68" r="0.71" fill="#2446b0"/>
<circle cx="281.62" cy="177.11" r="0.66" fill="#2446b0"/>
<circle cx="283.23" cy="186.69" r="0.71" fill="#2446b0"/>
<circle cx="282.59" cy="176.42" r="0.65" fill="#2446b0"/>
<g filter="url(#bl)">
<ellipse cx="292.2" cy="204" rx="9" ry="6.8" fill="#2548a8"/>
<ellipse cx="292.2" cy="204" rx="6" ry="4.8" fill="#2f78cc"/>
<ellipse cx="292.2" cy="204" rx="3.4" ry="2.8" fill="#2fbcee"/>
</g>
<circle cx="291.37" cy="197.76" r="0.6" fill="#2446b0"/>
<circle cx="299.36" cy="196.53" r="0.74" fill="#2446b0"/>
<circle cx="295.47" cy="198.11" r="0.7" fill="#2446b0"/>
<circle cx="286.42" cy="198.14" r="0.66" fill="#2446b0"/>
<circle cx="285.45" cy="198.22" r="0.61" fill="#2446b0"/>
<circle cx="295.78" cy="196.67" r="0.66" fill="#2446b0"/>
<circle cx="282.9" cy="196.63" r="0.52" fill="#2446b0"/>
<circle cx="283.62" cy="197.68" r="0.55" fill="#2446b0"/>
<circle cx="286.34" cy="198.13" r="0.69" fill="#2446b0"/>
<circle cx="289.95" cy="196.93" r="0.68" fill="#2446b0"/>
<circle cx="290.27" cy="210.08" r="0.71" fill="#2446b0"/>
<circle cx="290.79" cy="210.56" r="0.63" fill="#2446b0"/>
<circle cx="288.9" cy="210.78" r="0.72" fill="#2446b0"/>
<circle cx="284.1" cy="210.62" r="0.56" fill="#2446b0"/>
<circle cx="294.6" cy="210.75" r="0.51" fill="#2446b0"/>
<circle cx="284.83" cy="210.56" r="0.71" fill="#2446b0"/>
<circle cx="297.16" cy="211.15" r="0.53" fill="#2446b0"/>
<circle cx="289.11" cy="210.65" r="0.59" fill="#2446b0"/>
<circle cx="286.95" cy="211.34" r="0.65" fill="#2446b0"/>
<circle cx="289.96" cy="210.45" r="0.67" fill="#2446b0"/>
<rect x="254.8" y="151.8" width="67.9" height="68" fill="none" stroke="#262626" stroke-width="1.4"/>
<rect x="256.2" y="162.7" width="25.6" height="28.6" fill="none" stroke="#8a8a8a" stroke-width="0.8"/>
<rect x="281.3" y="193.5" width="24.6" height="25.1" fill="none" stroke="#8a8a8a" stroke-width="0.8"/>
<text x="269.4" y="161.6" font-size="9.49" text-anchor="middle" textLength="14.61" lengthAdjust="spacingAndGlyphs" fill="#231f20">90%</text>
<text x="313.8" y="209.8" font-size="9.49" text-anchor="middle" textLength="14.61" lengthAdjust="spacingAndGlyphs" fill="#231f20">10%</text>
<text x="250.8" y="161.4" font-size="6.1" text-anchor="end" fill="#231f20">10<tspan font-size="3.8" dy="-2.2">5</tspan><tspan dy="2.2"></tspan></text>
<line x1="252.6" y1="159.2" x2="254.8" y2="159.2" stroke="#333" stroke-width="0.7"/>
<text x="250.8" y="175.6" font-size="6.1" text-anchor="end" fill="#231f20">10<tspan font-size="3.8" dy="-2.2">4</tspan><tspan dy="2.2"></tspan></text>
<line x1="252.6" y1="173.4" x2="254.8" y2="173.4" stroke="#333" stroke-width="0.7"/>
<text x="250.8" y="191.7" font-size="6.1" text-anchor="end" fill="#231f20">10<tspan font-size="3.8" dy="-2.2">3</tspan><tspan dy="2.2"></tspan></text>
<line x1="252.6" y1="189.5" x2="254.8" y2="189.5" stroke="#333" stroke-width="0.7"/>
<text x="248.2" y="208.2" font-size="6.1" text-anchor="end" fill="#231f20">0</text>
<line x1="252.6" y1="206" x2="254.8" y2="206" stroke="#333" stroke-width="0.7"/>
<line x1="253.2" y1="153" x2="254.8" y2="153" stroke="#333" stroke-width="0.7"/>
<line x1="253.2" y1="154.5" x2="254.8" y2="154.5" stroke="#333" stroke-width="0.7"/>
<line x1="253.2" y1="156" x2="254.8" y2="156" stroke="#333" stroke-width="0.7"/>
<line x1="253.2" y1="157.5" x2="254.8" y2="157.5" stroke="#333" stroke-width="0.7"/>
<line x1="253.2" y1="162.5" x2="254.8" y2="162.5" stroke="#333" stroke-width="0.7"/>
<line x1="253.2" y1="164" x2="254.8" y2="164" stroke="#333" stroke-width="0.7"/>
<line x1="253.2" y1="165" x2="254.8" y2="165" stroke="#333" stroke-width="0.7"/>
<line x1="253.2" y1="167" x2="254.8" y2="167" stroke="#333" stroke-width="0.7"/>
<line x1="253.2" y1="169" x2="254.8" y2="169" stroke="#333" stroke-width="0.7"/>
<line x1="253.2" y1="176" x2="254.8" y2="176" stroke="#333" stroke-width="0.7"/>
<line x1="253.2" y1="177.5" x2="254.8" y2="177.5" stroke="#333" stroke-width="0.7"/>
<line x1="253.2" y1="179" x2="254.8" y2="179" stroke="#333" stroke-width="0.7"/>
<line x1="253.2" y1="181" x2="254.8" y2="181" stroke="#333" stroke-width="0.7"/>
<line x1="253.2" y1="184" x2="254.8" y2="184" stroke="#333" stroke-width="0.7"/>
<line x1="253.2" y1="192" x2="254.8" y2="192" stroke="#333" stroke-width="0.7"/>
<line x1="253.2" y1="194" x2="254.8" y2="194" stroke="#333" stroke-width="0.7"/>
<line x1="253.2" y1="196" x2="254.8" y2="196" stroke="#333" stroke-width="0.7"/>
<line x1="253.2" y1="199" x2="254.8" y2="199" stroke="#333" stroke-width="0.7"/>
<line x1="253.2" y1="202" x2="254.8" y2="202" stroke="#333" stroke-width="0.7"/>
<line x1="253.2" y1="210" x2="254.8" y2="210" stroke="#333" stroke-width="0.7"/>
<line x1="253.2" y1="213" x2="254.8" y2="213" stroke="#333" stroke-width="0.7"/>
<line x1="253.2" y1="216" x2="254.8" y2="216" stroke="#333" stroke-width="0.7"/>
<line x1="253.2" y1="218" x2="254.8" y2="218" stroke="#333" stroke-width="0.7"/>
<text x="271.2" y="229.4" font-size="6.1" text-anchor="middle" fill="#231f20">0</text>
<text x="292.6" y="229.4" font-size="6.1" text-anchor="middle" fill="#231f20">10<tspan font-size="3.8" dy="-2.2">3</tspan><tspan dy="2.2"></tspan></text>
<text x="312.8" y="229.4" font-size="6.1" text-anchor="middle" fill="#231f20">10<tspan font-size="3.8" dy="-2.2">4</tspan><tspan dy="2.2"></tspan></text>
<line x1="257.8" y1="219.8" x2="257.8" y2="221.7" stroke="#333" stroke-width="0.7"/>
<line x1="261.8" y1="219.8" x2="261.8" y2="221.7" stroke="#333" stroke-width="0.7"/>
<line x1="264.8" y1="219.8" x2="264.8" y2="221.7" stroke="#333" stroke-width="0.7"/>
<line x1="266.8" y1="219.8" x2="266.8" y2="221.7" stroke="#333" stroke-width="0.7"/>
<line x1="268.3" y1="219.8" x2="268.3" y2="221.7" stroke="#333" stroke-width="0.7"/>
<line x1="269.3" y1="219.8" x2="269.3" y2="221.7" stroke="#333" stroke-width="0.7"/>
<line x1="270.3" y1="219.8" x2="270.3" y2="221.7" stroke="#333" stroke-width="0.7"/>
<line x1="271.2" y1="219.8" x2="271.2" y2="221.7" stroke="#333" stroke-width="0.7"/>
<line x1="272.1" y1="219.8" x2="272.1" y2="221.7" stroke="#333" stroke-width="0.7"/>
<line x1="273.1" y1="219.8" x2="273.1" y2="221.7" stroke="#333" stroke-width="0.7"/>
<line x1="274.3" y1="219.8" x2="274.3" y2="221.7" stroke="#333" stroke-width="0.7"/>
<line x1="275.8" y1="219.8" x2="275.8" y2="221.7" stroke="#333" stroke-width="0.7"/>
<line x1="277.8" y1="219.8" x2="277.8" y2="221.7" stroke="#333" stroke-width="0.7"/>
<line x1="281.8" y1="219.8" x2="281.8" y2="221.7" stroke="#333" stroke-width="0.7"/>
<line x1="285.8" y1="219.8" x2="285.8" y2="221.7" stroke="#333" stroke-width="0.7"/>
<line x1="287.8" y1="219.8" x2="287.8" y2="221.7" stroke="#333" stroke-width="0.7"/>
<line x1="289.8" y1="219.8" x2="289.8" y2="221.7" stroke="#333" stroke-width="0.7"/>
<line x1="291.3" y1="219.8" x2="291.3" y2="221.7" stroke="#333" stroke-width="0.7"/>
<line x1="292.4" y1="219.8" x2="292.4" y2="221.7" stroke="#333" stroke-width="0.7"/>
<line x1="296.8" y1="219.8" x2="296.8" y2="221.7" stroke="#333" stroke-width="0.7"/>
<line x1="301.8" y1="219.8" x2="301.8" y2="221.7" stroke="#333" stroke-width="0.7"/>
<line x1="304.8" y1="219.8" x2="304.8" y2="221.7" stroke="#333" stroke-width="0.7"/>
<line x1="306.8" y1="219.8" x2="306.8" y2="221.7" stroke="#333" stroke-width="0.7"/>
<line x1="308.8" y1="219.8" x2="308.8" y2="221.7" stroke="#333" stroke-width="0.7"/>
<line x1="310.8" y1="219.8" x2="310.8" y2="221.7" stroke="#333" stroke-width="0.7"/>
<line x1="312.3" y1="219.8" x2="312.3" y2="221.7" stroke="#333" stroke-width="0.7"/>
<line x1="313.4" y1="219.8" x2="313.4" y2="221.7" stroke="#333" stroke-width="0.7"/>
<line x1="316.8" y1="219.8" x2="316.8" y2="221.7" stroke="#333" stroke-width="0.7"/>
<line x1="320.8" y1="219.8" x2="320.8" y2="221.7" stroke="#333" stroke-width="0.7"/>
<text x="372.6" y="148.8" font-size="11.23" text-anchor="middle" textLength="50" lengthAdjust="spacingAndGlyphs" fill="#231f20">Sdc2<tspan font-size="6.79" dy="-3.51">&#8211;</tspan><tspan dy="3.51"> HSCs</tspan></text>
<circle cx="362.2" cy="191.09" r="0.62" fill="#2446b0"/>
<circle cx="347.73" cy="172.02" r="0.62" fill="#2446b0"/>
<circle cx="358.45" cy="193" r="0.62" fill="#2446b0"/>
<circle cx="359.89" cy="169.79" r="0.62" fill="#2446b0"/>
<circle cx="344.93" cy="180.18" r="0.62" fill="#2446b0"/>
<circle cx="366.95" cy="180.72" r="0.62" fill="#2446b0"/>
<circle cx="347.14" cy="175.72" r="0.62" fill="#2446b0"/>
<circle cx="358.49" cy="170.75" r="0.62" fill="#2446b0"/>
<circle cx="356.65" cy="189.67" r="0.62" fill="#2446b0"/>
<circle cx="368.79" cy="180.31" r="0.62" fill="#2446b0"/>
<circle cx="364.5" cy="172.05" r="0.62" fill="#2446b0"/>
<circle cx="366.49" cy="182.75" r="0.62" fill="#2446b0"/>
<circle cx="345.52" cy="180.65" r="0.62" fill="#2446b0"/>
<circle cx="366.43" cy="177.3" r="0.62" fill="#2446b0"/>
<circle cx="363.25" cy="191.17" r="0.62" fill="#2446b0"/>
<circle cx="365.61" cy="189.99" r="0.62" fill="#2446b0"/>
<circle cx="381.22" cy="202.61" r="0.62" fill="#2446b0"/>
<circle cx="383.9" cy="205.14" r="0.62" fill="#2446b0"/>
<circle cx="377.91" cy="208.84" r="0.62" fill="#2446b0"/>
<circle cx="371.86" cy="199.2" r="0.62" fill="#2446b0"/>
<circle cx="380.29" cy="200.43" r="0.62" fill="#2446b0"/>
<circle cx="381.75" cy="202.53" r="0.62" fill="#2446b0"/>
<circle cx="369" cy="199.54" r="0.62" fill="#2446b0"/>
<circle cx="372.37" cy="197.12" r="0.62" fill="#2446b0"/>
<circle cx="374.16" cy="199.09" r="0.62" fill="#2446b0"/>
<circle cx="380.87" cy="199.54" r="0.62" fill="#2446b0"/>
<circle cx="373.38" cy="209.08" r="0.62" fill="#2446b0"/>
<circle cx="379.79" cy="198.69" r="0.62" fill="#2446b0"/>
<circle cx="382.74" cy="201.31" r="0.62" fill="#2446b0"/>
<circle cx="382.49" cy="202.43" r="0.62" fill="#2446b0"/>
<circle cx="379.6" cy="179" r="0.55" fill="#2446b0"/>
<circle cx="381.6" cy="181.5" r="0.55" fill="#2446b0"/>
<circle cx="388.6" cy="177" r="0.55" fill="#2446b0"/>
<circle cx="353.6" cy="194" r="0.55" fill="#2446b0"/>
<circle cx="357.6" cy="196" r="0.55" fill="#2446b0"/>
<circle cx="351.6" cy="206" r="0.55" fill="#2446b0"/>
<g filter="url(#bl)">
<ellipse cx="355.9" cy="180.6" rx="9.8" ry="9" fill="#2548a8"/>
<ellipse cx="355.9" cy="180.6" rx="7.2" ry="6.3" fill="#2f78cc"/>
<ellipse cx="355.9" cy="180.6" rx="6" ry="5.2" fill="#2fbcee"/>
<ellipse cx="355.9" cy="180.6" rx="4.6" ry="4" fill="#6cc24a"/>
<ellipse cx="355.9" cy="180.6" rx="3.4" ry="3" fill="#f3e51f"/>
<ellipse cx="355.9" cy="180.6" rx="2.6" ry="2" fill="#f7941d"/>
<ellipse cx="355.9" cy="180.6" rx="2.1" ry="1.5" fill="#ec1c24"/>
</g>
<g filter="url(#bl)">
<path d="M370.1,203 C371.6,199.5 374.6,198.8 377.1,199.2 C379.6,199.5 380.8,201.5 380.8,204 C379.6,207 376.6,209.6 375.1,209.8 C372.6,209 370.1,206 370.1,203 Z" fill="#2548a8" stroke="none" stroke-width="1"/>
</g>
<rect x="338.6" y="151.8" width="67.9" height="68" fill="none" stroke="#262626" stroke-width="1.4"/>
<rect x="340" y="162.7" width="25.6" height="28.6" fill="none" stroke="#8a8a8a" stroke-width="0.8"/>
<rect x="365.1" y="193.5" width="24.6" height="25.1" fill="none" stroke="#8a8a8a" stroke-width="0.8"/>
<text x="353.2" y="161.6" font-size="9.49" text-anchor="middle" textLength="14.61" lengthAdjust="spacingAndGlyphs" fill="#231f20">98%</text>
<text x="395.9" y="209.8" font-size="9.49" text-anchor="middle" textLength="10.55" lengthAdjust="spacingAndGlyphs" fill="#231f20">2%</text>
<text x="334.6" y="161.4" font-size="6.1" text-anchor="end" fill="#231f20">10<tspan font-size="3.8" dy="-2.2">5</tspan><tspan dy="2.2"></tspan></text>
<line x1="336.4" y1="159.2" x2="338.6" y2="159.2" stroke="#333" stroke-width="0.7"/>
<text x="334.6" y="175.6" font-size="6.1" text-anchor="end" fill="#231f20">10<tspan font-size="3.8" dy="-2.2">4</tspan><tspan dy="2.2"></tspan></text>
<line x1="336.4" y1="173.4" x2="338.6" y2="173.4" stroke="#333" stroke-width="0.7"/>
<text x="334.6" y="191.7" font-size="6.1" text-anchor="end" fill="#231f20">10<tspan font-size="3.8" dy="-2.2">3</tspan><tspan dy="2.2"></tspan></text>
<line x1="336.4" y1="189.5" x2="338.6" y2="189.5" stroke="#333" stroke-width="0.7"/>
<text x="332" y="208.2" font-size="6.1" text-anchor="end" fill="#231f20">0</text>
<line x1="336.4" y1="206" x2="338.6" y2="206" stroke="#333" stroke-width="0.7"/>
<line x1="337" y1="153" x2="338.6" y2="153" stroke="#333" stroke-width="0.7"/>
<line x1="337" y1="154.5" x2="338.6" y2="154.5" stroke="#333" stroke-width="0.7"/>
<line x1="337" y1="156" x2="338.6" y2="156" stroke="#333" stroke-width="0.7"/>
<line x1="337" y1="157.5" x2="338.6" y2="157.5" stroke="#333" stroke-width="0.7"/>
<line x1="337" y1="162.5" x2="338.6" y2="162.5" stroke="#333" stroke-width="0.7"/>
<line x1="337" y1="164" x2="338.6" y2="164" stroke="#333" stroke-width="0.7"/>
<line x1="337" y1="165" x2="338.6" y2="165" stroke="#333" stroke-width="0.7"/>
<line x1="337" y1="167" x2="338.6" y2="167" stroke="#333" stroke-width="0.7"/>
<line x1="337" y1="169" x2="338.6" y2="169" stroke="#333" stroke-width="0.7"/>
<line x1="337" y1="176" x2="338.6" y2="176" stroke="#333" stroke-width="0.7"/>
<line x1="337" y1="177.5" x2="338.6" y2="177.5" stroke="#333" stroke-width="0.7"/>
<line x1="337" y1="179" x2="338.6" y2="179" stroke="#333" stroke-width="0.7"/>
<line x1="337" y1="181" x2="338.6" y2="181" stroke="#333" stroke-width="0.7"/>
<line x1="337" y1="184" x2="338.6" y2="184" stroke="#333" stroke-width="0.7"/>
<line x1="337" y1="192" x2="338.6" y2="192" stroke="#333" stroke-width="0.7"/>
<line x1="337" y1="194" x2="338.6" y2="194" stroke="#333" stroke-width="0.7"/>
<line x1="337" y1="196" x2="338.6" y2="196" stroke="#333" stroke-width="0.7"/>
<line x1="337" y1="199" x2="338.6" y2="199" stroke="#333" stroke-width="0.7"/>
<line x1="337" y1="202" x2="338.6" y2="202" stroke="#333" stroke-width="0.7"/>
<line x1="337" y1="210" x2="338.6" y2="210" stroke="#333" stroke-width="0.7"/>
<line x1="337" y1="213" x2="338.6" y2="213" stroke="#333" stroke-width="0.7"/>
<line x1="337" y1="216" x2="338.6" y2="216" stroke="#333" stroke-width="0.7"/>
<line x1="337" y1="218" x2="338.6" y2="218" stroke="#333" stroke-width="0.7"/>
<text x="355" y="229.4" font-size="6.1" text-anchor="middle" fill="#231f20">0</text>
<text x="376.4" y="229.4" font-size="6.1" text-anchor="middle" fill="#231f20">10<tspan font-size="3.8" dy="-2.2">3</tspan><tspan dy="2.2"></tspan></text>
<text x="396.6" y="229.4" font-size="6.1" text-anchor="middle" fill="#231f20">10<tspan font-size="3.8" dy="-2.2">4</tspan><tspan dy="2.2"></tspan></text>
<line x1="341.6" y1="219.8" x2="341.6" y2="221.7" stroke="#333" stroke-width="0.7"/>
<line x1="345.6" y1="219.8" x2="345.6" y2="221.7" stroke="#333" stroke-width="0.7"/>
<line x1="348.6" y1="219.8" x2="348.6" y2="221.7" stroke="#333" stroke-width="0.7"/>
<line x1="350.6" y1="219.8" x2="350.6" y2="221.7" stroke="#333" stroke-width="0.7"/>
<line x1="352.1" y1="219.8" x2="352.1" y2="221.7" stroke="#333" stroke-width="0.7"/>
<line x1="353.1" y1="219.8" x2="353.1" y2="221.7" stroke="#333" stroke-width="0.7"/>
<line x1="354.1" y1="219.8" x2="354.1" y2="221.7" stroke="#333" stroke-width="0.7"/>
<line x1="355" y1="219.8" x2="355" y2="221.7" stroke="#333" stroke-width="0.7"/>
<line x1="355.9" y1="219.8" x2="355.9" y2="221.7" stroke="#333" stroke-width="0.7"/>
<line x1="356.9" y1="219.8" x2="356.9" y2="221.7" stroke="#333" stroke-width="0.7"/>
<line x1="358.1" y1="219.8" x2="358.1" y2="221.7" stroke="#333" stroke-width="0.7"/>
<line x1="359.6" y1="219.8" x2="359.6" y2="221.7" stroke="#333" stroke-width="0.7"/>
<line x1="361.6" y1="219.8" x2="361.6" y2="221.7" stroke="#333" stroke-width="0.7"/>
<line x1="365.6" y1="219.8" x2="365.6" y2="221.7" stroke="#333" stroke-width="0.7"/>
<line x1="369.6" y1="219.8" x2="369.6" y2="221.7" stroke="#333" stroke-width="0.7"/>
<line x1="371.6" y1="219.8" x2="371.6" y2="221.7" stroke="#333" stroke-width="0.7"/>
<line x1="373.6" y1="219.8" x2="373.6" y2="221.7" stroke="#333" stroke-width="0.7"/>
<line x1="375.1" y1="219.8" x2="375.1" y2="221.7" stroke="#333" stroke-width="0.7"/>
<line x1="376.2" y1="219.8" x2="376.2" y2="221.7" stroke="#333" stroke-width="0.7"/>
<line x1="380.6" y1="219.8" x2="380.6" y2="221.7" stroke="#333" stroke-width="0.7"/>
<line x1="385.6" y1="219.8" x2="385.6" y2="221.7" stroke="#333" stroke-width="0.7"/>
<line x1="388.6" y1="219.8" x2="388.6" y2="221.7" stroke="#333" stroke-width="0.7"/>
<line x1="390.6" y1="219.8" x2="390.6" y2="221.7" stroke="#333" stroke-width="0.7"/>
<line x1="392.6" y1="219.8" x2="392.6" y2="221.7" stroke="#333" stroke-width="0.7"/>
<line x1="394.6" y1="219.8" x2="394.6" y2="221.7" stroke="#333" stroke-width="0.7"/>
<line x1="396.1" y1="219.8" x2="396.1" y2="221.7" stroke="#333" stroke-width="0.7"/>
<line x1="397.2" y1="219.8" x2="397.2" y2="221.7" stroke="#333" stroke-width="0.7"/>
<line x1="400.6" y1="219.8" x2="400.6" y2="221.7" stroke="#333" stroke-width="0.7"/>
<line x1="404.6" y1="219.8" x2="404.6" y2="221.7" stroke="#333" stroke-width="0.7"/>
<text x="456.6" y="148.8" font-size="11.23" text-anchor="middle" textLength="51.5" lengthAdjust="spacingAndGlyphs" fill="#231f20">Sdc2<tspan font-size="6.79" dy="-3.74">+</tspan><tspan dy="3.74"> HSCs</tspan></text>
<circle cx="453" cy="181.73" r="0.62" fill="#2446b0"/>
<circle cx="428.64" cy="188.25" r="0.62" fill="#2446b0"/>
<circle cx="448.61" cy="188.23" r="0.62" fill="#2446b0"/>
<circle cx="442.39" cy="192.83" r="0.62" fill="#2446b0"/>
<circle cx="449.96" cy="190.46" r="0.62" fill="#2446b0"/>
<circle cx="434.02" cy="172.87" r="0.62" fill="#2446b0"/>
<circle cx="426.84" cy="178.62" r="0.62" fill="#2446b0"/>
<circle cx="426.22" cy="187.69" r="0.62" fill="#2446b0"/>
<circle cx="450.58" cy="186.03" r="0.62" fill="#2446b0"/>
<circle cx="453.51" cy="177.1" r="0.62" fill="#2446b0"/>
<circle cx="444.9" cy="190.75" r="0.62" fill="#2446b0"/>
<circle cx="429.6" cy="190.5" r="0.62" fill="#2446b0"/>
<circle cx="443.8" cy="190.54" r="0.62" fill="#2446b0"/>
<circle cx="428.02" cy="175.35" r="0.62" fill="#2446b0"/>
<circle cx="455.99" cy="177.5" r="0.62" fill="#2446b0"/>
<circle cx="432.66" cy="188.72" r="0.62" fill="#2446b0"/>
<circle cx="449.29" cy="170.06" r="0.62" fill="#2446b0"/>
<circle cx="455.87" cy="183.24" r="0.62" fill="#2446b0"/>
<circle cx="467.41" cy="206.95" r="0.62" fill="#2446b0"/>
<circle cx="452.78" cy="213.58" r="0.62" fill="#2446b0"/>
<circle cx="443.85" cy="203.25" r="0.62" fill="#2446b0"/>
<circle cx="467.82" cy="208.68" r="0.62" fill="#2446b0"/>
<circle cx="464.62" cy="194.92" r="0.62" fill="#2446b0"/>
<circle cx="471.33" cy="199.21" r="0.62" fill="#2446b0"/>
<circle cx="450.73" cy="208.51" r="0.62" fill="#2446b0"/>
<circle cx="457.95" cy="194.9" r="0.62" fill="#2446b0"/>
<circle cx="471.39" cy="203.62" r="0.62" fill="#2446b0"/>
<circle cx="465.51" cy="193.86" r="0.62" fill="#2446b0"/>
<circle cx="468.16" cy="200.58" r="0.62" fill="#2446b0"/>
<circle cx="466.85" cy="206.96" r="0.62" fill="#2446b0"/>
<circle cx="468.06" cy="201.88" r="0.62" fill="#2446b0"/>
<circle cx="463.03" cy="209.47" r="0.62" fill="#2446b0"/>
<circle cx="467.29" cy="205.36" r="0.62" fill="#2446b0"/>
<circle cx="451.07" cy="209.58" r="0.62" fill="#2446b0"/>
<circle cx="452.16" cy="213.53" r="0.62" fill="#2446b0"/>
<circle cx="464.66" cy="212.43" r="0.62" fill="#2446b0"/>
<circle cx="456.65" cy="193.15" r="0.62" fill="#2446b0"/>
<circle cx="445.14" cy="198.11" r="0.62" fill="#2446b0"/>
<circle cx="448.05" cy="198.57" r="0.62" fill="#2446b0"/>
<circle cx="452.21" cy="210.53" r="0.62" fill="#2446b0"/>
<circle cx="466.6" cy="179" r="0.55" fill="#2446b0"/>
<circle cx="470.6" cy="178" r="0.55" fill="#2446b0"/>
<circle cx="472.6" cy="183" r="0.55" fill="#2446b0"/>
<circle cx="479.6" cy="176" r="0.55" fill="#2446b0"/>
<circle cx="467.6" cy="186" r="0.55" fill="#2446b0"/>
<circle cx="475.6" cy="200" r="0.55" fill="#2446b0"/>
<circle cx="482.6" cy="202" r="0.55" fill="#2446b0"/>
<circle cx="427.6" cy="203" r="0.55" fill="#2446b0"/>
<circle cx="434.6" cy="200" r="0.55" fill="#2446b0"/>
<circle cx="436.6" cy="205" r="0.55" fill="#2446b0"/>
<g filter="url(#bl)">
<ellipse cx="440.4" cy="181" rx="12.2" ry="9.6" fill="#2548a8"/>
<ellipse cx="440.4" cy="181" rx="9.6" ry="7.4" fill="#2f78cc"/>
<ellipse cx="440.4" cy="181" rx="8.4" ry="6.2" fill="#2fbcee"/>
<ellipse cx="440.4" cy="181" rx="6.6" ry="4.8" fill="#6cc24a"/>
<ellipse cx="440.4" cy="181" rx="4.4" ry="3" fill="#f3e51f"/>
<ellipse cx="440.4" cy="181" rx="2.4" ry="1.6" fill="#f4c41f"/>
</g>
<g filter="url(#bl)">
<path d="M444.1,206 C443.6,201 446.6,199 451.6,197 C455.6,193 459.6,189.5 462.1,188.8 C464.9,188.4 465.6,193 465.4,199 C465.6,206 462.6,211 457.6,211.2 C450.6,211.3 445.6,209.5 444.1,206 Z" fill="#2548a8" stroke="none" stroke-width="1"/>
</g>
<g filter="url(#bl)">
<ellipse cx="458.2" cy="204" rx="7.6" ry="6.9" fill="#2f78cc"/>
<ellipse cx="458.2" cy="204" rx="6.6" ry="6" fill="#2fbcee"/>
<ellipse cx="458.2" cy="204" rx="5.3" ry="4.9" fill="#6cc24a"/>
<ellipse cx="458.2" cy="204" rx="4" ry="3.9" fill="#f3e51f"/>
<ellipse cx="458.2" cy="204" rx="3" ry="3" fill="#f7941d"/>
<ellipse cx="458.2" cy="204" rx="2.4" ry="2.4" fill="#ec1c24"/>
</g>
<rect x="422.6" y="151.8" width="67.9" height="68" fill="none" stroke="#262626" stroke-width="1.4"/>
<rect x="424" y="162.7" width="25.6" height="28.6" fill="none" stroke="#8a8a8a" stroke-width="0.8"/>
<rect x="449.1" y="193.5" width="24.6" height="25.1" fill="none" stroke="#8a8a8a" stroke-width="0.8"/>
<text x="437.2" y="161.6" font-size="9.49" text-anchor="middle" textLength="14.61" lengthAdjust="spacingAndGlyphs" fill="#231f20">68%</text>
<text x="481.6" y="214.6" font-size="9.49" text-anchor="middle" textLength="14.61" lengthAdjust="spacingAndGlyphs" fill="#231f20">32%</text>
<text x="418.6" y="161.4" font-size="6.1" text-anchor="end" fill="#231f20">10<tspan font-size="3.8" dy="-2.2">5</tspan><tspan dy="2.2"></tspan></text>
<line x1="420.4" y1="159.2" x2="422.6" y2="159.2" stroke="#333" stroke-width="0.7"/>
<text x="418.6" y="175.6" font-size="6.1" text-anchor="end" fill="#231f20">10<tspan font-size="3.8" dy="-2.2">4</tspan><tspan dy="2.2"></tspan></text>
<line x1="420.4" y1="173.4" x2="422.6" y2="173.4" stroke="#333" stroke-width="0.7"/>
<text x="418.6" y="191.7" font-size="6.1" text-anchor="end" fill="#231f20">10<tspan font-size="3.8" dy="-2.2">3</tspan><tspan dy="2.2"></tspan></text>
<line x1="420.4" y1="189.5" x2="422.6" y2="189.5" stroke="#333" stroke-width="0.7"/>
<text x="416" y="208.2" font-size="6.1" text-anchor="end" fill="#231f20">0</text>
<line x1="420.4" y1="206" x2="422.6" y2="206" stroke="#333" stroke-width="0.7"/>
<line x1="421" y1="153" x2="422.6" y2="153" stroke="#333" stroke-width="0.7"/>
<line x1="421" y1="154.5" x2="422.6" y2="154.5" stroke="#333" stroke-width="0.7"/>
<line x1="421" y1="156" x2="422.6" y2="156" stroke="#333" stroke-width="0.7"/>
<line x1="421" y1="157.5" x2="422.6" y2="157.5" stroke="#333" stroke-width="0.7"/>
<line x1="421" y1="162.5" x2="422.6" y2="162.5" stroke="#333" stroke-width="0.7"/>
<line x1="421" y1="164" x2="422.6" y2="164" stroke="#333" stroke-width="0.7"/>
<line x1="421" y1="165" x2="422.6" y2="165" stroke="#333" stroke-width="0.7"/>
<line x1="421" y1="167" x2="422.6" y2="167" stroke="#333" stroke-width="0.7"/>
<line x1="421" y1="169" x2="422.6" y2="169" stroke="#333" stroke-width="0.7"/>
<line x1="421" y1="176" x2="422.6" y2="176" stroke="#333" stroke-width="0.7"/>
<line x1="421" y1="177.5" x2="422.6" y2="177.5" stroke="#333" stroke-width="0.7"/>
<line x1="421" y1="179" x2="422.6" y2="179" stroke="#333" stroke-width="0.7"/>
<line x1="421" y1="181" x2="422.6" y2="181" stroke="#333" stroke-width="0.7"/>
<line x1="421" y1="184" x2="422.6" y2="184" stroke="#333" stroke-width="0.7"/>
<line x1="421" y1="192" x2="422.6" y2="192" stroke="#333" stroke-width="0.7"/>
<line x1="421" y1="194" x2="422.6" y2="194" stroke="#333" stroke-width="0.7"/>
<line x1="421" y1="196" x2="422.6" y2="196" stroke="#333" stroke-width="0.7"/>
<line x1="421" y1="199" x2="422.6" y2="199" stroke="#333" stroke-width="0.7"/>
<line x1="421" y1="202" x2="422.6" y2="202" stroke="#333" stroke-width="0.7"/>
<line x1="421" y1="210" x2="422.6" y2="210" stroke="#333" stroke-width="0.7"/>
<line x1="421" y1="213" x2="422.6" y2="213" stroke="#333" stroke-width="0.7"/>
<line x1="421" y1="216" x2="422.6" y2="216" stroke="#333" stroke-width="0.7"/>
<line x1="421" y1="218" x2="422.6" y2="218" stroke="#333" stroke-width="0.7"/>
<text x="439" y="229.4" font-size="6.1" text-anchor="middle" fill="#231f20">0</text>
<text x="460.4" y="229.4" font-size="6.1" text-anchor="middle" fill="#231f20">10<tspan font-size="3.8" dy="-2.2">3</tspan><tspan dy="2.2"></tspan></text>
<text x="480.6" y="229.4" font-size="6.1" text-anchor="middle" fill="#231f20">10<tspan font-size="3.8" dy="-2.2">4</tspan><tspan dy="2.2"></tspan></text>
<line x1="425.6" y1="219.8" x2="425.6" y2="221.7" stroke="#333" stroke-width="0.7"/>
<line x1="429.6" y1="219.8" x2="429.6" y2="221.7" stroke="#333" stroke-width="0.7"/>
<line x1="432.6" y1="219.8" x2="432.6" y2="221.7" stroke="#333" stroke-width="0.7"/>
<line x1="434.6" y1="219.8" x2="434.6" y2="221.7" stroke="#333" stroke-width="0.7"/>
<line x1="436.1" y1="219.8" x2="436.1" y2="221.7" stroke="#333" stroke-width="0.7"/>
<line x1="437.1" y1="219.8" x2="437.1" y2="221.7" stroke="#333" stroke-width="0.7"/>
<line x1="438.1" y1="219.8" x2="438.1" y2="221.7" stroke="#333" stroke-width="0.7"/>
<line x1="439" y1="219.8" x2="439" y2="221.7" stroke="#333" stroke-width="0.7"/>
<line x1="439.9" y1="219.8" x2="439.9" y2="221.7" stroke="#333" stroke-width="0.7"/>
<line x1="440.9" y1="219.8" x2="440.9" y2="221.7" stroke="#333" stroke-width="0.7"/>
<line x1="442.1" y1="219.8" x2="442.1" y2="221.7" stroke="#333" stroke-width="0.7"/>
<line x1="443.6" y1="219.8" x2="443.6" y2="221.7" stroke="#333" stroke-width="0.7"/>
<line x1="445.6" y1="219.8" x2="445.6" y2="221.7" stroke="#333" stroke-width="0.7"/>
<line x1="449.6" y1="219.8" x2="449.6" y2="221.7" stroke="#333" stroke-width="0.7"/>
<line x1="453.6" y1="219.8" x2="453.6" y2="221.7" stroke="#333" stroke-width="0.7"/>
<line x1="455.6" y1="219.8" x2="455.6" y2="221.7" stroke="#333" stroke-width="0.7"/>
<line x1="457.6" y1="219.8" x2="457.6" y2="221.7" stroke="#333" stroke-width="0.7"/>
<line x1="459.1" y1="219.8" x2="459.1" y2="221.7" stroke="#333" stroke-width="0.7"/>
<line x1="460.2" y1="219.8" x2="460.2" y2="221.7" stroke="#333" stroke-width="0.7"/>
<line x1="464.6" y1="219.8" x2="464.6" y2="221.7" stroke="#333" stroke-width="0.7"/>
<line x1="469.6" y1="219.8" x2="469.6" y2="221.7" stroke="#333" stroke-width="0.7"/>
<line x1="472.6" y1="219.8" x2="472.6" y2="221.7" stroke="#333" stroke-width="0.7"/>
<line x1="474.6" y1="219.8" x2="474.6" y2="221.7" stroke="#333" stroke-width="0.7"/>
<line x1="476.6" y1="219.8" x2="476.6" y2="221.7" stroke="#333" stroke-width="0.7"/>
<line x1="478.6" y1="219.8" x2="478.6" y2="221.7" stroke="#333" stroke-width="0.7"/>
<line x1="480.1" y1="219.8" x2="480.1" y2="221.7" stroke="#333" stroke-width="0.7"/>
<line x1="481.2" y1="219.8" x2="481.2" y2="221.7" stroke="#333" stroke-width="0.7"/>
<line x1="484.6" y1="219.8" x2="484.6" y2="221.7" stroke="#333" stroke-width="0.7"/>
<line x1="488.6" y1="219.8" x2="488.6" y2="221.7" stroke="#333" stroke-width="0.7"/>
<text x="237.6" y="186" font-size="9.6" text-anchor="middle" textLength="24" lengthAdjust="spacingAndGlyphs" transform="rotate(-90 237.6 186)" fill="#231f20">CD45.2</text>
<text x="288.6" y="241.3" font-size="9.72" text-anchor="middle" textLength="25" lengthAdjust="spacingAndGlyphs" fill="#231f20">CD45.1</text>
<line x1="305.2" y1="238.3" x2="478" y2="238.3" stroke="#111" stroke-width="1.25"/>
<path d="M476.5,235.5 L486.6,238.3 L476.5,241.1 Z" fill="#111" stroke="none" stroke-width="1"/>
<circle cx="85.5" cy="258.3" r="2.6" fill="#c8102e"/>
<text x="91.8" y="261" font-size="7.2" textLength="22.8" lengthAdjust="spacingAndGlyphs" fill="#231f20">34<tspan font-size="4.46" dy="-3.46">&#8211;</tspan><tspan dy="3.46">KSL</tspan></text>
<circle cx="126.8" cy="258.3" r="2.6" fill="#1c4f8c"/>
<text x="132.6" y="261" font-size="7.2" textLength="38.6" lengthAdjust="spacingAndGlyphs" fill="#231f20">Sdc2<tspan font-size="4.4" dy="-3.5">&#8211;</tspan><tspan dy="3.5"> HSCs</tspan></text>
<circle cx="186.3" cy="258.3" r="2.6" fill="#3cb44b"/>
<text x="192.5" y="261" font-size="7.2" textLength="39.5" lengthAdjust="spacingAndGlyphs" fill="#231f20">Sdc2<tspan font-size="4.4" dy="-2.8">+</tspan><tspan dy="2.8"> HSCs</tspan></text>
<rect x="360.8" y="256.3" width="5.5" height="5.2" fill="#c8102e" stroke="none" stroke-width="0"/>
<text x="369.8" y="261.3" font-size="7.2" textLength="23.8" lengthAdjust="spacingAndGlyphs" fill="#231f20">34<tspan font-size="4.46" dy="-3.46">&#8211;</tspan><tspan dy="3.46">KSL</tspan></text>
<rect x="399.5" y="256.3" width="5.5" height="5.2" fill="#1c4f8c" stroke="none" stroke-width="0"/>
<text x="407.6" y="261.3" font-size="7.2" textLength="39" lengthAdjust="spacingAndGlyphs" fill="#231f20">Sdc2<tspan font-size="4.4" dy="-3.5">&#8211;</tspan><tspan dy="3.5"> HSCs</tspan></text>
<rect x="454.3" y="256.3" width="5.5" height="5.2" fill="#3cb44b" stroke="none" stroke-width="0"/>
<text x="462.3" y="261.3" font-size="7.2" textLength="39.8" lengthAdjust="spacingAndGlyphs" fill="#231f20">Sdc2<tspan font-size="4.4" dy="-2.8">+</tspan><tspan dy="2.8"> HSCs</tspan></text>
<line x1="35.45" y1="293.5" x2="35.45" y2="348.9" stroke="#222" stroke-width="1.25"/>
<line x1="34.85" y1="348.3" x2="94.2" y2="348.3" stroke="#222" stroke-width="1.25"/>
<line x1="32.45" y1="293.8" x2="35.45" y2="293.8" stroke="#222" stroke-width="1"/>
<text x="30.05" y="296.4" font-size="9.55" text-anchor="end" textLength="9.4" lengthAdjust="spacingAndGlyphs" fill="#231f20">50</text>
<line x1="32.45" y1="304.7" x2="35.45" y2="304.7" stroke="#222" stroke-width="1"/>
<text x="30.05" y="307.3" font-size="9.55" text-anchor="end" textLength="9.4" lengthAdjust="spacingAndGlyphs" fill="#231f20">40</text>
<line x1="32.45" y1="315.6" x2="35.45" y2="315.6" stroke="#222" stroke-width="1"/>
<text x="30.05" y="318.2" font-size="9.55" text-anchor="end" textLength="9.4" lengthAdjust="spacingAndGlyphs" fill="#231f20">30</text>
<line x1="32.45" y1="326.5" x2="35.45" y2="326.5" stroke="#222" stroke-width="1"/>
<text x="30.05" y="329.1" font-size="9.55" text-anchor="end" textLength="9.4" lengthAdjust="spacingAndGlyphs" fill="#231f20">20</text>
<line x1="32.45" y1="337.4" x2="35.45" y2="337.4" stroke="#222" stroke-width="1"/>
<text x="30.05" y="340" font-size="9.55" text-anchor="end" textLength="9.4" lengthAdjust="spacingAndGlyphs" fill="#231f20">10</text>
<line x1="32.45" y1="348.3" x2="35.45" y2="348.3" stroke="#222" stroke-width="1"/>
<text x="30.05" y="350.9" font-size="9.55" text-anchor="end" textLength="4.7" lengthAdjust="spacingAndGlyphs" fill="#231f20">0</text>
<line x1="37.4" y1="348.3" x2="37.4" y2="350.9" stroke="#222" stroke-width="1"/>
<text x="37.4" y="360.4" font-size="9.24" text-anchor="middle" textLength="4.28" lengthAdjust="spacingAndGlyphs" fill="#231f20">4</text>
<line x1="55.6" y1="348.3" x2="55.6" y2="350.9" stroke="#222" stroke-width="1"/>
<text x="55.6" y="360.4" font-size="9.24" text-anchor="middle" textLength="4.28" lengthAdjust="spacingAndGlyphs" fill="#231f20">8</text>
<line x1="73.7" y1="348.3" x2="73.7" y2="350.9" stroke="#222" stroke-width="1"/>
<text x="73.7" y="360.4" font-size="9.24" text-anchor="middle" textLength="8.56" lengthAdjust="spacingAndGlyphs" fill="#231f20">12</text>
<line x1="91.9" y1="348.3" x2="91.9" y2="350.9" stroke="#222" stroke-width="1"/>
<text x="91.9" y="360.4" font-size="9.24" text-anchor="middle" textLength="8.56" lengthAdjust="spacingAndGlyphs" fill="#231f20">16</text>
<polyline points="37.4,340.9 55.6,341.8 73.7,341.8 91.9,340.2" fill="none" stroke="#1c4f8c" stroke-width="1.55" stroke-linejoin="round"/>
<line x1="37.4" y1="339.1" x2="37.4" y2="343" stroke="#1c4f8c" stroke-width="0.85"/>
<line x1="35.6" y1="339.1" x2="39.2" y2="339.1" stroke="#1c4f8c" stroke-width="0.85"/>
<line x1="35.6" y1="343" x2="39.2" y2="343" stroke="#1c4f8c" stroke-width="0.85"/>
<line x1="55.6" y1="339.5" x2="55.6" y2="344" stroke="#1c4f8c" stroke-width="0.85"/>
<line x1="53.8" y1="339.5" x2="57.4" y2="339.5" stroke="#1c4f8c" stroke-width="0.85"/>
<line x1="53.8" y1="344" x2="57.4" y2="344" stroke="#1c4f8c" stroke-width="0.85"/>
<line x1="73.7" y1="338.5" x2="73.7" y2="345" stroke="#1c4f8c" stroke-width="0.85"/>
<line x1="71.9" y1="338.5" x2="75.5" y2="338.5" stroke="#1c4f8c" stroke-width="0.85"/>
<line x1="71.9" y1="345" x2="75.5" y2="345" stroke="#1c4f8c" stroke-width="0.85"/>
<line x1="91.9" y1="336.4" x2="91.9" y2="343.8" stroke="#1c4f8c" stroke-width="0.85"/>
<line x1="90.1" y1="336.4" x2="93.7" y2="336.4" stroke="#1c4f8c" stroke-width="0.85"/>
<line x1="90.1" y1="343.8" x2="93.7" y2="343.8" stroke="#1c4f8c" stroke-width="0.85"/>
<path d="M37.4,339 l1.9,1.9 l-1.9,1.9 l-1.9,-1.9 Z" fill="#1c4f8c" stroke="none" stroke-width="1"/>
<path d="M55.6,339.9 l1.9,1.9 l-1.9,1.9 l-1.9,-1.9 Z" fill="#1c4f8c" stroke="none" stroke-width="1"/>
<path d="M73.7,339.9 l1.9,1.9 l-1.9,1.9 l-1.9,-1.9 Z" fill="#1c4f8c" stroke="none" stroke-width="1"/>
<path d="M91.9,338.3 l1.9,1.9 l-1.9,1.9 l-1.9,-1.9 Z" fill="#1c4f8c" stroke="none" stroke-width="1"/>
<polyline points="37.4,334.8 55.6,307.5 73.7,312.9 91.9,312" fill="none" stroke="#3cb44b" stroke-width="1.55" stroke-linejoin="round"/>
<line x1="37.4" y1="332.6" x2="37.4" y2="337.2" stroke="#3cb44b" stroke-width="0.85"/>
<line x1="35.6" y1="332.6" x2="39.2" y2="332.6" stroke="#3cb44b" stroke-width="0.85"/>
<line x1="35.6" y1="337.2" x2="39.2" y2="337.2" stroke="#3cb44b" stroke-width="0.85"/>
<line x1="55.6" y1="302.5" x2="55.6" y2="312.2" stroke="#3cb44b" stroke-width="0.85"/>
<line x1="53.8" y1="302.5" x2="57.4" y2="302.5" stroke="#3cb44b" stroke-width="0.85"/>
<line x1="53.8" y1="312.2" x2="57.4" y2="312.2" stroke="#3cb44b" stroke-width="0.85"/>
<line x1="73.7" y1="308.2" x2="73.7" y2="317.6" stroke="#3cb44b" stroke-width="0.85"/>
<line x1="71.9" y1="308.2" x2="75.5" y2="308.2" stroke="#3cb44b" stroke-width="0.85"/>
<line x1="71.9" y1="317.6" x2="75.5" y2="317.6" stroke="#3cb44b" stroke-width="0.85"/>
<line x1="91.9" y1="306.2" x2="91.9" y2="317.3" stroke="#3cb44b" stroke-width="0.85"/>
<line x1="90.1" y1="306.2" x2="93.7" y2="306.2" stroke="#3cb44b" stroke-width="0.85"/>
<line x1="90.1" y1="317.3" x2="93.7" y2="317.3" stroke="#3cb44b" stroke-width="0.85"/>
<rect x="35.8" y="333.2" width="3.2" height="3.2" fill="#3cb44b" stroke="none" stroke-width="0"/>
<circle cx="55.6" cy="307.5" r="1.65" fill="#3cb44b"/>
<circle cx="73.7" cy="312.9" r="1.65" fill="#3cb44b"/>
<circle cx="91.9" cy="312" r="1.65" fill="#3cb44b"/>
<polyline points="37.4,341.8 55.6,330.8 73.7,327 91.9,327.4" fill="none" stroke="#c8102e" stroke-width="1.55" stroke-linejoin="round"/>
<line x1="55.6" y1="326.4" x2="55.6" y2="335.1" stroke="#c8102e" stroke-width="0.85"/>
<line x1="53.8" y1="326.4" x2="57.4" y2="326.4" stroke="#c8102e" stroke-width="0.85"/>
<line x1="53.8" y1="335.1" x2="57.4" y2="335.1" stroke="#c8102e" stroke-width="0.85"/>
<line x1="73.7" y1="320.6" x2="73.7" y2="333.1" stroke="#c8102e" stroke-width="0.85"/>
<line x1="71.9" y1="320.6" x2="75.5" y2="320.6" stroke="#c8102e" stroke-width="0.85"/>
<line x1="71.9" y1="333.1" x2="75.5" y2="333.1" stroke="#c8102e" stroke-width="0.85"/>
<line x1="91.9" y1="321" x2="91.9" y2="333.8" stroke="#c8102e" stroke-width="0.85"/>
<line x1="90.1" y1="321" x2="93.7" y2="321" stroke="#c8102e" stroke-width="0.85"/>
<line x1="90.1" y1="333.8" x2="93.7" y2="333.8" stroke="#c8102e" stroke-width="0.85"/>
<rect x="35.8" y="340.2" width="3.2" height="3.2" fill="#c8102e" stroke="none" stroke-width="0"/>
<circle cx="55.6" cy="330.8" r="1.65" fill="#c8102e"/>
<circle cx="73.7" cy="327" r="1.65" fill="#c8102e"/>
<circle cx="91.9" cy="327.4" r="1.65" fill="#c8102e"/>
<text x="55.6" y="296.92" font-size="5.6" text-anchor="middle" textLength="3.1" lengthAdjust="spacingAndGlyphs" fill="#231f20" font-style="italic">#</text>
<text x="55.6" y="304.14" font-size="6.4" text-anchor="middle" textLength="10.6" lengthAdjust="spacingAndGlyphs" fill="#231f20" style="stroke-width:0">****</text>
<text x="73.7" y="301.82" font-size="5.6" text-anchor="middle" textLength="3.1" lengthAdjust="spacingAndGlyphs" fill="#231f20" font-style="italic">#</text>
<text x="73.7" y="309.04" font-size="6.4" text-anchor="middle" textLength="10.6" lengthAdjust="spacingAndGlyphs" fill="#231f20" style="stroke-width:0">****</text>
<text x="91.9" y="300.52" font-size="5.6" text-anchor="middle" textLength="3.1" lengthAdjust="spacingAndGlyphs" fill="#231f20" font-style="italic">#</text>
<text x="91.9" y="308.04" font-size="6.4" text-anchor="middle" textLength="10.6" lengthAdjust="spacingAndGlyphs" fill="#231f20" style="stroke-width:0">****</text>
<text x="63.7" y="284.8" font-size="9.79" text-anchor="middle" textLength="20.5" lengthAdjust="spacingAndGlyphs" fill="#231f20">Total</text>
<line x1="116.3" y1="291.6" x2="116.3" y2="349.8" stroke="#222" stroke-width="1.25"/>
<line x1="115.7" y1="349.2" x2="178.8" y2="349.2" stroke="#222" stroke-width="1.25"/>
<line x1="113.3" y1="291.9" x2="116.3" y2="291.9" stroke="#222" stroke-width="1"/>
<text x="110.9" y="294.5" font-size="9.55" text-anchor="end" textLength="9.4" lengthAdjust="spacingAndGlyphs" fill="#231f20">50</text>
<line x1="113.3" y1="303.36" x2="116.3" y2="303.36" stroke="#222" stroke-width="1"/>
<text x="110.9" y="305.96" font-size="9.55" text-anchor="end" textLength="9.4" lengthAdjust="spacingAndGlyphs" fill="#231f20">40</text>
<line x1="113.3" y1="314.82" x2="116.3" y2="314.82" stroke="#222" stroke-width="1"/>
<text x="110.9" y="317.42" font-size="9.55" text-anchor="end" textLength="9.4" lengthAdjust="spacingAndGlyphs" fill="#231f20">30</text>
<line x1="113.3" y1="326.28" x2="116.3" y2="326.28" stroke="#222" stroke-width="1"/>
<text x="110.9" y="328.88" font-size="9.55" text-anchor="end" textLength="9.4" lengthAdjust="spacingAndGlyphs" fill="#231f20">20</text>
<line x1="113.3" y1="337.74" x2="116.3" y2="337.74" stroke="#222" stroke-width="1"/>
<text x="110.9" y="340.34" font-size="9.55" text-anchor="end" textLength="9.4" lengthAdjust="spacingAndGlyphs" fill="#231f20">10</text>
<line x1="113.3" y1="349.2" x2="116.3" y2="349.2" stroke="#222" stroke-width="1"/>
<text x="110.9" y="351.8" font-size="9.55" text-anchor="end" textLength="4.7" lengthAdjust="spacingAndGlyphs" fill="#231f20">0</text>
<line x1="118.2" y1="349.2" x2="118.2" y2="351.8" stroke="#222" stroke-width="1"/>
<text x="118.2" y="360.4" font-size="9.24" text-anchor="middle" textLength="4.28" lengthAdjust="spacingAndGlyphs" fill="#231f20">4</text>
<line x1="137.1" y1="349.2" x2="137.1" y2="351.8" stroke="#222" stroke-width="1"/>
<text x="137.1" y="360.4" font-size="9.24" text-anchor="middle" textLength="4.28" lengthAdjust="spacingAndGlyphs" fill="#231f20">8</text>
<line x1="155.9" y1="349.2" x2="155.9" y2="351.8" stroke="#222" stroke-width="1"/>
<text x="155.9" y="360.4" font-size="9.24" text-anchor="middle" textLength="8.56" lengthAdjust="spacingAndGlyphs" fill="#231f20">12</text>
<line x1="175" y1="349.2" x2="175" y2="351.8" stroke="#222" stroke-width="1"/>
<text x="175" y="360.4" font-size="9.24" text-anchor="middle" textLength="8.56" lengthAdjust="spacingAndGlyphs" fill="#231f20">16</text>
<polyline points="118.2,339.6 137.1,342 155.9,343.4 175,341.3" fill="none" stroke="#1c4f8c" stroke-width="1.55" stroke-linejoin="round"/>
<line x1="118.2" y1="337.3" x2="118.2" y2="342" stroke="#1c4f8c" stroke-width="0.85"/>
<line x1="116.4" y1="337.3" x2="120" y2="337.3" stroke="#1c4f8c" stroke-width="0.85"/>
<line x1="116.4" y1="342" x2="120" y2="342" stroke="#1c4f8c" stroke-width="0.85"/>
<line x1="137.1" y1="339.6" x2="137.1" y2="344.2" stroke="#1c4f8c" stroke-width="0.85"/>
<line x1="135.3" y1="339.6" x2="138.9" y2="339.6" stroke="#1c4f8c" stroke-width="0.85"/>
<line x1="135.3" y1="344.2" x2="138.9" y2="344.2" stroke="#1c4f8c" stroke-width="0.85"/>
<line x1="155.9" y1="339" x2="155.9" y2="345.1" stroke="#1c4f8c" stroke-width="0.85"/>
<line x1="154.1" y1="339" x2="157.7" y2="339" stroke="#1c4f8c" stroke-width="0.85"/>
<line x1="154.1" y1="345.1" x2="157.7" y2="345.1" stroke="#1c4f8c" stroke-width="0.85"/>
<line x1="175" y1="337.3" x2="175" y2="345.1" stroke="#1c4f8c" stroke-width="0.85"/>
<line x1="173.2" y1="337.3" x2="176.8" y2="337.3" stroke="#1c4f8c" stroke-width="0.85"/>
<line x1="173.2" y1="345.1" x2="176.8" y2="345.1" stroke="#1c4f8c" stroke-width="0.85"/>
<path d="M118.2,337.7 l1.9,1.9 l-1.9,1.9 l-1.9,-1.9 Z" fill="#1c4f8c" stroke="none" stroke-width="1"/>
<path d="M137.1,340.1 l1.9,1.9 l-1.9,1.9 l-1.9,-1.9 Z" fill="#1c4f8c" stroke="none" stroke-width="1"/>
<path d="M155.9,341.5 l1.9,1.9 l-1.9,1.9 l-1.9,-1.9 Z" fill="#1c4f8c" stroke="none" stroke-width="1"/>
<path d="M175,339.4 l1.9,1.9 l-1.9,1.9 l-1.9,-1.9 Z" fill="#1c4f8c" stroke="none" stroke-width="1"/>
<polyline points="118.2,329 137.1,304.8 155.9,313.6 175,312.6" fill="none" stroke="#3cb44b" stroke-width="1.55" stroke-linejoin="round"/>
<line x1="118.2" y1="325.7" x2="118.2" y2="332.1" stroke="#3cb44b" stroke-width="0.85"/>
<line x1="116.4" y1="325.7" x2="120" y2="325.7" stroke="#3cb44b" stroke-width="0.85"/>
<line x1="116.4" y1="332.1" x2="120" y2="332.1" stroke="#3cb44b" stroke-width="0.85"/>
<line x1="137.1" y1="299.8" x2="137.1" y2="310.5" stroke="#3cb44b" stroke-width="0.85"/>
<line x1="135.3" y1="299.8" x2="138.9" y2="299.8" stroke="#3cb44b" stroke-width="0.85"/>
<line x1="135.3" y1="310.5" x2="138.9" y2="310.5" stroke="#3cb44b" stroke-width="0.85"/>
<line x1="155.9" y1="307.9" x2="155.9" y2="319.2" stroke="#3cb44b" stroke-width="0.85"/>
<line x1="154.1" y1="307.9" x2="157.7" y2="307.9" stroke="#3cb44b" stroke-width="0.85"/>
<line x1="154.1" y1="319.2" x2="157.7" y2="319.2" stroke="#3cb44b" stroke-width="0.85"/>
<line x1="175" y1="306.2" x2="175" y2="319.2" stroke="#3cb44b" stroke-width="0.85"/>
<line x1="173.2" y1="306.2" x2="176.8" y2="306.2" stroke="#3cb44b" stroke-width="0.85"/>
<line x1="173.2" y1="319.2" x2="176.8" y2="319.2" stroke="#3cb44b" stroke-width="0.85"/>
<rect x="116.6" y="327.4" width="3.2" height="3.2" fill="#3cb44b" stroke="none" stroke-width="0"/>
<circle cx="137.1" cy="304.8" r="1.65" fill="#3cb44b"/>
<circle cx="155.9" cy="313.6" r="1.65" fill="#3cb44b"/>
<circle cx="175" cy="312.6" r="1.65" fill="#3cb44b"/>
<polyline points="118.2,342 137.1,331.3 155.9,326.9 175,328.3" fill="none" stroke="#c8102e" stroke-width="1.55" stroke-linejoin="round"/>
<line x1="137.1" y1="327.5" x2="137.1" y2="335.6" stroke="#c8102e" stroke-width="0.85"/>
<line x1="135.3" y1="327.5" x2="138.9" y2="327.5" stroke="#c8102e" stroke-width="0.85"/>
<line x1="135.3" y1="335.6" x2="138.9" y2="335.6" stroke="#c8102e" stroke-width="0.85"/>
<line x1="155.9" y1="320.5" x2="155.9" y2="333.3" stroke="#c8102e" stroke-width="0.85"/>
<line x1="154.1" y1="320.5" x2="157.7" y2="320.5" stroke="#c8102e" stroke-width="0.85"/>
<line x1="154.1" y1="333.3" x2="157.7" y2="333.3" stroke="#c8102e" stroke-width="0.85"/>
<line x1="175" y1="321.7" x2="175" y2="334.4" stroke="#c8102e" stroke-width="0.85"/>
<line x1="173.2" y1="321.7" x2="176.8" y2="321.7" stroke="#c8102e" stroke-width="0.85"/>
<line x1="173.2" y1="334.4" x2="176.8" y2="334.4" stroke="#c8102e" stroke-width="0.85"/>
<rect x="116.6" y="340.4" width="3.2" height="3.2" fill="#c8102e" stroke="none" stroke-width="0"/>
<circle cx="137.1" cy="331.3" r="1.65" fill="#c8102e"/>
<circle cx="155.9" cy="326.9" r="1.65" fill="#c8102e"/>
<circle cx="175" cy="328.3" r="1.65" fill="#c8102e"/>
<text x="137.1" y="292.62" font-size="5.6" text-anchor="middle" textLength="9.3" lengthAdjust="spacingAndGlyphs" fill="#231f20" font-style="italic">###</text>
<text x="137.1" y="299.64" font-size="6.4" text-anchor="middle" textLength="10.6" lengthAdjust="spacingAndGlyphs" fill="#231f20" style="stroke-width:0">****</text>
<text x="155.9" y="308.84" font-size="6.4" text-anchor="middle" textLength="10.6" lengthAdjust="spacingAndGlyphs" fill="#231f20" style="stroke-width:0">****</text>
<text x="175" y="300.72" font-size="5.6" text-anchor="middle" textLength="3.1" lengthAdjust="spacingAndGlyphs" fill="#231f20" font-style="italic">#</text>
<text x="175" y="307.74" font-size="6.4" text-anchor="middle" textLength="10.6" lengthAdjust="spacingAndGlyphs" fill="#231f20" style="stroke-width:0">****</text>
<text x="145.5" y="284.8" font-size="9.79" text-anchor="middle" textLength="26.8" lengthAdjust="spacingAndGlyphs" fill="#231f20">B cells</text>
<line x1="199" y1="291.6" x2="199" y2="349.8" stroke="#222" stroke-width="1.25"/>
<line x1="198.4" y1="349.2" x2="261.2" y2="349.2" stroke="#222" stroke-width="1.25"/>
<line x1="196" y1="291.9" x2="199" y2="291.9" stroke="#222" stroke-width="1"/>
<text x="193.6" y="294.5" font-size="9.55" text-anchor="end" textLength="9.4" lengthAdjust="spacingAndGlyphs" fill="#231f20">50</text>
<line x1="196" y1="303.36" x2="199" y2="303.36" stroke="#222" stroke-width="1"/>
<text x="193.6" y="305.96" font-size="9.55" text-anchor="end" textLength="9.4" lengthAdjust="spacingAndGlyphs" fill="#231f20">40</text>
<line x1="196" y1="314.82" x2="199" y2="314.82" stroke="#222" stroke-width="1"/>
<text x="193.6" y="317.42" font-size="9.55" text-anchor="end" textLength="9.4" lengthAdjust="spacingAndGlyphs" fill="#231f20">30</text>
<line x1="196" y1="326.28" x2="199" y2="326.28" stroke="#222" stroke-width="1"/>
<text x="193.6" y="328.88" font-size="9.55" text-anchor="end" textLength="9.4" lengthAdjust="spacingAndGlyphs" fill="#231f20">20</text>
<line x1="196" y1="337.74" x2="199" y2="337.74" stroke="#222" stroke-width="1"/>
<text x="193.6" y="340.34" font-size="9.55" text-anchor="end" textLength="9.4" lengthAdjust="spacingAndGlyphs" fill="#231f20">10</text>
<line x1="196" y1="349.2" x2="199" y2="349.2" stroke="#222" stroke-width="1"/>
<text x="193.6" y="351.8" font-size="9.55" text-anchor="end" textLength="4.7" lengthAdjust="spacingAndGlyphs" fill="#231f20">0</text>
<line x1="200.8" y1="349.2" x2="200.8" y2="351.8" stroke="#222" stroke-width="1"/>
<text x="200.8" y="360.4" font-size="9.24" text-anchor="middle" textLength="4.28" lengthAdjust="spacingAndGlyphs" fill="#231f20">4</text>
<line x1="219.8" y1="349.2" x2="219.8" y2="351.8" stroke="#222" stroke-width="1"/>
<text x="219.8" y="360.4" font-size="9.24" text-anchor="middle" textLength="4.28" lengthAdjust="spacingAndGlyphs" fill="#231f20">8</text>
<line x1="238.7" y1="349.2" x2="238.7" y2="351.8" stroke="#222" stroke-width="1"/>
<text x="238.7" y="360.4" font-size="9.24" text-anchor="middle" textLength="8.56" lengthAdjust="spacingAndGlyphs" fill="#231f20">12</text>
<line x1="257.6" y1="349.2" x2="257.6" y2="351.8" stroke="#222" stroke-width="1"/>
<text x="257.6" y="360.4" font-size="9.24" text-anchor="middle" textLength="8.56" lengthAdjust="spacingAndGlyphs" fill="#231f20">16</text>
<polyline points="200.8,343.4 219.8,343.4 238.7,343 257.6,340.8" fill="none" stroke="#1c4f8c" stroke-width="1.55" stroke-linejoin="round"/>
<line x1="200.8" y1="341.6" x2="200.8" y2="345" stroke="#1c4f8c" stroke-width="0.85"/>
<line x1="199" y1="341.6" x2="202.6" y2="341.6" stroke="#1c4f8c" stroke-width="0.85"/>
<line x1="199" y1="345" x2="202.6" y2="345" stroke="#1c4f8c" stroke-width="0.85"/>
<line x1="219.8" y1="342" x2="219.8" y2="344.8" stroke="#1c4f8c" stroke-width="0.85"/>
<line x1="218" y1="342" x2="221.6" y2="342" stroke="#1c4f8c" stroke-width="0.85"/>
<line x1="218" y1="344.8" x2="221.6" y2="344.8" stroke="#1c4f8c" stroke-width="0.85"/>
<line x1="238.7" y1="340.3" x2="238.7" y2="345.5" stroke="#1c4f8c" stroke-width="0.85"/>
<line x1="236.9" y1="340.3" x2="240.5" y2="340.3" stroke="#1c4f8c" stroke-width="0.85"/>
<line x1="236.9" y1="345.5" x2="240.5" y2="345.5" stroke="#1c4f8c" stroke-width="0.85"/>
<line x1="257.6" y1="337.3" x2="257.6" y2="344.8" stroke="#1c4f8c" stroke-width="0.85"/>
<line x1="255.8" y1="337.3" x2="259.4" y2="337.3" stroke="#1c4f8c" stroke-width="0.85"/>
<line x1="255.8" y1="344.8" x2="259.4" y2="344.8" stroke="#1c4f8c" stroke-width="0.85"/>
<path d="M200.8,341.5 l1.9,1.9 l-1.9,1.9 l-1.9,-1.9 Z" fill="#1c4f8c" stroke="none" stroke-width="1"/>
<path d="M219.8,341.5 l1.9,1.9 l-1.9,1.9 l-1.9,-1.9 Z" fill="#1c4f8c" stroke="none" stroke-width="1"/>
<path d="M238.7,341.1 l1.9,1.9 l-1.9,1.9 l-1.9,-1.9 Z" fill="#1c4f8c" stroke="none" stroke-width="1"/>
<path d="M257.6,338.9 l1.9,1.9 l-1.9,1.9 l-1.9,-1.9 Z" fill="#1c4f8c" stroke="none" stroke-width="1"/>
<polyline points="200.8,345.2 219.8,315.3 238.7,310.8 257.6,310.2" fill="none" stroke="#3cb44b" stroke-width="1.55" stroke-linejoin="round"/>
<line x1="200.8" y1="343.2" x2="200.8" y2="347" stroke="#3cb44b" stroke-width="0.85"/>
<line x1="199" y1="343.2" x2="202.6" y2="343.2" stroke="#3cb44b" stroke-width="0.85"/>
<line x1="199" y1="347" x2="202.6" y2="347" stroke="#3cb44b" stroke-width="0.85"/>
<line x1="219.8" y1="311.9" x2="219.8" y2="318.3" stroke="#3cb44b" stroke-width="0.85"/>
<line x1="218" y1="311.9" x2="221.6" y2="311.9" stroke="#3cb44b" stroke-width="0.85"/>
<line x1="218" y1="318.3" x2="221.6" y2="318.3" stroke="#3cb44b" stroke-width="0.85"/>
<line x1="238.7" y1="305.3" x2="238.7" y2="316.6" stroke="#3cb44b" stroke-width="0.85"/>
<line x1="236.9" y1="305.3" x2="240.5" y2="305.3" stroke="#3cb44b" stroke-width="0.85"/>
<line x1="236.9" y1="316.6" x2="240.5" y2="316.6" stroke="#3cb44b" stroke-width="0.85"/>
<line x1="257.6" y1="303.9" x2="257.6" y2="316.6" stroke="#3cb44b" stroke-width="0.85"/>
<line x1="255.8" y1="303.9" x2="259.4" y2="303.9" stroke="#3cb44b" stroke-width="0.85"/>
<line x1="255.8" y1="316.6" x2="259.4" y2="316.6" stroke="#3cb44b" stroke-width="0.85"/>
<rect x="199.2" y="343.6" width="3.2" height="3.2" fill="#3cb44b" stroke="none" stroke-width="0"/>
<circle cx="219.8" cy="315.3" r="1.65" fill="#3cb44b"/>
<circle cx="238.7" cy="310.8" r="1.65" fill="#3cb44b"/>
<circle cx="257.6" cy="310.2" r="1.65" fill="#3cb44b"/>
<polyline points="200.8,346.6 219.8,335.6 238.7,327.8 257.6,328.3" fill="none" stroke="#c8102e" stroke-width="1.55" stroke-linejoin="round"/>
<line x1="219.8" y1="332.7" x2="219.8" y2="338.2" stroke="#c8102e" stroke-width="0.85"/>
<line x1="218" y1="332.7" x2="221.6" y2="332.7" stroke="#c8102e" stroke-width="0.85"/>
<line x1="218" y1="338.2" x2="221.6" y2="338.2" stroke="#c8102e" stroke-width="0.85"/>
<line x1="238.7" y1="320.5" x2="238.7" y2="334.7" stroke="#c8102e" stroke-width="0.85"/>
<line x1="236.9" y1="320.5" x2="240.5" y2="320.5" stroke="#c8102e" stroke-width="0.85"/>
<line x1="236.9" y1="334.7" x2="240.5" y2="334.7" stroke="#c8102e" stroke-width="0.85"/>
<line x1="257.6" y1="321.2" x2="257.6" y2="335.6" stroke="#c8102e" stroke-width="0.85"/>
<line x1="255.8" y1="321.2" x2="259.4" y2="321.2" stroke="#c8102e" stroke-width="0.85"/>
<line x1="255.8" y1="335.6" x2="259.4" y2="335.6" stroke="#c8102e" stroke-width="0.85"/>
<rect x="199.2" y="345" width="3.2" height="3.2" fill="#c8102e" stroke="none" stroke-width="0"/>
<circle cx="219.8" cy="335.6" r="1.65" fill="#c8102e"/>
<circle cx="238.7" cy="327.8" r="1.65" fill="#c8102e"/>
<circle cx="257.6" cy="328.3" r="1.65" fill="#c8102e"/>
<text x="219.8" y="305.62" font-size="5.6" text-anchor="middle" textLength="6.2" lengthAdjust="spacingAndGlyphs" fill="#231f20" font-style="italic">##</text>
<text x="219.8" y="312.94" font-size="6.4" text-anchor="middle" textLength="10.6" lengthAdjust="spacingAndGlyphs" fill="#231f20" style="stroke-width:0">****</text>
<text x="238.7" y="298.72" font-size="5.6" text-anchor="middle" textLength="3.1" lengthAdjust="spacingAndGlyphs" fill="#231f20" font-style="italic">#</text>
<text x="238.7" y="306.04" font-size="6.4" text-anchor="middle" textLength="10.6" lengthAdjust="spacingAndGlyphs" fill="#231f20" style="stroke-width:0">****</text>
<text x="257.6" y="296.92" font-size="5.6" text-anchor="middle" textLength="3.1" lengthAdjust="spacingAndGlyphs" fill="#231f20" font-style="italic">#</text>
<text x="257.6" y="304.34" font-size="6.4" text-anchor="middle" textLength="10.6" lengthAdjust="spacingAndGlyphs" fill="#231f20" style="stroke-width:0">****</text>
<text x="228.6" y="284.8" font-size="9.79" text-anchor="middle" textLength="26.2" lengthAdjust="spacingAndGlyphs" fill="#231f20">T cells</text>
<line x1="280.6" y1="292" x2="280.6" y2="349.8" stroke="#222" stroke-width="1.25"/>
<line x1="280" y1="349.2" x2="343" y2="349.2" stroke="#222" stroke-width="1.25"/>
<line x1="277.6" y1="292.3" x2="280.6" y2="292.3" stroke="#222" stroke-width="1"/>
<text x="275.2" y="294.9" font-size="9.55" text-anchor="end" textLength="9.4" lengthAdjust="spacingAndGlyphs" fill="#231f20">50</text>
<line x1="277.6" y1="303.68" x2="280.6" y2="303.68" stroke="#222" stroke-width="1"/>
<text x="275.2" y="306.28" font-size="9.55" text-anchor="end" textLength="9.4" lengthAdjust="spacingAndGlyphs" fill="#231f20">40</text>
<line x1="277.6" y1="315.06" x2="280.6" y2="315.06" stroke="#222" stroke-width="1"/>
<text x="275.2" y="317.66" font-size="9.55" text-anchor="end" textLength="9.4" lengthAdjust="spacingAndGlyphs" fill="#231f20">30</text>
<line x1="277.6" y1="326.44" x2="280.6" y2="326.44" stroke="#222" stroke-width="1"/>
<text x="275.2" y="329.04" font-size="9.55" text-anchor="end" textLength="9.4" lengthAdjust="spacingAndGlyphs" fill="#231f20">20</text>
<line x1="277.6" y1="337.82" x2="280.6" y2="337.82" stroke="#222" stroke-width="1"/>
<text x="275.2" y="340.42" font-size="9.55" text-anchor="end" textLength="9.4" lengthAdjust="spacingAndGlyphs" fill="#231f20">10</text>
<line x1="277.6" y1="349.2" x2="280.6" y2="349.2" stroke="#222" stroke-width="1"/>
<text x="275.2" y="351.8" font-size="9.55" text-anchor="end" textLength="4.7" lengthAdjust="spacingAndGlyphs" fill="#231f20">0</text>
<line x1="282.8" y1="349.2" x2="282.8" y2="351.8" stroke="#222" stroke-width="1"/>
<text x="282.8" y="360.4" font-size="9.24" text-anchor="middle" textLength="4.28" lengthAdjust="spacingAndGlyphs" fill="#231f20">4</text>
<line x1="301.6" y1="349.2" x2="301.6" y2="351.8" stroke="#222" stroke-width="1"/>
<text x="301.6" y="360.4" font-size="9.24" text-anchor="middle" textLength="4.28" lengthAdjust="spacingAndGlyphs" fill="#231f20">8</text>
<line x1="320.6" y1="349.2" x2="320.6" y2="351.8" stroke="#222" stroke-width="1"/>
<text x="320.6" y="360.4" font-size="9.24" text-anchor="middle" textLength="8.56" lengthAdjust="spacingAndGlyphs" fill="#231f20">12</text>
<line x1="339.6" y1="349.2" x2="339.6" y2="351.8" stroke="#222" stroke-width="1"/>
<text x="339.6" y="360.4" font-size="9.24" text-anchor="middle" textLength="8.56" lengthAdjust="spacingAndGlyphs" fill="#231f20">16</text>
<polyline points="282.8,344.8 301.6,343 320.6,341.7 339.6,341.3" fill="none" stroke="#1c4f8c" stroke-width="1.55" stroke-linejoin="round"/>
<line x1="301.6" y1="341.4" x2="301.6" y2="344.6" stroke="#1c4f8c" stroke-width="0.85"/>
<line x1="299.8" y1="341.4" x2="303.4" y2="341.4" stroke="#1c4f8c" stroke-width="0.85"/>
<line x1="299.8" y1="344.6" x2="303.4" y2="344.6" stroke="#1c4f8c" stroke-width="0.85"/>
<line x1="320.6" y1="338.5" x2="320.6" y2="344.8" stroke="#1c4f8c" stroke-width="0.85"/>
<line x1="318.8" y1="338.5" x2="322.4" y2="338.5" stroke="#1c4f8c" stroke-width="0.85"/>
<line x1="318.8" y1="344.8" x2="322.4" y2="344.8" stroke="#1c4f8c" stroke-width="0.85"/>
<line x1="339.6" y1="337.3" x2="339.6" y2="345.1" stroke="#1c4f8c" stroke-width="0.85"/>
<line x1="337.8" y1="337.3" x2="341.4" y2="337.3" stroke="#1c4f8c" stroke-width="0.85"/>
<line x1="337.8" y1="345.1" x2="341.4" y2="345.1" stroke="#1c4f8c" stroke-width="0.85"/>
<path d="M282.8,342.9 l1.9,1.9 l-1.9,1.9 l-1.9,-1.9 Z" fill="#1c4f8c" stroke="none" stroke-width="1"/>
<path d="M301.6,341.1 l1.9,1.9 l-1.9,1.9 l-1.9,-1.9 Z" fill="#1c4f8c" stroke="none" stroke-width="1"/>
<path d="M320.6,339.8 l1.9,1.9 l-1.9,1.9 l-1.9,-1.9 Z" fill="#1c4f8c" stroke="none" stroke-width="1"/>
<path d="M339.6,339.4 l1.9,1.9 l-1.9,1.9 l-1.9,-1.9 Z" fill="#1c4f8c" stroke="none" stroke-width="1"/>
<polyline points="282.8,335.6 301.6,315.3 320.6,311.9 339.6,309.6" fill="none" stroke="#3cb44b" stroke-width="1.55" stroke-linejoin="round"/>
<line x1="282.8" y1="334.4" x2="282.8" y2="336.8" stroke="#3cb44b" stroke-width="0.85"/>
<line x1="281" y1="334.4" x2="284.6" y2="334.4" stroke="#3cb44b" stroke-width="0.85"/>
<line x1="281" y1="336.8" x2="284.6" y2="336.8" stroke="#3cb44b" stroke-width="0.85"/>
<line x1="301.6" y1="312.2" x2="301.6" y2="318.8" stroke="#3cb44b" stroke-width="0.85"/>
<line x1="299.8" y1="312.2" x2="303.4" y2="312.2" stroke="#3cb44b" stroke-width="0.85"/>
<line x1="299.8" y1="318.8" x2="303.4" y2="318.8" stroke="#3cb44b" stroke-width="0.85"/>
<line x1="320.6" y1="307.4" x2="320.6" y2="316.2" stroke="#3cb44b" stroke-width="0.85"/>
<line x1="318.8" y1="307.4" x2="322.4" y2="307.4" stroke="#3cb44b" stroke-width="0.85"/>
<line x1="318.8" y1="316.2" x2="322.4" y2="316.2" stroke="#3cb44b" stroke-width="0.85"/>
<line x1="339.6" y1="303.6" x2="339.6" y2="315.7" stroke="#3cb44b" stroke-width="0.85"/>
<line x1="337.8" y1="303.6" x2="341.4" y2="303.6" stroke="#3cb44b" stroke-width="0.85"/>
<line x1="337.8" y1="315.7" x2="341.4" y2="315.7" stroke="#3cb44b" stroke-width="0.85"/>
<rect x="281.2" y="334" width="3.2" height="3.2" fill="#3cb44b" stroke="none" stroke-width="0"/>
<circle cx="301.6" cy="315.3" r="1.65" fill="#3cb44b"/>
<circle cx="320.6" cy="311.9" r="1.65" fill="#3cb44b"/>
<circle cx="339.6" cy="309.6" r="1.65" fill="#3cb44b"/>
<polyline points="282.8,343.4 301.6,330.9 320.6,325.7 339.6,327.8" fill="none" stroke="#c8102e" stroke-width="1.55" stroke-linejoin="round"/>
<line x1="301.6" y1="327.5" x2="301.6" y2="334.4" stroke="#c8102e" stroke-width="0.85"/>
<line x1="299.8" y1="327.5" x2="303.4" y2="327.5" stroke="#c8102e" stroke-width="0.85"/>
<line x1="299.8" y1="334.4" x2="303.4" y2="334.4" stroke="#c8102e" stroke-width="0.85"/>
<line x1="320.6" y1="320" x2="320.6" y2="331.3" stroke="#c8102e" stroke-width="0.85"/>
<line x1="318.8" y1="320" x2="322.4" y2="320" stroke="#c8102e" stroke-width="0.85"/>
<line x1="318.8" y1="331.3" x2="322.4" y2="331.3" stroke="#c8102e" stroke-width="0.85"/>
<line x1="339.6" y1="321.4" x2="339.6" y2="333.9" stroke="#c8102e" stroke-width="0.85"/>
<line x1="337.8" y1="321.4" x2="341.4" y2="321.4" stroke="#c8102e" stroke-width="0.85"/>
<line x1="337.8" y1="333.9" x2="341.4" y2="333.9" stroke="#c8102e" stroke-width="0.85"/>
<rect x="281.2" y="341.8" width="3.2" height="3.2" fill="#c8102e" stroke="none" stroke-width="0"/>
<circle cx="301.6" cy="330.9" r="1.65" fill="#c8102e"/>
<circle cx="320.6" cy="325.7" r="1.65" fill="#c8102e"/>
<circle cx="339.6" cy="327.8" r="1.65" fill="#c8102e"/>
<text x="301.6" y="305.22" font-size="5.6" text-anchor="middle" textLength="6.2" lengthAdjust="spacingAndGlyphs" fill="#231f20" font-style="italic">##</text>
<text x="301.6" y="312.94" font-size="6.4" text-anchor="middle" textLength="10.6" lengthAdjust="spacingAndGlyphs" fill="#231f20" style="stroke-width:0">****</text>
<text x="320.6" y="301.22" font-size="5.6" text-anchor="middle" textLength="3.1" lengthAdjust="spacingAndGlyphs" fill="#231f20" font-style="italic">#</text>
<text x="320.6" y="308.64" font-size="6.4" text-anchor="middle" textLength="10.6" lengthAdjust="spacingAndGlyphs" fill="#231f20" style="stroke-width:0">****</text>
<text x="339.6" y="297.82" font-size="5.6" text-anchor="middle" textLength="6.2" lengthAdjust="spacingAndGlyphs" fill="#231f20" font-style="italic">##</text>
<text x="339.6" y="304.84" font-size="6.4" text-anchor="middle" textLength="10.6" lengthAdjust="spacingAndGlyphs" fill="#231f20" style="stroke-width:0">****</text>
<text x="310.3" y="284.8" font-size="9.79" text-anchor="middle" textLength="55.5" lengthAdjust="spacingAndGlyphs" fill="#231f20">Myeloid cells</text>
<text x="19.4" y="370.8" font-size="9.94" textLength="73.8" lengthAdjust="spacingAndGlyphs" fill="#231f20">Weeks after transplant</text>
<text x="15" y="321" font-size="9.5" text-anchor="middle" textLength="27.9" lengthAdjust="spacingAndGlyphs" transform="rotate(-90 15 321)" fill="#231f20">% donor</text>
<line x1="97.7" y1="368.5" x2="334" y2="368.5" stroke="#111" stroke-width="1.25"/>
<path d="M332.3,365.6 L343.4,368.5 L332.3,371.3 Z" fill="#111" stroke="none" stroke-width="1"/>
<line x1="35.45" y1="421.1" x2="35.45" y2="478.2" stroke="#222" stroke-width="1.25"/>
<line x1="34.85" y1="477.6" x2="96.5" y2="477.6" stroke="#222" stroke-width="1.25"/>
<line x1="32.45" y1="421.4" x2="35.45" y2="421.4" stroke="#222" stroke-width="1"/>
<text x="30.05" y="424" font-size="9.55" text-anchor="end" textLength="9.4" lengthAdjust="spacingAndGlyphs" fill="#231f20">20</text>
<line x1="32.45" y1="435.45" x2="35.45" y2="435.45" stroke="#222" stroke-width="1"/>
<text x="30.05" y="438.05" font-size="9.55" text-anchor="end" textLength="9.4" lengthAdjust="spacingAndGlyphs" fill="#231f20">15</text>
<line x1="32.45" y1="449.5" x2="35.45" y2="449.5" stroke="#222" stroke-width="1"/>
<text x="30.05" y="452.1" font-size="9.55" text-anchor="end" textLength="9.4" lengthAdjust="spacingAndGlyphs" fill="#231f20">10</text>
<line x1="32.45" y1="463.55" x2="35.45" y2="463.55" stroke="#222" stroke-width="1"/>
<text x="30.05" y="466.15" font-size="9.55" text-anchor="end" textLength="4.7" lengthAdjust="spacingAndGlyphs" fill="#231f20">5</text>
<line x1="32.45" y1="477.6" x2="35.45" y2="477.6" stroke="#222" stroke-width="1"/>
<text x="30.05" y="480.2" font-size="9.55" text-anchor="end" textLength="4.7" lengthAdjust="spacingAndGlyphs" fill="#231f20">0</text>
<line x1="40" y1="477.6" x2="40" y2="480.2" stroke="#222" stroke-width="1"/>
<text x="40" y="489.9" font-size="9.24" text-anchor="middle" textLength="4.28" lengthAdjust="spacingAndGlyphs" fill="#231f20">4</text>
<line x1="57.6" y1="477.6" x2="57.6" y2="480.2" stroke="#222" stroke-width="1"/>
<text x="57.6" y="489.9" font-size="9.24" text-anchor="middle" textLength="4.28" lengthAdjust="spacingAndGlyphs" fill="#231f20">8</text>
<line x1="75.4" y1="477.6" x2="75.4" y2="480.2" stroke="#222" stroke-width="1"/>
<text x="75.4" y="489.9" font-size="9.24" text-anchor="middle" textLength="8.56" lengthAdjust="spacingAndGlyphs" fill="#231f20">12</text>
<line x1="93.6" y1="477.6" x2="93.6" y2="480.2" stroke="#222" stroke-width="1"/>
<text x="93.6" y="489.9" font-size="9.24" text-anchor="middle" textLength="8.56" lengthAdjust="spacingAndGlyphs" fill="#231f20">16</text>
<polyline points="40,473.6 57.6,474.8 75.4,475.7 93.6,476.2" fill="none" stroke="#1c4f8c" stroke-width="1.55" stroke-linejoin="round"/>
<line x1="40" y1="471.5" x2="40" y2="476" stroke="#1c4f8c" stroke-width="0.85"/>
<line x1="38.2" y1="471.5" x2="41.8" y2="471.5" stroke="#1c4f8c" stroke-width="0.85"/>
<line x1="38.2" y1="476" x2="41.8" y2="476" stroke="#1c4f8c" stroke-width="0.85"/>
<line x1="57.6" y1="472.5" x2="57.6" y2="476.8" stroke="#1c4f8c" stroke-width="0.85"/>
<line x1="55.8" y1="472.5" x2="59.4" y2="472.5" stroke="#1c4f8c" stroke-width="0.85"/>
<line x1="55.8" y1="476.8" x2="59.4" y2="476.8" stroke="#1c4f8c" stroke-width="0.85"/>
<path d="M40,471.7 l1.9,1.9 l-1.9,1.9 l-1.9,-1.9 Z" fill="#1c4f8c" stroke="none" stroke-width="1"/>
<path d="M57.6,472.9 l1.9,1.9 l-1.9,1.9 l-1.9,-1.9 Z" fill="#1c4f8c" stroke="none" stroke-width="1"/>
<path d="M75.4,473.8 l1.9,1.9 l-1.9,1.9 l-1.9,-1.9 Z" fill="#1c4f8c" stroke="none" stroke-width="1"/>
<path d="M93.6,474.3 l1.9,1.9 l-1.9,1.9 l-1.9,-1.9 Z" fill="#1c4f8c" stroke="none" stroke-width="1"/>
<polyline points="40,450.3 57.6,445.8 75.4,456.7 93.6,459.3" fill="none" stroke="#3cb44b" stroke-width="1.55" stroke-linejoin="round"/>
<line x1="40" y1="442.3" x2="40" y2="457.5" stroke="#3cb44b" stroke-width="0.85"/>
<line x1="38.2" y1="442.3" x2="41.8" y2="442.3" stroke="#3cb44b" stroke-width="0.85"/>
<line x1="38.2" y1="457.5" x2="41.8" y2="457.5" stroke="#3cb44b" stroke-width="0.85"/>
<line x1="57.6" y1="436.4" x2="57.6" y2="455.5" stroke="#3cb44b" stroke-width="0.85"/>
<line x1="55.8" y1="436.4" x2="59.4" y2="436.4" stroke="#3cb44b" stroke-width="0.85"/>
<line x1="55.8" y1="455.5" x2="59.4" y2="455.5" stroke="#3cb44b" stroke-width="0.85"/>
<line x1="75.4" y1="450.3" x2="75.4" y2="463.1" stroke="#3cb44b" stroke-width="0.85"/>
<line x1="73.6" y1="450.3" x2="77.2" y2="450.3" stroke="#3cb44b" stroke-width="0.85"/>
<line x1="73.6" y1="463.1" x2="77.2" y2="463.1" stroke="#3cb44b" stroke-width="0.85"/>
<line x1="93.6" y1="453.2" x2="93.6" y2="465.3" stroke="#3cb44b" stroke-width="0.85"/>
<line x1="91.8" y1="453.2" x2="95.4" y2="453.2" stroke="#3cb44b" stroke-width="0.85"/>
<line x1="91.8" y1="465.3" x2="95.4" y2="465.3" stroke="#3cb44b" stroke-width="0.85"/>
<rect x="38.4" y="448.7" width="3.2" height="3.2" fill="#3cb44b" stroke="none" stroke-width="0"/>
<circle cx="57.6" cy="445.8" r="1.65" fill="#3cb44b"/>
<circle cx="75.4" cy="456.7" r="1.65" fill="#3cb44b"/>
<circle cx="93.6" cy="459.3" r="1.65" fill="#3cb44b"/>
<polyline points="40,470 57.6,469.7 75.4,474 93.6,474.8" fill="none" stroke="#c8102e" stroke-width="1.55" stroke-linejoin="round"/>
<line x1="40" y1="465.3" x2="40" y2="473.1" stroke="#c8102e" stroke-width="0.85"/>
<line x1="38.2" y1="465.3" x2="41.8" y2="465.3" stroke="#c8102e" stroke-width="0.85"/>
<line x1="38.2" y1="473.1" x2="41.8" y2="473.1" stroke="#c8102e" stroke-width="0.85"/>
<line x1="57.6" y1="464.8" x2="57.6" y2="473.1" stroke="#c8102e" stroke-width="0.85"/>
<line x1="55.8" y1="464.8" x2="59.4" y2="464.8" stroke="#c8102e" stroke-width="0.85"/>
<line x1="55.8" y1="473.1" x2="59.4" y2="473.1" stroke="#c8102e" stroke-width="0.85"/>
<line x1="75.4" y1="470.5" x2="75.4" y2="476.6" stroke="#c8102e" stroke-width="0.85"/>
<line x1="73.6" y1="470.5" x2="77.2" y2="470.5" stroke="#c8102e" stroke-width="0.85"/>
<line x1="73.6" y1="476.6" x2="77.2" y2="476.6" stroke="#c8102e" stroke-width="0.85"/>
<line x1="93.6" y1="472.2" x2="93.6" y2="476.6" stroke="#c8102e" stroke-width="0.85"/>
<line x1="91.8" y1="472.2" x2="95.4" y2="472.2" stroke="#c8102e" stroke-width="0.85"/>
<line x1="91.8" y1="476.6" x2="95.4" y2="476.6" stroke="#c8102e" stroke-width="0.85"/>
<rect x="38.4" y="468.4" width="3.2" height="3.2" fill="#c8102e" stroke="none" stroke-width="0"/>
<circle cx="57.6" cy="469.7" r="1.65" fill="#c8102e"/>
<circle cx="75.4" cy="474" r="1.65" fill="#c8102e"/>
<circle cx="93.6" cy="474.8" r="1.65" fill="#c8102e"/>
<text x="40" y="436.22" font-size="5.6" text-anchor="middle" textLength="3.1" lengthAdjust="spacingAndGlyphs" fill="#231f20" font-style="italic">#</text>
<text x="40" y="443.24" font-size="6.4" text-anchor="middle" textLength="5.3" lengthAdjust="spacingAndGlyphs" fill="#231f20" style="stroke-width:0">**</text>
<text x="57.6" y="430.52" font-size="5.6" text-anchor="middle" textLength="6.2" lengthAdjust="spacingAndGlyphs" fill="#231f20" font-style="italic">##</text>
<text x="57.6" y="437.54" font-size="6.4" text-anchor="middle" textLength="7.95" lengthAdjust="spacingAndGlyphs" fill="#231f20" style="stroke-width:0">***</text>
<text x="75.4" y="442.22" font-size="5.6" text-anchor="middle" textLength="3.1" lengthAdjust="spacingAndGlyphs" fill="#231f20" font-style="italic">#</text>
<text x="75.4" y="449.64" font-size="6.4" text-anchor="middle" textLength="2.65" lengthAdjust="spacingAndGlyphs" fill="#231f20" style="stroke-width:0">*</text>
<text x="93.6" y="452.34" font-size="6.4" text-anchor="middle" textLength="2.65" lengthAdjust="spacingAndGlyphs" fill="#231f20" style="stroke-width:0">*</text>
<text x="63.7" y="415.3" font-size="9.79" text-anchor="middle" textLength="20.5" lengthAdjust="spacingAndGlyphs" fill="#231f20">Total</text>
<line x1="117.4" y1="420.9" x2="117.4" y2="477.8" stroke="#222" stroke-width="1.25"/>
<line x1="116.8" y1="477.2" x2="178.8" y2="477.2" stroke="#222" stroke-width="1.25"/>
<line x1="114.4" y1="421.2" x2="117.4" y2="421.2" stroke="#222" stroke-width="1"/>
<text x="112" y="423.8" font-size="9.55" text-anchor="end" textLength="9.4" lengthAdjust="spacingAndGlyphs" fill="#231f20">20</text>
<line x1="114.4" y1="435.2" x2="117.4" y2="435.2" stroke="#222" stroke-width="1"/>
<text x="112" y="437.8" font-size="9.55" text-anchor="end" textLength="9.4" lengthAdjust="spacingAndGlyphs" fill="#231f20">15</text>
<line x1="114.4" y1="449.2" x2="117.4" y2="449.2" stroke="#222" stroke-width="1"/>
<text x="112" y="451.8" font-size="9.55" text-anchor="end" textLength="9.4" lengthAdjust="spacingAndGlyphs" fill="#231f20">10</text>
<line x1="114.4" y1="463.2" x2="117.4" y2="463.2" stroke="#222" stroke-width="1"/>
<text x="112" y="465.8" font-size="9.55" text-anchor="end" textLength="4.7" lengthAdjust="spacingAndGlyphs" fill="#231f20">5</text>
<line x1="114.4" y1="477.2" x2="117.4" y2="477.2" stroke="#222" stroke-width="1"/>
<text x="112" y="479.8" font-size="9.55" text-anchor="end" textLength="4.7" lengthAdjust="spacingAndGlyphs" fill="#231f20">0</text>
<line x1="121.3" y1="477.2" x2="121.3" y2="479.8" stroke="#222" stroke-width="1"/>
<text x="121.3" y="489.9" font-size="9.24" text-anchor="middle" textLength="4.28" lengthAdjust="spacingAndGlyphs" fill="#231f20">4</text>
<line x1="139.5" y1="477.2" x2="139.5" y2="479.8" stroke="#222" stroke-width="1"/>
<text x="139.5" y="489.9" font-size="9.24" text-anchor="middle" textLength="4.28" lengthAdjust="spacingAndGlyphs" fill="#231f20">8</text>
<line x1="157.3" y1="477.2" x2="157.3" y2="479.8" stroke="#222" stroke-width="1"/>
<text x="157.3" y="489.9" font-size="9.24" text-anchor="middle" textLength="8.56" lengthAdjust="spacingAndGlyphs" fill="#231f20">12</text>
<line x1="175" y1="477.2" x2="175" y2="479.8" stroke="#222" stroke-width="1"/>
<text x="175" y="489.9" font-size="9.24" text-anchor="middle" textLength="8.56" lengthAdjust="spacingAndGlyphs" fill="#231f20">16</text>
<polyline points="121.3,475.7 139.5,476.4 157.3,476.5 175,476.7" fill="none" stroke="#1c4f8c" stroke-width="1.55" stroke-linejoin="round"/>
<line x1="121.3" y1="473.8" x2="121.3" y2="477.2" stroke="#1c4f8c" stroke-width="0.85"/>
<line x1="119.5" y1="473.8" x2="123.1" y2="473.8" stroke="#1c4f8c" stroke-width="0.85"/>
<line x1="119.5" y1="477.2" x2="123.1" y2="477.2" stroke="#1c4f8c" stroke-width="0.85"/>
<path d="M121.3,473.8 l1.9,1.9 l-1.9,1.9 l-1.9,-1.9 Z" fill="#1c4f8c" stroke="none" stroke-width="1"/>
<path d="M139.5,474.5 l1.9,1.9 l-1.9,1.9 l-1.9,-1.9 Z" fill="#1c4f8c" stroke="none" stroke-width="1"/>
<path d="M157.3,474.6 l1.9,1.9 l-1.9,1.9 l-1.9,-1.9 Z" fill="#1c4f8c" stroke="none" stroke-width="1"/>
<path d="M175,474.8 l1.9,1.9 l-1.9,1.9 l-1.9,-1.9 Z" fill="#1c4f8c" stroke="none" stroke-width="1"/>
<polyline points="121.3,448 139.5,452.3 157.3,460.7 175,461.9" fill="none" stroke="#3cb44b" stroke-width="1.55" stroke-linejoin="round"/>
<line x1="121.3" y1="440.2" x2="121.3" y2="455.5" stroke="#3cb44b" stroke-width="0.85"/>
<line x1="119.5" y1="440.2" x2="123.1" y2="440.2" stroke="#3cb44b" stroke-width="0.85"/>
<line x1="119.5" y1="455.5" x2="123.1" y2="455.5" stroke="#3cb44b" stroke-width="0.85"/>
<line x1="139.5" y1="443.3" x2="139.5" y2="460.1" stroke="#3cb44b" stroke-width="0.85"/>
<line x1="137.7" y1="443.3" x2="141.3" y2="443.3" stroke="#3cb44b" stroke-width="0.85"/>
<line x1="137.7" y1="460.1" x2="141.3" y2="460.1" stroke="#3cb44b" stroke-width="0.85"/>
<line x1="157.3" y1="455" x2="157.3" y2="466.2" stroke="#3cb44b" stroke-width="0.85"/>
<line x1="155.5" y1="455" x2="159.1" y2="455" stroke="#3cb44b" stroke-width="0.85"/>
<line x1="155.5" y1="466.2" x2="159.1" y2="466.2" stroke="#3cb44b" stroke-width="0.85"/>
<line x1="175" y1="456.3" x2="175" y2="467.1" stroke="#3cb44b" stroke-width="0.85"/>
<line x1="173.2" y1="456.3" x2="176.8" y2="456.3" stroke="#3cb44b" stroke-width="0.85"/>
<line x1="173.2" y1="467.1" x2="176.8" y2="467.1" stroke="#3cb44b" stroke-width="0.85"/>
<rect x="119.7" y="446.4" width="3.2" height="3.2" fill="#3cb44b" stroke="none" stroke-width="0"/>
<circle cx="139.5" cy="452.3" r="1.65" fill="#3cb44b"/>
<circle cx="157.3" cy="460.7" r="1.65" fill="#3cb44b"/>
<circle cx="175" cy="461.9" r="1.65" fill="#3cb44b"/>
<polyline points="121.3,470 139.5,471.7 157.3,474 175,475.2" fill="none" stroke="#c8102e" stroke-width="1.55" stroke-linejoin="round"/>
<line x1="121.3" y1="465" x2="121.3" y2="473.1" stroke="#c8102e" stroke-width="0.85"/>
<line x1="119.5" y1="465" x2="123.1" y2="465" stroke="#c8102e" stroke-width="0.85"/>
<line x1="119.5" y1="473.1" x2="123.1" y2="473.1" stroke="#c8102e" stroke-width="0.85"/>
<line x1="139.5" y1="467.9" x2="139.5" y2="474" stroke="#c8102e" stroke-width="0.85"/>
<line x1="137.7" y1="467.9" x2="141.3" y2="467.9" stroke="#c8102e" stroke-width="0.85"/>
<line x1="137.7" y1="474" x2="141.3" y2="474" stroke="#c8102e" stroke-width="0.85"/>
<line x1="157.3" y1="472.4" x2="157.3" y2="475.6" stroke="#c8102e" stroke-width="0.85"/>
<line x1="155.5" y1="472.4" x2="159.1" y2="472.4" stroke="#c8102e" stroke-width="0.85"/>
<line x1="155.5" y1="475.6" x2="159.1" y2="475.6" stroke="#c8102e" stroke-width="0.85"/>
<line x1="175" y1="473.6" x2="175" y2="476.6" stroke="#c8102e" stroke-width="0.85"/>
<line x1="173.2" y1="473.6" x2="176.8" y2="473.6" stroke="#c8102e" stroke-width="0.85"/>
<line x1="173.2" y1="476.6" x2="176.8" y2="476.6" stroke="#c8102e" stroke-width="0.85"/>
<rect x="119.7" y="468.4" width="3.2" height="3.2" fill="#c8102e" stroke="none" stroke-width="0"/>
<circle cx="139.5" cy="471.7" r="1.65" fill="#c8102e"/>
<circle cx="157.3" cy="474" r="1.65" fill="#c8102e"/>
<circle cx="175" cy="475.2" r="1.65" fill="#c8102e"/>
<text x="121.3" y="434.42" font-size="5.6" text-anchor="middle" textLength="6.2" lengthAdjust="spacingAndGlyphs" fill="#231f20" font-style="italic">##</text>
<text x="121.3" y="441.44" font-size="6.4" text-anchor="middle" textLength="10.6" lengthAdjust="spacingAndGlyphs" fill="#231f20" style="stroke-width:0">****</text>
<text x="139.5" y="436.52" font-size="5.6" text-anchor="middle" textLength="6.2" lengthAdjust="spacingAndGlyphs" fill="#231f20" font-style="italic">##</text>
<text x="139.5" y="443.54" font-size="6.4" text-anchor="middle" textLength="7.95" lengthAdjust="spacingAndGlyphs" fill="#231f20" style="stroke-width:0">***</text>
<text x="157.3" y="453.54" font-size="6.4" text-anchor="middle" textLength="2.65" lengthAdjust="spacingAndGlyphs" fill="#231f20" style="stroke-width:0">*</text>
<text x="175" y="455.34" font-size="6.4" text-anchor="middle" textLength="2.65" lengthAdjust="spacingAndGlyphs" fill="#231f20" style="stroke-width:0">*</text>
<text x="146" y="415.3" font-size="9.79" text-anchor="middle" textLength="27" lengthAdjust="spacingAndGlyphs" fill="#231f20">B cells</text>
<line x1="198.4" y1="420.4" x2="198.4" y2="478.6" stroke="#222" stroke-width="1.25"/>
<line x1="197.8" y1="478" x2="260.5" y2="478" stroke="#222" stroke-width="1.25"/>
<line x1="195.4" y1="420.7" x2="198.4" y2="420.7" stroke="#222" stroke-width="1"/>
<text x="193" y="423.3" font-size="9.55" text-anchor="end" textLength="9.4" lengthAdjust="spacingAndGlyphs" fill="#231f20">30</text>
<line x1="195.4" y1="439.8" x2="198.4" y2="439.8" stroke="#222" stroke-width="1"/>
<text x="193" y="442.4" font-size="9.55" text-anchor="end" textLength="9.4" lengthAdjust="spacingAndGlyphs" fill="#231f20">20</text>
<line x1="195.4" y1="458.9" x2="198.4" y2="458.9" stroke="#222" stroke-width="1"/>
<text x="193" y="461.5" font-size="9.55" text-anchor="end" textLength="9.4" lengthAdjust="spacingAndGlyphs" fill="#231f20">10</text>
<line x1="195.4" y1="478" x2="198.4" y2="478" stroke="#222" stroke-width="1"/>
<text x="193" y="480.6" font-size="9.55" text-anchor="end" textLength="4.7" lengthAdjust="spacingAndGlyphs" fill="#231f20">0</text>
<line x1="202.6" y1="478" x2="202.6" y2="480.6" stroke="#222" stroke-width="1"/>
<text x="202.6" y="489.9" font-size="9.24" text-anchor="middle" textLength="4.28" lengthAdjust="spacingAndGlyphs" fill="#231f20">4</text>
<line x1="220.9" y1="478" x2="220.9" y2="480.6" stroke="#222" stroke-width="1"/>
<text x="220.9" y="489.9" font-size="9.24" text-anchor="middle" textLength="4.28" lengthAdjust="spacingAndGlyphs" fill="#231f20">8</text>
<line x1="238.9" y1="478" x2="238.9" y2="480.6" stroke="#222" stroke-width="1"/>
<text x="238.9" y="489.9" font-size="9.24" text-anchor="middle" textLength="8.56" lengthAdjust="spacingAndGlyphs" fill="#231f20">12</text>
<line x1="257.3" y1="478" x2="257.3" y2="480.6" stroke="#222" stroke-width="1"/>
<text x="257.3" y="489.9" font-size="9.24" text-anchor="middle" textLength="8.56" lengthAdjust="spacingAndGlyphs" fill="#231f20">16</text>
<polyline points="202.6,474 220.9,474 238.9,475.7 257.3,475.7" fill="none" stroke="#1c4f8c" stroke-width="1.55" stroke-linejoin="round"/>
<line x1="202.6" y1="470" x2="202.6" y2="476.6" stroke="#1c4f8c" stroke-width="0.85"/>
<line x1="200.8" y1="470" x2="204.4" y2="470" stroke="#1c4f8c" stroke-width="0.85"/>
<line x1="200.8" y1="476.6" x2="204.4" y2="476.6" stroke="#1c4f8c" stroke-width="0.85"/>
<line x1="220.9" y1="472.3" x2="220.9" y2="476" stroke="#1c4f8c" stroke-width="0.85"/>
<line x1="219.1" y1="472.3" x2="222.7" y2="472.3" stroke="#1c4f8c" stroke-width="0.85"/>
<line x1="219.1" y1="476" x2="222.7" y2="476" stroke="#1c4f8c" stroke-width="0.85"/>
<path d="M202.6,472.1 l1.9,1.9 l-1.9,1.9 l-1.9,-1.9 Z" fill="#1c4f8c" stroke="none" stroke-width="1"/>
<path d="M220.9,472.1 l1.9,1.9 l-1.9,1.9 l-1.9,-1.9 Z" fill="#1c4f8c" stroke="none" stroke-width="1"/>
<path d="M238.9,473.8 l1.9,1.9 l-1.9,1.9 l-1.9,-1.9 Z" fill="#1c4f8c" stroke="none" stroke-width="1"/>
<path d="M257.3,473.8 l1.9,1.9 l-1.9,1.9 l-1.9,-1.9 Z" fill="#1c4f8c" stroke="none" stroke-width="1"/>
<polyline points="202.6,462.7 220.9,445.4 238.9,457.9 257.3,459.6" fill="none" stroke="#3cb44b" stroke-width="1.55" stroke-linejoin="round"/>
<line x1="202.6" y1="456.7" x2="202.6" y2="468.3" stroke="#3cb44b" stroke-width="0.85"/>
<line x1="200.8" y1="456.7" x2="204.4" y2="456.7" stroke="#3cb44b" stroke-width="0.85"/>
<line x1="200.8" y1="468.3" x2="204.4" y2="468.3" stroke="#3cb44b" stroke-width="0.85"/>
<line x1="220.9" y1="435.4" x2="220.9" y2="455" stroke="#3cb44b" stroke-width="0.85"/>
<line x1="219.1" y1="435.4" x2="222.7" y2="435.4" stroke="#3cb44b" stroke-width="0.85"/>
<line x1="219.1" y1="455" x2="222.7" y2="455" stroke="#3cb44b" stroke-width="0.85"/>
<line x1="238.9" y1="451.5" x2="238.9" y2="464.1" stroke="#3cb44b" stroke-width="0.85"/>
<line x1="237.1" y1="451.5" x2="240.7" y2="451.5" stroke="#3cb44b" stroke-width="0.85"/>
<line x1="237.1" y1="464.1" x2="240.7" y2="464.1" stroke="#3cb44b" stroke-width="0.85"/>
<line x1="257.3" y1="454.4" x2="257.3" y2="465.3" stroke="#3cb44b" stroke-width="0.85"/>
<line x1="255.5" y1="454.4" x2="259.1" y2="454.4" stroke="#3cb44b" stroke-width="0.85"/>
<line x1="255.5" y1="465.3" x2="259.1" y2="465.3" stroke="#3cb44b" stroke-width="0.85"/>
<rect x="201" y="461.1" width="3.2" height="3.2" fill="#3cb44b" stroke="none" stroke-width="0"/>
<circle cx="220.9" cy="445.4" r="1.65" fill="#3cb44b"/>
<circle cx="238.9" cy="457.9" r="1.65" fill="#3cb44b"/>
<circle cx="257.3" cy="459.6" r="1.65" fill="#3cb44b"/>
<polyline points="202.6,473.1 220.9,469.3 238.9,473.1 257.3,475.2" fill="none" stroke="#c8102e" stroke-width="1.55" stroke-linejoin="round"/>
<line x1="202.6" y1="471" x2="202.6" y2="475.5" stroke="#c8102e" stroke-width="0.85"/>
<line x1="200.8" y1="471" x2="204.4" y2="471" stroke="#c8102e" stroke-width="0.85"/>
<line x1="200.8" y1="475.5" x2="204.4" y2="475.5" stroke="#c8102e" stroke-width="0.85"/>
<line x1="220.9" y1="464.5" x2="220.9" y2="471.7" stroke="#c8102e" stroke-width="0.85"/>
<line x1="219.1" y1="464.5" x2="222.7" y2="464.5" stroke="#c8102e" stroke-width="0.85"/>
<line x1="219.1" y1="471.7" x2="222.7" y2="471.7" stroke="#c8102e" stroke-width="0.85"/>
<line x1="238.9" y1="469.7" x2="238.9" y2="474.8" stroke="#c8102e" stroke-width="0.85"/>
<line x1="237.1" y1="469.7" x2="240.7" y2="469.7" stroke="#c8102e" stroke-width="0.85"/>
<line x1="237.1" y1="474.8" x2="240.7" y2="474.8" stroke="#c8102e" stroke-width="0.85"/>
<line x1="257.3" y1="473.8" x2="257.3" y2="476.6" stroke="#c8102e" stroke-width="0.85"/>
<line x1="255.5" y1="473.8" x2="259.1" y2="473.8" stroke="#c8102e" stroke-width="0.85"/>
<line x1="255.5" y1="476.6" x2="259.1" y2="476.6" stroke="#c8102e" stroke-width="0.85"/>
<rect x="201" y="471.5" width="3.2" height="3.2" fill="#c8102e" stroke="none" stroke-width="0"/>
<circle cx="220.9" cy="469.3" r="1.65" fill="#c8102e"/>
<circle cx="238.9" cy="473.1" r="1.65" fill="#c8102e"/>
<circle cx="257.3" cy="475.2" r="1.65" fill="#c8102e"/>
<text x="220.9" y="428.72" font-size="5.6" text-anchor="middle" textLength="6.2" lengthAdjust="spacingAndGlyphs" fill="#231f20" font-style="italic">##</text>
<text x="220.9" y="435.74" font-size="6.4" text-anchor="middle" textLength="7.95" lengthAdjust="spacingAndGlyphs" fill="#231f20" style="stroke-width:0">***</text>
<text x="238.9" y="449.24" font-size="6.4" text-anchor="middle" textLength="2.65" lengthAdjust="spacingAndGlyphs" fill="#231f20" style="stroke-width:0">*</text>
<text x="257.3" y="453.54" font-size="6.4" text-anchor="middle" textLength="2.65" lengthAdjust="spacingAndGlyphs" fill="#231f20" style="stroke-width:0">*</text>
<text x="228.4" y="415.3" font-size="9.79" text-anchor="middle" textLength="25.8" lengthAdjust="spacingAndGlyphs" fill="#231f20">T cells</text>
<line x1="279.6" y1="419.7" x2="279.6" y2="478" stroke="#222" stroke-width="1.25"/>
<line x1="279" y1="477.4" x2="341.2" y2="477.4" stroke="#222" stroke-width="1.25"/>
<line x1="276.6" y1="420" x2="279.6" y2="420" stroke="#222" stroke-width="1"/>
<text x="274.2" y="422.6" font-size="9.55" text-anchor="end" textLength="9.4" lengthAdjust="spacingAndGlyphs" fill="#231f20">20</text>
<line x1="276.6" y1="434.35" x2="279.6" y2="434.35" stroke="#222" stroke-width="1"/>
<text x="274.2" y="436.95" font-size="9.55" text-anchor="end" textLength="9.4" lengthAdjust="spacingAndGlyphs" fill="#231f20">15</text>
<line x1="276.6" y1="448.7" x2="279.6" y2="448.7" stroke="#222" stroke-width="1"/>
<text x="274.2" y="451.3" font-size="9.55" text-anchor="end" textLength="9.4" lengthAdjust="spacingAndGlyphs" fill="#231f20">10</text>
<line x1="276.6" y1="463.05" x2="279.6" y2="463.05" stroke="#222" stroke-width="1"/>
<text x="274.2" y="465.65" font-size="9.55" text-anchor="end" textLength="4.7" lengthAdjust="spacingAndGlyphs" fill="#231f20">5</text>
<line x1="276.6" y1="477.4" x2="279.6" y2="477.4" stroke="#222" stroke-width="1"/>
<text x="274.2" y="480" font-size="9.55" text-anchor="end" textLength="4.7" lengthAdjust="spacingAndGlyphs" fill="#231f20">0</text>
<line x1="284.2" y1="477.4" x2="284.2" y2="480" stroke="#222" stroke-width="1"/>
<text x="284.2" y="489.9" font-size="9.24" text-anchor="middle" textLength="4.28" lengthAdjust="spacingAndGlyphs" fill="#231f20">4</text>
<line x1="302.4" y1="477.4" x2="302.4" y2="480" stroke="#222" stroke-width="1"/>
<text x="302.4" y="489.9" font-size="9.24" text-anchor="middle" textLength="4.28" lengthAdjust="spacingAndGlyphs" fill="#231f20">8</text>
<line x1="320.6" y1="477.4" x2="320.6" y2="480" stroke="#222" stroke-width="1"/>
<text x="320.6" y="489.9" font-size="9.24" text-anchor="middle" textLength="8.56" lengthAdjust="spacingAndGlyphs" fill="#231f20">12</text>
<line x1="338.7" y1="477.4" x2="338.7" y2="480" stroke="#222" stroke-width="1"/>
<text x="338.7" y="489.9" font-size="9.24" text-anchor="middle" textLength="8.56" lengthAdjust="spacingAndGlyphs" fill="#231f20">16</text>
<polyline points="284.2,474 302.4,471.4 320.6,474 338.7,474" fill="none" stroke="#1c4f8c" stroke-width="1.55" stroke-linejoin="round"/>
<line x1="284.2" y1="472" x2="284.2" y2="476" stroke="#1c4f8c" stroke-width="0.85"/>
<line x1="282.4" y1="472" x2="286" y2="472" stroke="#1c4f8c" stroke-width="0.85"/>
<line x1="282.4" y1="476" x2="286" y2="476" stroke="#1c4f8c" stroke-width="0.85"/>
<line x1="302.4" y1="469.7" x2="302.4" y2="474.8" stroke="#1c4f8c" stroke-width="0.85"/>
<line x1="300.6" y1="469.7" x2="304.2" y2="469.7" stroke="#1c4f8c" stroke-width="0.85"/>
<line x1="300.6" y1="474.8" x2="304.2" y2="474.8" stroke="#1c4f8c" stroke-width="0.85"/>
<line x1="320.6" y1="472.3" x2="320.6" y2="475.8" stroke="#1c4f8c" stroke-width="0.85"/>
<line x1="318.8" y1="472.3" x2="322.4" y2="472.3" stroke="#1c4f8c" stroke-width="0.85"/>
<line x1="318.8" y1="475.8" x2="322.4" y2="475.8" stroke="#1c4f8c" stroke-width="0.85"/>
<line x1="338.7" y1="472.3" x2="338.7" y2="475.8" stroke="#1c4f8c" stroke-width="0.85"/>
<line x1="336.9" y1="472.3" x2="340.5" y2="472.3" stroke="#1c4f8c" stroke-width="0.85"/>
<line x1="336.9" y1="475.8" x2="340.5" y2="475.8" stroke="#1c4f8c" stroke-width="0.85"/>
<path d="M284.2,472.1 l1.9,1.9 l-1.9,1.9 l-1.9,-1.9 Z" fill="#1c4f8c" stroke="none" stroke-width="1"/>
<path d="M302.4,469.5 l1.9,1.9 l-1.9,1.9 l-1.9,-1.9 Z" fill="#1c4f8c" stroke="none" stroke-width="1"/>
<path d="M320.6,472.1 l1.9,1.9 l-1.9,1.9 l-1.9,-1.9 Z" fill="#1c4f8c" stroke="none" stroke-width="1"/>
<path d="M338.7,472.1 l1.9,1.9 l-1.9,1.9 l-1.9,-1.9 Z" fill="#1c4f8c" stroke="none" stroke-width="1"/>
<polyline points="284.2,442.8 302.4,439 320.6,445.1 338.7,443.7" fill="none" stroke="#3cb44b" stroke-width="1.55" stroke-linejoin="round"/>
<line x1="284.2" y1="436.4" x2="284.2" y2="448.9" stroke="#3cb44b" stroke-width="0.85"/>
<line x1="282.4" y1="436.4" x2="286" y2="436.4" stroke="#3cb44b" stroke-width="0.85"/>
<line x1="282.4" y1="448.9" x2="286" y2="448.9" stroke="#3cb44b" stroke-width="0.85"/>
<line x1="302.4" y1="430.2" x2="302.4" y2="448.5" stroke="#3cb44b" stroke-width="0.85"/>
<line x1="300.6" y1="430.2" x2="304.2" y2="430.2" stroke="#3cb44b" stroke-width="0.85"/>
<line x1="300.6" y1="448.5" x2="304.2" y2="448.5" stroke="#3cb44b" stroke-width="0.85"/>
<line x1="320.6" y1="437.6" x2="320.6" y2="452.3" stroke="#3cb44b" stroke-width="0.85"/>
<line x1="318.8" y1="437.6" x2="322.4" y2="437.6" stroke="#3cb44b" stroke-width="0.85"/>
<line x1="318.8" y1="452.3" x2="322.4" y2="452.3" stroke="#3cb44b" stroke-width="0.85"/>
<line x1="338.7" y1="435.9" x2="338.7" y2="452.3" stroke="#3cb44b" stroke-width="0.85"/>
<line x1="336.9" y1="435.9" x2="340.5" y2="435.9" stroke="#3cb44b" stroke-width="0.85"/>
<line x1="336.9" y1="452.3" x2="340.5" y2="452.3" stroke="#3cb44b" stroke-width="0.85"/>
<rect x="282.6" y="441.2" width="3.2" height="3.2" fill="#3cb44b" stroke="none" stroke-width="0"/>
<circle cx="302.4" cy="439" r="1.65" fill="#3cb44b"/>
<circle cx="320.6" cy="445.1" r="1.65" fill="#3cb44b"/>
<circle cx="338.7" cy="443.7" r="1.65" fill="#3cb44b"/>
<polyline points="284.2,467.4 302.4,467.6 320.6,471.7 338.7,471" fill="none" stroke="#c8102e" stroke-width="1.55" stroke-linejoin="round"/>
<line x1="284.2" y1="462.7" x2="284.2" y2="472.2" stroke="#c8102e" stroke-width="0.85"/>
<line x1="282.4" y1="462.7" x2="286" y2="462.7" stroke="#c8102e" stroke-width="0.85"/>
<line x1="282.4" y1="472.2" x2="286" y2="472.2" stroke="#c8102e" stroke-width="0.85"/>
<line x1="302.4" y1="463.1" x2="302.4" y2="472.2" stroke="#c8102e" stroke-width="0.85"/>
<line x1="300.6" y1="463.1" x2="304.2" y2="463.1" stroke="#c8102e" stroke-width="0.85"/>
<line x1="300.6" y1="472.2" x2="304.2" y2="472.2" stroke="#c8102e" stroke-width="0.85"/>
<line x1="320.6" y1="468.3" x2="320.6" y2="474.8" stroke="#c8102e" stroke-width="0.85"/>
<line x1="318.8" y1="468.3" x2="322.4" y2="468.3" stroke="#c8102e" stroke-width="0.85"/>
<line x1="318.8" y1="474.8" x2="322.4" y2="474.8" stroke="#c8102e" stroke-width="0.85"/>
<line x1="338.7" y1="467.1" x2="338.7" y2="474.5" stroke="#c8102e" stroke-width="0.85"/>
<line x1="336.9" y1="467.1" x2="340.5" y2="467.1" stroke="#c8102e" stroke-width="0.85"/>
<line x1="336.9" y1="474.5" x2="340.5" y2="474.5" stroke="#c8102e" stroke-width="0.85"/>
<rect x="282.6" y="465.8" width="3.2" height="3.2" fill="#c8102e" stroke="none" stroke-width="0"/>
<circle cx="302.4" cy="467.6" r="1.65" fill="#c8102e"/>
<circle cx="320.6" cy="471.7" r="1.65" fill="#c8102e"/>
<circle cx="338.7" cy="471" r="1.65" fill="#c8102e"/>
<text x="284.2" y="430.52" font-size="5.6" text-anchor="middle" textLength="6.2" lengthAdjust="spacingAndGlyphs" fill="#231f20" font-style="italic">##</text>
<text x="284.2" y="437.54" font-size="6.4" text-anchor="middle" textLength="7.95" lengthAdjust="spacingAndGlyphs" fill="#231f20" style="stroke-width:0">***</text>
<text x="302.4" y="423.22" font-size="5.6" text-anchor="middle" textLength="6.2" lengthAdjust="spacingAndGlyphs" fill="#231f20" font-style="italic">##</text>
<text x="302.4" y="430.54" font-size="6.4" text-anchor="middle" textLength="7.95" lengthAdjust="spacingAndGlyphs" fill="#231f20" style="stroke-width:0">***</text>
<text x="320.6" y="430.52" font-size="5.6" text-anchor="middle" textLength="6.2" lengthAdjust="spacingAndGlyphs" fill="#231f20" font-style="italic">##</text>
<text x="320.6" y="437.54" font-size="6.4" text-anchor="middle" textLength="7.95" lengthAdjust="spacingAndGlyphs" fill="#231f20" style="stroke-width:0">***</text>
<text x="338.7" y="428.72" font-size="5.6" text-anchor="middle" textLength="6.2" lengthAdjust="spacingAndGlyphs" fill="#231f20" font-style="italic">##</text>
<text x="338.7" y="435.74" font-size="6.4" text-anchor="middle" textLength="7.95" lengthAdjust="spacingAndGlyphs" fill="#231f20" style="stroke-width:0">***</text>
<text x="309.4" y="415.3" font-size="9.79" text-anchor="middle" textLength="55.3" lengthAdjust="spacingAndGlyphs" fill="#231f20">Myeloid cells</text>
<text x="19.4" y="500.8" font-size="9.94" textLength="73.8" lengthAdjust="spacingAndGlyphs" fill="#231f20">Weeks after transplant</text>
<text x="15" y="450.3" font-size="9.5" text-anchor="middle" textLength="27.2" lengthAdjust="spacingAndGlyphs" transform="rotate(-90 15 450.3)" fill="#231f20">% donor</text>
<line x1="97.7" y1="498.4" x2="333" y2="498.4" stroke="#111" stroke-width="1.25"/>
<path d="M331.6,495.6 L342.7,498.4 L331.6,501.2 Z" fill="#111" stroke="none" stroke-width="1"/>
<circle cx="85.6" cy="395.9" r="2.6" fill="#c8102e"/>
<text x="91.8" y="398.4" font-size="7.2" textLength="22.8" lengthAdjust="spacingAndGlyphs" fill="#231f20">34<tspan font-size="4.46" dy="-3.46">&#8211;</tspan><tspan dy="3.46">KSL</tspan></text>
<circle cx="126.9" cy="395.9" r="2.6" fill="#1c4f8c"/>
<text x="132.6" y="398.4" font-size="7.2" textLength="38.6" lengthAdjust="spacingAndGlyphs" fill="#231f20">Sdc2<tspan font-size="4.4" dy="-3.5">&#8211;</tspan><tspan dy="3.5"> HSCs</tspan></text>
<circle cx="186.9" cy="395.9" r="2.6" fill="#3cb44b"/>
<text x="192.5" y="398.4" font-size="7.2" textLength="39.5" lengthAdjust="spacingAndGlyphs" fill="#231f20">Sdc2<tspan font-size="4.4" dy="-2.8">+</tspan><tspan dy="2.8"> HSCs</tspan></text>
<line x1="383.3" y1="292" x2="383.3" y2="358.9" stroke="#333" stroke-width="1.3"/>
<line x1="382.7" y1="358.3" x2="425.8" y2="358.3" stroke="#333" stroke-width="1.3"/>
<line x1="380.3" y1="292.4" x2="383.3" y2="292.4" stroke="#222" stroke-width="1"/>
<text x="377.9" y="295" font-size="9.55" text-anchor="end" textLength="9.4" lengthAdjust="spacingAndGlyphs" fill="#231f20">60</text>
<line x1="380.3" y1="314.37" x2="383.3" y2="314.37" stroke="#222" stroke-width="1"/>
<text x="377.9" y="316.97" font-size="9.55" text-anchor="end" textLength="9.4" lengthAdjust="spacingAndGlyphs" fill="#231f20">40</text>
<line x1="380.3" y1="336.33" x2="383.3" y2="336.33" stroke="#222" stroke-width="1"/>
<text x="377.9" y="338.93" font-size="9.55" text-anchor="end" textLength="9.4" lengthAdjust="spacingAndGlyphs" fill="#231f20">20</text>
<line x1="380.3" y1="358.3" x2="383.3" y2="358.3" stroke="#222" stroke-width="1"/>
<text x="377.9" y="360.9" font-size="9.55" text-anchor="end" textLength="4.7" lengthAdjust="spacingAndGlyphs" fill="#231f20">0</text>
<line x1="390.1" y1="345.1" x2="390.1" y2="339.8" stroke="#555" stroke-width="0.9"/>
<line x1="387.8" y1="339.8" x2="392.4" y2="339.8" stroke="#555" stroke-width="0.9"/>
<rect x="385.2" y="345.1" width="9.8" height="13.2" fill="#c8102e" stroke="none" stroke-width="0"/>
<line x1="390.1" y1="358.3" x2="390.1" y2="361.1" stroke="#222" stroke-width="1"/>
<line x1="404.05" y1="352.3" x2="404.05" y2="347.7" stroke="#555" stroke-width="0.9"/>
<line x1="401.75" y1="347.7" x2="406.35" y2="347.7" stroke="#555" stroke-width="0.9"/>
<rect x="399.2" y="352.3" width="9.7" height="6" fill="#1c4f8c" stroke="none" stroke-width="0"/>
<line x1="404.05" y1="358.3" x2="404.05" y2="361.1" stroke="#222" stroke-width="1"/>
<line x1="418.65" y1="321.4" x2="418.65" y2="315.5" stroke="#555" stroke-width="0.9"/>
<line x1="416.35" y1="315.5" x2="420.95" y2="315.5" stroke="#555" stroke-width="0.9"/>
<rect x="413.9" y="321.4" width="9.5" height="36.9" fill="#3cb44b" stroke="none" stroke-width="0"/>
<line x1="418.65" y1="358.3" x2="418.65" y2="361.1" stroke="#222" stroke-width="1"/>
<path d="M390.1,335.3 V292.8 H418.65 V297" fill="none" stroke="#444" stroke-width="1.25"/>
<text x="404.3" y="292.46" font-size="7.6" text-anchor="middle" textLength="6.4" lengthAdjust="spacingAndGlyphs" fill="#231f20" style="stroke-width:0.1">**</text>
<path d="M404.05,343.8 V307.3 H418.65 V310.9" fill="none" stroke="#444" stroke-width="1.25"/>
<text x="411.4" y="306.26" font-size="7.6" text-anchor="middle" textLength="9.6" lengthAdjust="spacingAndGlyphs" fill="#231f20" style="stroke-width:0.1">***</text>
<text x="362.8" y="325.3" font-size="10.62" text-anchor="middle" textLength="41.6" lengthAdjust="spacingAndGlyphs" transform="rotate(-90 362.8 325.3)" fill="#231f20">% donor KSL</text>
<line x1="471.6" y1="297.5" x2="471.6" y2="358.9" stroke="#333" stroke-width="1.3"/>
<line x1="471" y1="358.3" x2="512.8" y2="358.3" stroke="#333" stroke-width="1.3"/>
<line x1="468.6" y1="297.9" x2="471.6" y2="297.9" stroke="#222" stroke-width="1"/>
<text x="466.2" y="300.5" font-size="9.55" text-anchor="end" textLength="9.4" lengthAdjust="spacingAndGlyphs" fill="#231f20">60</text>
<line x1="468.6" y1="318.03" x2="471.6" y2="318.03" stroke="#222" stroke-width="1"/>
<text x="466.2" y="320.63" font-size="9.55" text-anchor="end" textLength="9.4" lengthAdjust="spacingAndGlyphs" fill="#231f20">40</text>
<line x1="468.6" y1="338.17" x2="471.6" y2="338.17" stroke="#222" stroke-width="1"/>
<text x="466.2" y="340.77" font-size="9.55" text-anchor="end" textLength="9.4" lengthAdjust="spacingAndGlyphs" fill="#231f20">20</text>
<line x1="468.6" y1="358.3" x2="471.6" y2="358.3" stroke="#222" stroke-width="1"/>
<text x="466.2" y="360.9" font-size="9.55" text-anchor="end" textLength="4.7" lengthAdjust="spacingAndGlyphs" fill="#231f20">0</text>
<line x1="478.05" y1="347.6" x2="478.05" y2="340.3" stroke="#555" stroke-width="0.9"/>
<line x1="475.75" y1="340.3" x2="480.35" y2="340.3" stroke="#555" stroke-width="0.9"/>
<rect x="473.3" y="347.6" width="9.5" height="10.7" fill="#c8102e" stroke="none" stroke-width="0"/>
<line x1="478.05" y1="358.3" x2="478.05" y2="361.1" stroke="#222" stroke-width="1"/>
<line x1="491.85" y1="354.1" x2="491.85" y2="351.5" stroke="#555" stroke-width="0.9"/>
<line x1="489.55" y1="351.5" x2="494.15" y2="351.5" stroke="#555" stroke-width="0.9"/>
<rect x="487.1" y="354.1" width="9.5" height="4.2" fill="#1c4f8c" stroke="none" stroke-width="0"/>
<line x1="491.85" y1="358.3" x2="491.85" y2="361.1" stroke="#222" stroke-width="1"/>
<line x1="506.05" y1="323" x2="506.05" y2="315.7" stroke="#555" stroke-width="0.9"/>
<line x1="503.75" y1="315.7" x2="508.35" y2="315.7" stroke="#555" stroke-width="0.9"/>
<rect x="501.3" y="323" width="9.5" height="35.3" fill="#3cb44b" stroke="none" stroke-width="0"/>
<line x1="506.05" y1="358.3" x2="506.05" y2="361.1" stroke="#222" stroke-width="1"/>
<path d="M478.05,336 V292.8 H506.05 V297" fill="none" stroke="#444" stroke-width="1.25"/>
<text x="492.7" y="292.16" font-size="7.6" text-anchor="middle" textLength="3.2" lengthAdjust="spacingAndGlyphs" fill="#231f20" style="stroke-width:0.1">*</text>
<path d="M491.85,346.3 V306.6 H506.05 V310.3" fill="none" stroke="#444" stroke-width="1.25"/>
<text x="499.2" y="305.46" font-size="7.6" text-anchor="middle" textLength="6.4" lengthAdjust="spacingAndGlyphs" fill="#231f20" style="stroke-width:0.1">**</text>
<text x="441.8" y="325" font-size="10.8" text-anchor="middle" textLength="27.3" lengthAdjust="spacingAndGlyphs" transform="rotate(-90 441.8 325)" fill="#231f20">% donor</text>
<text x="453" y="325.3" font-size="10.8" text-anchor="middle" textLength="61.6" lengthAdjust="spacingAndGlyphs" transform="rotate(-90 453 325.3)" fill="#231f20">CD150<tspan font-size="6.72" dy="-3.6">+</tspan><tspan dy="3.6">CD48</tspan><tspan font-size="6.72" dy="-3.6">&#8211;</tspan><tspan dy="3.6">KSL</tspan></text>
<line x1="408.3" y1="415" x2="408.3" y2="485.2" stroke="#333" stroke-width="1.3"/>
<line x1="407.7" y1="484.6" x2="449.8" y2="484.6" stroke="#333" stroke-width="1.3"/>
<line x1="405.3" y1="415.4" x2="408.3" y2="415.4" stroke="#222" stroke-width="1"/>
<text x="402.9" y="418" font-size="9.55" text-anchor="end" textLength="4.7" lengthAdjust="spacingAndGlyphs" fill="#231f20">5</text>
<line x1="405.3" y1="429.24" x2="408.3" y2="429.24" stroke="#222" stroke-width="1"/>
<text x="402.9" y="431.84" font-size="9.55" text-anchor="end" textLength="4.7" lengthAdjust="spacingAndGlyphs" fill="#231f20">4</text>
<line x1="405.3" y1="443.08" x2="408.3" y2="443.08" stroke="#222" stroke-width="1"/>
<text x="402.9" y="445.68" font-size="9.55" text-anchor="end" textLength="4.7" lengthAdjust="spacingAndGlyphs" fill="#231f20">3</text>
<line x1="405.3" y1="456.92" x2="408.3" y2="456.92" stroke="#222" stroke-width="1"/>
<text x="402.9" y="459.52" font-size="9.55" text-anchor="end" textLength="4.7" lengthAdjust="spacingAndGlyphs" fill="#231f20">2</text>
<line x1="405.3" y1="470.76" x2="408.3" y2="470.76" stroke="#222" stroke-width="1"/>
<text x="402.9" y="473.36" font-size="9.55" text-anchor="end" textLength="4.7" lengthAdjust="spacingAndGlyphs" fill="#231f20">1</text>
<line x1="405.3" y1="484.6" x2="408.3" y2="484.6" stroke="#222" stroke-width="1"/>
<text x="402.9" y="487.2" font-size="9.55" text-anchor="end" textLength="4.7" lengthAdjust="spacingAndGlyphs" fill="#231f20">0</text>
<line x1="415.15" y1="470.4" x2="415.15" y2="455.7" stroke="#555" stroke-width="0.9"/>
<line x1="412.85" y1="455.7" x2="417.45" y2="455.7" stroke="#555" stroke-width="0.9"/>
<rect x="410.3" y="470.4" width="9.7" height="14.2" fill="#c8102e" stroke="none" stroke-width="0"/>
<line x1="415.15" y1="484.6" x2="415.15" y2="487.4" stroke="#222" stroke-width="1"/>
<line x1="429.2" y1="480.6" x2="429.2" y2="477.3" stroke="#555" stroke-width="0.9"/>
<line x1="426.9" y1="477.3" x2="431.5" y2="477.3" stroke="#555" stroke-width="0.9"/>
<rect x="424.2" y="480.6" width="10" height="4" fill="#1c4f8c" stroke="none" stroke-width="0"/>
<line x1="429.2" y1="484.6" x2="429.2" y2="487.4" stroke="#222" stroke-width="1"/>
<line x1="443.5" y1="445.2" x2="443.5" y2="428.4" stroke="#555" stroke-width="0.9"/>
<line x1="441.2" y1="428.4" x2="445.8" y2="428.4" stroke="#555" stroke-width="0.9"/>
<rect x="438.6" y="445.2" width="9.8" height="39.4" fill="#3cb44b" stroke="none" stroke-width="0"/>
<line x1="443.5" y1="484.6" x2="443.5" y2="487.4" stroke="#222" stroke-width="1"/>
<path d="M429.2,473.4 V421 H443.5 V424.9" fill="none" stroke="#444" stroke-width="1.25"/>
<text x="435.6" y="420.06" font-size="7.6" text-anchor="middle" textLength="3.2" lengthAdjust="spacingAndGlyphs" fill="#231f20" style="stroke-width:0.1">*</text>
<text x="380.6" y="451.7" font-size="10.56" text-anchor="middle" textLength="26" lengthAdjust="spacingAndGlyphs" transform="rotate(-90 380.6 451.7)" fill="#231f20">% donor</text>
<text x="390.7" y="451.3" font-size="10.56" text-anchor="middle" textLength="61.4" lengthAdjust="spacingAndGlyphs" transform="rotate(-90 390.7 451.3)" fill="#231f20">CD150<tspan font-size="6.72" dy="-3.6">+</tspan><tspan dy="3.6">CD48</tspan><tspan font-size="6.72" dy="-3.6">&#8211;</tspan><tspan dy="3.6">KSL</tspan></text>
<rect x="460.2" y="415.2" width="6.3" height="5.3" fill="#c8102e" stroke="none" stroke-width="0"/>
<text x="469.7" y="420.5" font-size="7.3" textLength="22.8" lengthAdjust="spacingAndGlyphs" fill="#231f20">34<tspan font-size="4.53" dy="-3.5">&#8211;</tspan><tspan dy="3.5">KSL</tspan></text>
<rect x="460.2" y="425.3" width="6.3" height="5.2" fill="#1c4f8c" stroke="none" stroke-width="0"/>
<text x="469.7" y="430.6" font-size="7.3" textLength="38.6" lengthAdjust="spacingAndGlyphs" fill="#231f20">Sdc2<tspan font-size="4.5" dy="-3.5">&#8211;</tspan><tspan dy="3.5"> HSCs</tspan></text>
<rect x="460.2" y="435.1" width="6.3" height="5.2" fill="#3cb44b" stroke="none" stroke-width="0"/>
<text x="469.7" y="440.6" font-size="7.3" textLength="38.8" lengthAdjust="spacingAndGlyphs" fill="#231f20">Sdc2<tspan font-size="4.5" dy="-2.8">+</tspan><tspan dy="2.8"> HSCs</tspan></text>
<line x1="46.3" y1="545.6" x2="46.3" y2="628.2" stroke="#222" stroke-width="1.3"/>
<line x1="45.7" y1="627.6" x2="178.3" y2="627.6" stroke="#222" stroke-width="1.3"/>
<line x1="43.5" y1="547" x2="46.3" y2="547" stroke="#222" stroke-width="1"/>
<text x="40.5" y="549.6" font-size="9.56" text-anchor="end" textLength="12.76" lengthAdjust="spacingAndGlyphs" fill="#231f20">100</text>
<line x1="43.5" y1="564.1" x2="46.3" y2="564.1" stroke="#222" stroke-width="1"/>
<text x="40.5" y="566.7" font-size="9.56" text-anchor="end" textLength="8.51" lengthAdjust="spacingAndGlyphs" fill="#231f20">37</text>
<line x1="43.5" y1="587.2" x2="46.3" y2="587.2" stroke="#222" stroke-width="1"/>
<text x="40.5" y="589.8" font-size="9.56" text-anchor="end" textLength="8.51" lengthAdjust="spacingAndGlyphs" fill="#231f20">10</text>
<line x1="46.3" y1="627.6" x2="46.3" y2="630.2" stroke="#222" stroke-width="1"/>
<text x="46.3" y="640.2" font-size="9.56" text-anchor="middle" textLength="4.25" lengthAdjust="spacingAndGlyphs" fill="#231f20">0</text>
<line x1="78.9" y1="627.6" x2="78.9" y2="630.2" stroke="#222" stroke-width="1"/>
<text x="78.9" y="640.2" font-size="9.56" text-anchor="middle" textLength="12.76" lengthAdjust="spacingAndGlyphs" fill="#231f20">500</text>
<line x1="112" y1="627.6" x2="112" y2="630.2" stroke="#222" stroke-width="1"/>
<text x="112" y="640.2" font-size="9.56" text-anchor="middle" textLength="17.02" lengthAdjust="spacingAndGlyphs" fill="#231f20">1000</text>
<line x1="145.2" y1="627.6" x2="145.2" y2="630.2" stroke="#222" stroke-width="1"/>
<text x="145.2" y="640.2" font-size="9.56" text-anchor="middle" textLength="17.02" lengthAdjust="spacingAndGlyphs" fill="#231f20">1500</text>
<line x1="176.8" y1="627.6" x2="176.8" y2="630.2" stroke="#222" stroke-width="1"/>
<text x="176.8" y="640.2" font-size="9.56" text-anchor="middle" textLength="17.02" lengthAdjust="spacingAndGlyphs" fill="#231f20">2000</text>
<line x1="46.3" y1="564.1" x2="178.5" y2="564.1" stroke="#8a8a8a" stroke-width="1" stroke-dasharray="3.2 2"/>
<line x1="46.7" y1="547" x2="177.9" y2="578.6" stroke="#1c5b9c" stroke-width="1.3" stroke-dasharray="0.01 2.1" stroke-linecap="round"/>
<line x1="46.7" y1="547" x2="154.8" y2="627.6" stroke="#1c5b9c" stroke-width="1.3" stroke-dasharray="0.01 2.1" stroke-linecap="round"/>
<line x1="46.7" y1="547" x2="177.9" y2="603" stroke="#1c4f8c" stroke-width="1.6"/>
<line x1="46.7" y1="547" x2="73.5" y2="627.6" stroke="#5ccf5c" stroke-width="1.15" stroke-dasharray="0.01 2.1" stroke-linecap="round"/>
<line x1="46.7" y1="547" x2="52.4" y2="627.6" stroke="#662d91" stroke-width="1.3" stroke-dasharray="0.01 2.1" stroke-linecap="round"/>
<line x1="46.7" y1="547" x2="58" y2="627.6" stroke="#3cb44b" stroke-width="1.1" stroke-dasharray="0.01 2.1" stroke-linecap="round"/>
<line x1="46.7" y1="547" x2="56.6" y2="627.6" stroke="#333" stroke-width="1.3"/>
<line x1="46.7" y1="547" x2="64.3" y2="627.6" stroke="#662d91" stroke-width="1.3" stroke-dasharray="0.01 2.1" stroke-linecap="round"/>
<line x1="46.7" y1="547" x2="62.8" y2="627.6" stroke="#3cb44b" stroke-width="1.6"/>
<circle cx="49.7" cy="546.5" r="1.9" fill="#1c4f8c"/>
<circle cx="53.1" cy="556" r="2" fill="#1c4f8c"/>
<circle cx="79.2" cy="558.3" r="2" fill="#1c4f8c"/>
<circle cx="49.6" cy="560.8" r="1.9" fill="#3cb44b"/>
<circle cx="53.4" cy="576.4" r="1.9" fill="#3cb44b"/>
<circle cx="47.1" cy="546.7" r="2.3" fill="#662d91"/>
<circle cx="47.3" cy="556.4" r="2.3" fill="#662d91"/>
<circle cx="49.6" cy="575.2" r="2.1" fill="#662d91"/>
<text x="23.5" y="586.6" font-size="10.62" text-anchor="middle" textLength="36.7" lengthAdjust="spacingAndGlyphs" transform="rotate(-90 23.5 586.6)" fill="#231f20">% negative</text>
<text x="112" y="653.7" font-size="10.8" text-anchor="middle" textLength="30.3" lengthAdjust="spacingAndGlyphs" fill="#231f20">Cell dose</text>
<circle cx="53" cy="668" r="2.3" fill="#662d91"/>
<text x="59.6" y="670.6" font-size="7.3" textLength="62.6" lengthAdjust="spacingAndGlyphs" fill="#231f20">CD150<tspan font-size="4.5" dy="-2.8">+</tspan><tspan dy="2.8"> CD34</tspan><tspan font-size="4.5" dy="-3.5">&#8211;</tspan><tspan dy="3.5">KSL</tspan></text>
<circle cx="53" cy="679.4" r="2.3" fill="#3cb44b"/>
<text x="59.6" y="682" font-size="7.3" textLength="39.5" lengthAdjust="spacingAndGlyphs" fill="#231f20">Sdc2<tspan font-size="4.5" dy="-2.8">+</tspan><tspan dy="2.8"> HSCs</tspan></text>
<circle cx="53" cy="690.4" r="2.3" fill="#1c4f8c"/>
<text x="59.6" y="693" font-size="7.3" textLength="39.5" lengthAdjust="spacingAndGlyphs" fill="#231f20">Sdc2<tspan font-size="4.5" dy="-3.5">&#8211;</tspan><tspan dy="3.5"> HSCs</tspan></text>
<rect x="269.2" y="517.8" width="209.9" height="22.4" fill="#bac0d8" stroke="none" stroke-width="0"/>
<rect x="269.2" y="517.8" width="209.9" height="177.7" fill="none" stroke="#4a4a4a" stroke-width="1.25"/>
<line x1="269.2" y1="540.2" x2="479.1" y2="540.2" stroke="#4a4a4a" stroke-width="1.3"/>
<line x1="337.5" y1="517.8" x2="337.5" y2="695.5" stroke="#4a4a4a" stroke-width="1.2"/>
<line x1="381.5" y1="517.8" x2="381.5" y2="695.5" stroke="#4a4a4a" stroke-width="1.2"/>
<line x1="436.6" y1="517.8" x2="436.6" y2="695.5" stroke="#4a4a4a" stroke-width="1.2"/>
<line x1="269.2" y1="593.9" x2="479.1" y2="593.9" stroke="#4a4a4a" stroke-width="1.2"/>
<line x1="269.2" y1="658.3" x2="479.1" y2="658.3" stroke="#4a4a4a" stroke-width="1.2"/>
<line x1="337.5" y1="551" x2="436.6" y2="551" stroke="#4a4a4a" stroke-width="1.2"/>
<line x1="337.5" y1="561.7" x2="436.6" y2="561.7" stroke="#4a4a4a" stroke-width="1.2"/>
<line x1="337.5" y1="572.5" x2="436.6" y2="572.5" stroke="#4a4a4a" stroke-width="1.2"/>
<line x1="337.5" y1="583.2" x2="436.6" y2="583.2" stroke="#4a4a4a" stroke-width="1.2"/>
<line x1="337.5" y1="604.6" x2="436.6" y2="604.6" stroke="#4a4a4a" stroke-width="1.2"/>
<line x1="337.5" y1="615.4" x2="436.6" y2="615.4" stroke="#4a4a4a" stroke-width="1.2"/>
<line x1="337.5" y1="626.1" x2="436.6" y2="626.1" stroke="#4a4a4a" stroke-width="1.2"/>
<line x1="337.5" y1="636.9" x2="436.6" y2="636.9" stroke="#4a4a4a" stroke-width="1.2"/>
<line x1="337.5" y1="647.6" x2="436.6" y2="647.6" stroke="#4a4a4a" stroke-width="1.2"/>
<line x1="337.5" y1="669" x2="436.6" y2="669" stroke="#4a4a4a" stroke-width="1.2"/>
<line x1="337.5" y1="679.6" x2="436.6" y2="679.6" stroke="#4a4a4a" stroke-width="1.2"/>
<text x="303.3" y="526.6" font-size="8.1" text-anchor="middle" textLength="38" lengthAdjust="spacingAndGlyphs" fill="#231f20" style="stroke-width:0.42px">Donor cell</text>
<text x="303.3" y="535.5" font-size="8.1" text-anchor="middle" textLength="39.2" lengthAdjust="spacingAndGlyphs" fill="#231f20" style="stroke-width:0.42px">population</text>
<text x="359.5" y="531" font-size="8.1" text-anchor="middle" textLength="35" lengthAdjust="spacingAndGlyphs" fill="#231f20" style="stroke-width:0.42px">Cell dose</text>
<text x="409.1" y="526.8" font-size="8.1" text-anchor="middle" textLength="35.2" lengthAdjust="spacingAndGlyphs" fill="#231f20" style="stroke-width:0.42px">Long-term</text>
<text x="409.1" y="535.5" font-size="8.1" text-anchor="middle" textLength="47" lengthAdjust="spacingAndGlyphs" fill="#231f20" style="stroke-width:0.42px">repopulation</text>
<text x="458.6" y="526.8" font-size="8.1" text-anchor="middle" textLength="15.5" lengthAdjust="spacingAndGlyphs" fill="#231f20" style="stroke-width:0.42px">HSC</text>
<text x="458.6" y="535.5" font-size="8.1" text-anchor="middle" textLength="36.3" lengthAdjust="spacingAndGlyphs" fill="#231f20" style="stroke-width:0.42px">frequency</text>
<text x="359.5" y="548" font-size="8.2" text-anchor="middle" fill="#231f20">5</text>
<text x="409.1" y="548" font-size="8.2" text-anchor="middle" fill="#231f20">2/5</text>
<text x="359.5" y="558.75" font-size="8.2" text-anchor="middle" fill="#231f20">10</text>
<text x="409.1" y="558.75" font-size="8.2" text-anchor="middle" fill="#231f20">0/5</text>
<text x="359.5" y="569.5" font-size="8.2" text-anchor="middle" fill="#231f20">25</text>
<text x="409.1" y="569.5" font-size="8.2" text-anchor="middle" fill="#231f20">4/9</text>
<text x="359.5" y="580.25" font-size="8.2" text-anchor="middle" fill="#231f20">50</text>
<text x="409.1" y="580.25" font-size="8.2" text-anchor="middle" fill="#231f20">4/5</text>
<text x="359.5" y="590.95" font-size="8.2" text-anchor="middle" fill="#231f20">100</text>
<text x="409.1" y="590.95" font-size="8.2" text-anchor="middle" fill="#231f20">4/4</text>
<text x="359.5" y="601.65" font-size="8.2" text-anchor="middle" fill="#231f20">5</text>
<text x="409.1" y="601.65" font-size="8.2" text-anchor="middle" fill="#231f20">2/5</text>
<text x="359.5" y="612.4" font-size="8.2" text-anchor="middle" fill="#231f20">10</text>
<text x="409.1" y="612.4" font-size="8.2" text-anchor="middle" fill="#231f20">0/5</text>
<text x="359.5" y="623.15" font-size="8.2" text-anchor="middle" fill="#231f20">25</text>
<text x="409.1" y="623.15" font-size="8.2" text-anchor="middle" fill="#231f20">3/8</text>
<text x="359.5" y="633.9" font-size="8.2" text-anchor="middle" fill="#231f20">50</text>
<text x="409.1" y="633.9" font-size="8.2" text-anchor="middle" fill="#231f20">3/9</text>
<text x="359.5" y="644.65" font-size="8.2" text-anchor="middle" fill="#231f20">100</text>
<text x="409.1" y="644.65" font-size="8.2" text-anchor="middle" fill="#231f20">9/11</text>
<text x="359.5" y="655.35" font-size="8.2" text-anchor="middle" fill="#231f20">500</text>
<text x="409.1" y="655.35" font-size="8.2" text-anchor="middle" fill="#231f20">21/21</text>
<text x="359.5" y="666.05" font-size="8.2" text-anchor="middle" fill="#231f20">50</text>
<text x="409.1" y="666.05" font-size="8.2" text-anchor="middle" fill="#231f20">0/5</text>
<text x="359.5" y="676.7" font-size="8.2" text-anchor="middle" fill="#231f20">100</text>
<text x="409.1" y="676.7" font-size="8.2" text-anchor="middle" fill="#231f20">4/10</text>
<text x="359.5" y="689.95" font-size="8.2" text-anchor="middle" fill="#231f20">500</text>
<text x="409.1" y="689.95" font-size="8.2" text-anchor="middle" fill="#231f20">10/21</text>
<text x="303.3" y="566" font-size="8.2" text-anchor="middle" fill="#231f20">CD150<tspan font-size="4.8" dy="-3">+</tspan><tspan dy="3"></tspan></text>
<text x="303.2" y="575.4" font-size="8.2" text-anchor="middle" textLength="24.6" lengthAdjust="spacingAndGlyphs" fill="#231f20">34<tspan font-size="5.08" dy="-3.94">&#8211;</tspan><tspan dy="3.94">KSL</tspan></text>
<text x="303.3" y="626.4" font-size="8.2" text-anchor="middle" fill="#231f20">Sdc2<tspan font-size="4.8" dy="-3">+</tspan><tspan dy="3"></tspan></text>
<text x="303.3" y="635.8" font-size="8.2" text-anchor="middle" fill="#231f20">HSCs</text>
<text x="303.3" y="676.5" font-size="8.2" text-anchor="middle" fill="#231f20">Sdc2<tspan font-size="4.8" dy="-3">&#8211;</tspan><tspan dy="3"></tspan></text>
<text x="303.3" y="685.9" font-size="8.2" text-anchor="middle" fill="#231f20">HSCs</text>
<text x="458.6" y="566.1" font-size="8.2" text-anchor="middle" textLength="33.2" lengthAdjust="spacingAndGlyphs" fill="#231f20">Estimate:</text>
<text x="458.6" y="626.4" font-size="8.2" text-anchor="middle" textLength="33.2" lengthAdjust="spacingAndGlyphs" fill="#231f20">Estimate:</text>
<text x="458.6" y="677" font-size="8.2" text-anchor="middle" textLength="33.2" lengthAdjust="spacingAndGlyphs" fill="#231f20">Estimate:</text>
<text x="458.6" y="575.6" font-size="8.2" text-anchor="middle" fill="#231f20">1/35</text>
<text x="458.6" y="635.8" font-size="8.2" text-anchor="middle" fill="#231f20">1/56</text>
<text x="458.6" y="686" font-size="8.2" text-anchor="middle" fill="#231f20">1/623</text>
<path d="M481.3,576.7 H487.2 V625.3 H481.3" fill="none" stroke="#444" stroke-width="1.1"/>
<path d="M481.3,632.5 H487.4 V680.6 H481.3" fill="none" stroke="#444" stroke-width="1.1"/>
<path d="M497.9,576.7 H504.3 V680.6 H497.9" fill="none" stroke="#444" stroke-width="1.1"/>
<text x="495.6" y="602.5" font-size="7.3" text-anchor="middle" textLength="10.8" lengthAdjust="spacingAndGlyphs" fill="#231f20">n.s.</text>
<circle cx="491.4" cy="652" r="0.85" fill="#333"/>
<circle cx="491.4" cy="655" r="0.85" fill="#333"/>
<circle cx="491.4" cy="658" r="0.85" fill="#333"/>
<circle cx="491.4" cy="661" r="0.85" fill="#333"/>
<circle cx="507.8" cy="624.3" r="0.85" fill="#333"/>
<circle cx="507.8" cy="627.3" r="0.85" fill="#333"/>
<circle cx="507.8" cy="630.3" r="0.85" fill="#333"/>
<circle cx="507.8" cy="633.3" r="0.85" fill="#333"/>
</svg></body></html>
